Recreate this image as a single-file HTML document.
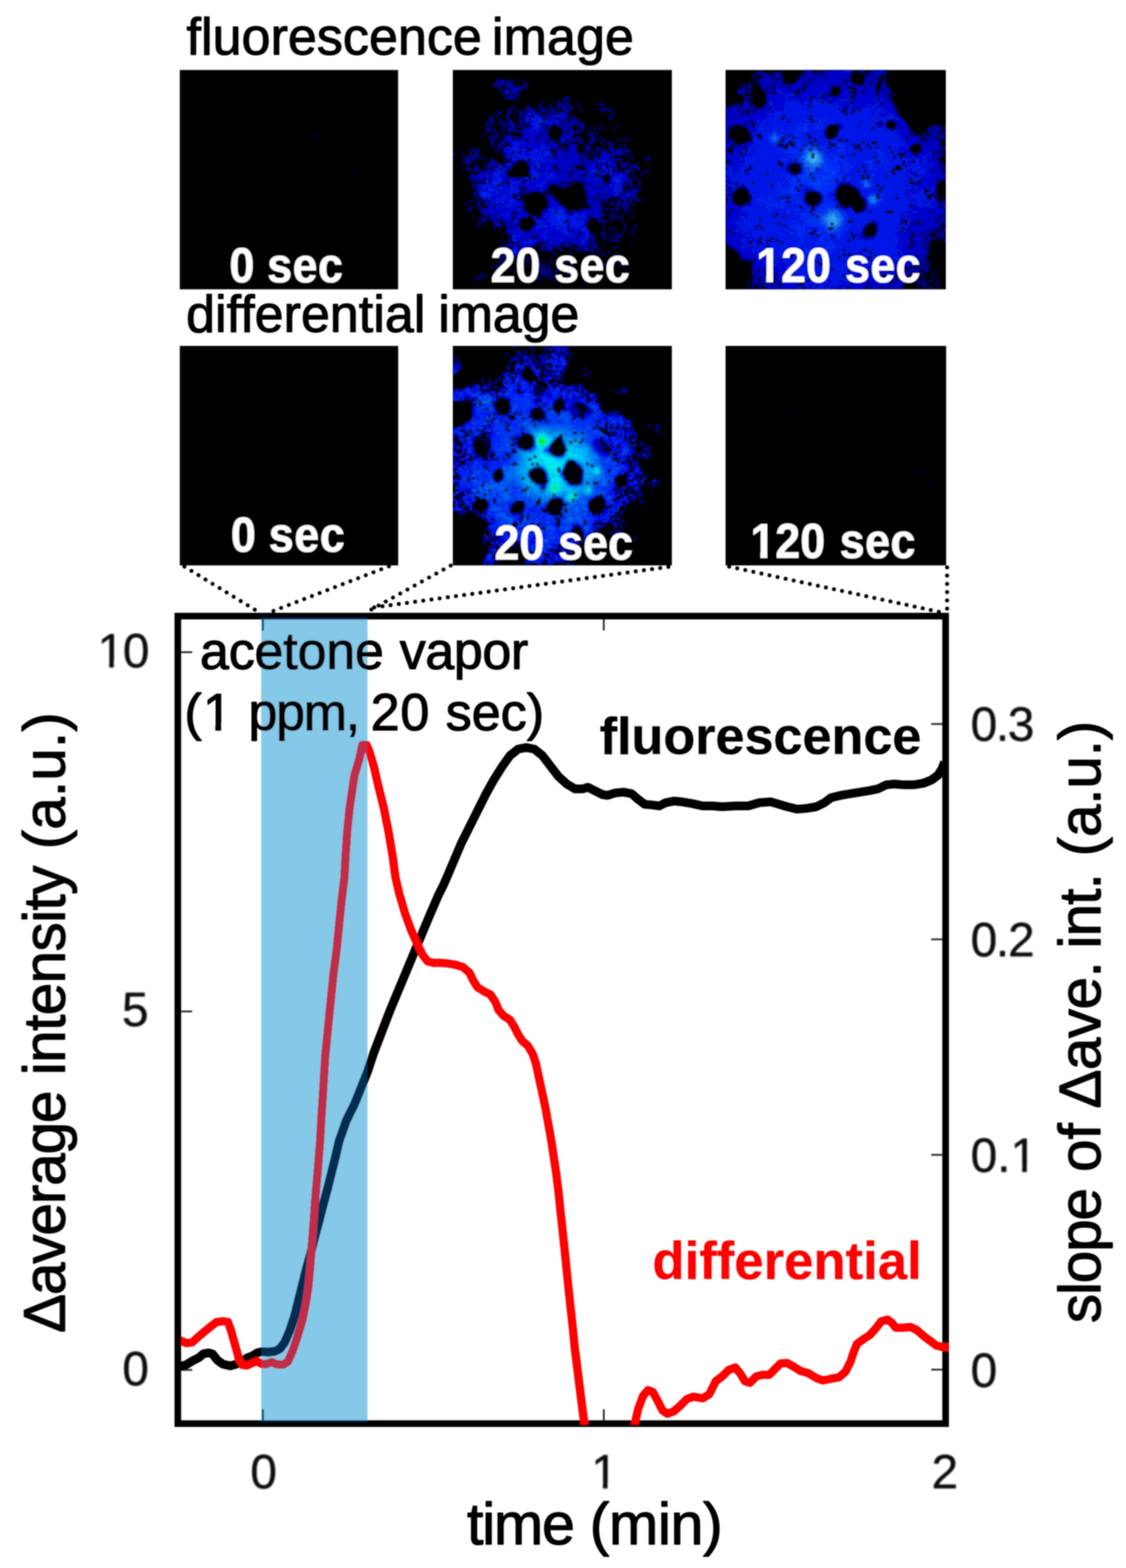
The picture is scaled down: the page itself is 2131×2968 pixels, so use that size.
<!DOCTYPE html>
<html lang="en"><head><meta charset="utf-8"><title>fluorescence image, differential image</title>
<style>html,body{margin:0;padding:0;background:#fff;}body{width:2131px;height:2968px;overflow:hidden;}svg{display:block;}text{font-family:"Liberation Sans",sans-serif;}</style>
</head><body>
<svg width="2131" height="2968" viewBox="0 0 2131 2968">
<defs>
<clipPath id="cband"><rect x="494.3" y="1166.2" width="201.2" height="1528.5"/></clipPath>
<clipPath id="cplot"><rect x="330.2" y="1166.2" width="1465.6" height="1530.5"/></clipPath>
<clipPath id="cf0"><rect x="340.3" y="132.5" width="413.1" height="415.1"/></clipPath>
<clipPath id="cf20"><rect x="857.0" y="132.5" width="414.5" height="415.1"/></clipPath>
<clipPath id="cf120"><rect x="1373.2" y="132.5" width="416.8" height="415.1"/></clipPath>
<clipPath id="cd0"><rect x="340.3" y="654.8" width="413.3" height="415.4"/></clipPath>
<clipPath id="cd20"><rect x="857.0" y="654.8" width="414.5" height="415.4"/></clipPath>
<clipPath id="cd120"><rect x="1373.2" y="654.8" width="417.4" height="415.4"/></clipPath>
<filter id="soft" x="-2%" y="-2%" width="104%" height="104%"><feGaussianBlur stdDeviation="1.2"/></filter>
<filter id="softi" x="-5%" y="-5%" width="110%" height="110%"><feGaussianBlur stdDeviation="1.5"/></filter>
<filter id="softt" x="-20%" y="-20%" width="140%" height="140%"><feGaussianBlur stdDeviation="1.0"/></filter>
<clipPath id="k0"><path clip-rule="evenodd" d="M-3000 -300H3000V300H-3000zM1560.7 -11.6H1583.3V5.5H1560.7zM1597.2 -11.6H1613.2V5.5H1597.2z"/></clipPath><clipPath id="k1"><path clip-rule="evenodd" d="M-3000 -300H3000V300H-3000zM1548.6 -11.6H1571.2V5.5H1548.6zM1585.1 -11.6H1601.1V5.5H1585.1z"/></clipPath><clipPath id="k2"><path clip-rule="evenodd" d="M-3000 -300H3000V300H-3000zM382.2 -13.3H407.6V5.9H382.2zM418.4 -13.3H438.2V5.9H418.4z"/></clipPath><clipPath id="k3"><path clip-rule="evenodd" d="M-3000 -300H3000V300H-3000zM182.8 -12.2H206.7V5.4H182.8zM215.4 -12.2H234.2V5.4H215.4z"/></clipPath><clipPath id="k4"><path clip-rule="evenodd" d="M-3000 -300H3000V300H-3000zM1910.6 -12.2H1934.5V5.4H1910.6zM1943.2 -12.2H1962.0V5.4H1943.2z"/></clipPath><clipPath id="k5"><path clip-rule="evenodd" d="M-3000 -300H3000V300H-3000zM1117.2 -12.2H1141.1V5.4H1117.2zM1149.8 -12.2H1168.6V5.4H1149.8z"/></clipPath></defs>
<rect width="2131" height="2968" fill="#fff"/>
<g filter="url(#soft)">
<rect x="340.3" y="132.5" width="413.1" height="415.1" fill="#000"/>
<g clip-path="url(#cf0)"><g filter="url(#softi)">
<g transform="translate(340.3,132.5) scale(4.49022,4.51196)">
<path fill="#00002a" d="M52 37h1v1h-1zM61 72h1v1h-1z"/>
<path fill="#00003f" d="M6 26h1v1h-1zM73 43h1v1h-1z"/>
<path fill="#000054" d="M57 27h1v1h-1z"/>
</g>
</g></g>
<rect x="857.0" y="132.5" width="414.5" height="415.1" fill="#000"/>
<g clip-path="url(#cf20)"><g filter="url(#softi)">
<g transform="translate(857.0,132.5) scale(4.50543,4.51196)">
<path fill="#00002a" d="M10 43h1v1h-1zM12 87h1v1h-1zM15 18h1v1h-1zM19 86h1v1h-1zM24 12h1v1h-1zM24 69h1v1h-1zM27 80h1v1h-1zM28 76h1v1h-1zM39 56h1v1h-1zM40 48h1v1h-1zM43 84h1v1h-1zM45 24h1v1h-1zM48 23h1v1h-1zM54 25h1v1h-1zM57 26h1v1h-1zM66 74h1v1h-1zM69 61h1v1h-1zM75 66h1v1h-1z"/>
<path fill="#00003f" d="M3 44h1v1h-1zM18 33h1v1h-1zM19 8h1v1h-1zM20 22h1v1h-1zM21 9h1v1h-1zM23 21h1v1h-1zM23 69h1v1h-1zM24 64h1v1h-1zM25 4h1v1h-1zM29 4h1v1h-1zM33 78h1v1h-1zM42 77h1v1h-1zM43 54h1v1h-1zM60 16h1v1h-1zM63 33h1v1h-1zM67 31h1v1h-1zM72 83h1v1h-1zM73 60h1v1h-1zM79 54h1v1h-1z"/>
<path fill="#000054" d="M3 33h1v1h-1zM7 36h1v1h-1zM7 42h1v1h-1zM17 24h1v1h-1zM18 34h1v1h-1zM22 75h1v1h-1zM24 80h1v1h-1zM31 78h1v1h-1zM49 74h1v1h-1zM54 90h1v1h-1zM56 84h1v1h-1zM58 71h1v1h-1zM66 37h1v1h-1zM74 59h1v1h-1zM78 41h1v1h-1z"/>
<path fill="#000069" d="M10 35h1v1h-1zM13 61h1v1h-1zM18 3h1v1h-1zM22 73h1v1h-1zM26 4h1v1h-1zM41 23h1v1h-1zM42 87h1v1h-1zM44 84h1v1h-1zM49 73h1v1h-1zM59 69h1v1h-1zM59 71h1v1h-1zM62 16h1v1h-1zM64 81h1v1h-1zM64 83h1v1h-1zM66 66h1v1h-1zM67 24h1v1h-1zM69 23h1v1h-1zM71 29h1v1h-1zM73 45h1v1h-1zM74 72h1v1h-1zM75 69h1v1h-1z"/>
<path fill="#00007e" d="M10 46h1v1h-1zM12 48h1v1h-1zM17 18h1v1h-1zM25 25h1v1h-1zM26 18h1v1h-1zM28 7h1v1h-1zM31 79h1v1h-1zM32 51h1v1h-1zM37 74h1v1h-1zM39 50h1v1h-1zM40 86h1v1h-1zM41 14h1v1h-1zM45 17h1v1h-1zM46 12h1v1h-1zM53 30h1v1h-1zM55 32h1v1h-1zM57 24h1v1h-1zM59 24h1v1h-1zM60 14h1v1h-1zM62 22h1v1h-1zM63 24h1v1h-1zM66 54h1v1h-1zM67 66h1v1h-1zM68 53h1v1h-1zM70 61h1v1h-1zM71 40h1v1h-1zM74 29h1v1h-1zM76 69h1v1h-1z"/>
<path fill="#000093" d="M0 35h1v1h-1zM4 38h1v1h-1zM4 41h1v1h-1zM4 36h3v1h-3zM5 56h1v1h-1zM6 41h1v1h-1zM7 34h1v2h-1zM7 55h1v1h-1zM7 58h1v1h-1zM8 33h1v1h-1zM8 54h1v1h-1zM8 57h1v1h-1zM8 61h1v1h-1zM9 39h1v1h-1zM9 44h1v1h-1zM9 87h2v1h-2zM10 33h1v1h-1zM10 37h1v1h-1zM11 45h1v1h-1zM11 55h1v1h-1zM11 86h1v1h-1zM12 61h1v1h-1zM12 85h1v1h-1zM13 37h1v1h-1zM13 40h1v1h-1zM13 45h1v1h-1zM13 56h1v1h-1zM13 86h1v1h-1zM15 43h1v1h-1zM16 82h1v1h-1zM17 32h1v1h-1zM18 4h1v1h-1zM18 30h1v1h-1zM18 39h1v1h-1zM18 75h1v1h-1zM18 82h1v2h-1zM19 22h1v1h-1zM19 76h1v1h-1zM20 24h1v1h-1zM20 31h1v1h-1zM20 65h1v1h-1zM20 71h1v1h-1zM20 73h1v1h-1zM20 78h1v1h-1zM21 35h1v1h-1zM22 23h1v1h-1zM22 43h1v1h-1zM22 64h1v1h-1zM22 81h1v1h-1zM23 7h1v1h-1zM23 16h1v2h-1zM23 82h1v1h-1zM24 27h1v1h-1zM24 72h1v1h-1zM25 6h1v1h-1zM25 15h1v1h-1zM25 74h1v1h-1zM26 9h1v1h-1zM26 16h1v1h-1zM26 78h1v1h-1zM27 8h1v1h-1zM27 28h1v1h-1zM28 17h1v1h-1zM28 62h1v1h-1zM28 78h1v1h-1zM30 6h1v2h-1zM30 79h1v1h-1zM31 81h1v1h-1zM31 17h2v1h-2zM34 85h1v1h-1zM36 14h1v1h-1zM36 80h1v1h-1zM37 13h1v1h-1zM37 59h1v1h-1zM38 81h1v1h-1zM39 18h1v1h-1zM39 27h1v1h-1zM39 53h1v1h-1zM40 52h2v1h-2zM41 75h1v1h-1zM41 79h1v1h-1zM42 53h1v1h-1zM42 85h1v1h-1zM43 18h1v1h-1zM43 83h1v1h-1zM43 87h1v1h-1zM44 48h1v1h-1zM46 23h1v1h-1zM46 33h1v1h-1zM46 49h1v1h-1zM46 24h2v1h-2zM47 11h1v1h-1zM47 13h1v1h-1zM47 34h1v1h-1zM47 79h1v1h-1zM48 15h1v1h-1zM48 17h1v1h-1zM49 79h1v1h-1zM49 81h1v1h-1zM50 74h1v1h-1zM50 29h2v1h-2zM52 14h1v1h-1zM53 16h1v1h-1zM53 25h1v1h-1zM53 28h1v1h-1zM54 29h1v2h-1zM54 47h1v1h-1zM55 49h1v1h-1zM55 86h1v1h-1zM56 26h1v1h-1zM56 31h1v1h-1zM56 80h1v1h-1zM57 34h1v1h-1zM57 37h1v1h-1zM58 78h1v1h-1zM59 36h1v1h-1zM60 32h1v2h-1zM60 52h1v1h-1zM60 55h1v1h-1zM61 24h1v1h-1zM61 28h1v1h-1zM61 75h1v1h-1zM62 57h1v1h-1zM62 68h1v1h-1zM62 76h1v1h-1zM63 70h1v2h-1zM63 81h1v1h-1zM63 16h4v1h-4zM64 55h1v1h-1zM64 63h1v1h-1zM65 35h1v1h-1zM65 67h1v1h-1zM66 20h1v1h-1zM66 30h1v1h-1zM66 39h1v1h-1zM67 17h1v1h-1zM67 19h1v1h-1zM67 37h1v1h-1zM67 62h1v1h-1zM67 69h1v1h-1zM67 71h3v1h-3zM68 42h1v1h-1zM68 57h1v2h-1zM68 80h1v1h-1zM69 29h1v1h-1zM69 52h1v1h-1zM70 39h1v1h-1zM70 56h1v1h-1zM70 62h1v1h-1zM71 48h1v1h-1zM71 52h1v1h-1zM71 57h1v1h-1zM71 60h1v1h-1zM71 63h1v1h-1zM71 68h1v1h-1zM71 79h1v2h-1zM72 28h1v1h-1zM72 33h1v1h-1zM72 43h1v1h-1zM72 66h1v1h-1zM72 51h2v1h-2zM74 34h1v1h-1zM74 36h1v1h-1zM75 37h1v1h-1zM75 42h1v2h-1zM75 48h1v1h-1zM75 61h1v1h-1zM75 67h1v1h-1zM76 45h1v1h-1zM76 56h1v1h-1zM77 39h1v2h-1zM77 48h1v1h-1zM78 46h1v1h-1zM78 54h1v1h-1zM81 37h2v1h-2zM82 36h1v1h-1z"/>
<path fill="#0000a8" d="M5 38h2v1h-2zM6 58h1v1h-1zM7 45h2v1h-2zM8 36h1v1h-1zM8 46h1v1h-1zM9 33h1v1h-1zM10 41h1v1h-1zM10 44h1v1h-1zM10 50h1v1h-1zM10 65h1v1h-1zM11 43h1v1h-1zM11 57h1v1h-1zM12 27h1v1h-1zM13 42h1v1h-1zM13 44h1v1h-1zM13 60h1v1h-1zM13 63h1v1h-1zM14 39h1v1h-1zM16 20h1v1h-1zM16 31h1v1h-1zM16 59h1v1h-1zM17 6h1v1h-1zM17 61h1v1h-1zM18 5h1v1h-1zM18 19h1v1h-1zM18 26h1v1h-1zM18 64h1v2h-1zM19 31h1v1h-1zM19 33h1v1h-1zM19 60h1v1h-1zM19 80h1v1h-1zM20 4h1v1h-1zM20 81h1v1h-1zM21 22h1v2h-1zM21 30h1v1h-1zM21 32h1v1h-1zM21 63h2v1h-2zM22 8h1v1h-1zM22 42h1v1h-1zM22 67h1v1h-1zM22 76h1v1h-1zM23 4h1v1h-1zM24 8h1v1h-1zM24 40h1v1h-1zM24 70h1v1h-1zM25 29h1v1h-1zM25 39h1v1h-1zM28 8h1v1h-1zM28 18h1v1h-1zM28 23h1v1h-1zM28 29h1v1h-1zM28 54h1v1h-1zM29 7h1v1h-1zM29 26h1v1h-1zM29 28h1v1h-1zM29 55h1v1h-1zM29 70h1v2h-1zM30 5h1v1h-1zM30 75h1v1h-1zM30 51h2v1h-2zM31 71h1v1h-1zM32 20h1v2h-1zM32 24h1v1h-1zM34 61h1v1h-1zM34 63h1v1h-1zM34 82h1v1h-1zM34 84h1v1h-1zM34 86h1v1h-1zM35 26h1v1h-1zM35 87h2v1h-2zM37 17h1v1h-1zM38 24h1v1h-1zM38 25h2v1h-2zM39 20h1v1h-1zM39 26h1v1h-1zM39 84h1v1h-1zM39 86h1v1h-1zM40 19h1v1h-1zM40 73h1v1h-1zM40 75h1v1h-1zM41 20h1v1h-1zM41 87h1v1h-1zM42 76h1v1h-1zM43 15h1v1h-1zM44 23h1v1h-1zM44 74h1v1h-1zM44 82h2v1h-2zM45 33h1v1h-1zM46 30h1v1h-1zM46 36h1v1h-1zM46 79h1v1h-1zM47 12h1v1h-1zM47 21h1v1h-1zM47 23h1v1h-1zM48 11h1v1h-1zM48 13h1v1h-1zM48 24h1v1h-1zM48 85h1v1h-1zM49 16h1v1h-1zM49 19h1v1h-1zM49 21h1v2h-1zM49 25h1v1h-1zM49 34h1v2h-1zM49 76h1v1h-1zM49 83h1v1h-1zM51 38h1v1h-1zM52 26h1v1h-1zM54 36h1v1h-1zM54 40h2v1h-2zM55 34h1v1h-1zM55 48h1v1h-1zM56 55h1v1h-1zM57 40h1v1h-1zM57 47h1v1h-1zM57 68h1v1h-1zM57 72h1v1h-1zM57 78h1v1h-1zM58 33h1v1h-1zM58 55h1v1h-1zM58 76h1v1h-1zM58 29h2v1h-2zM59 49h1v1h-1zM59 54h1v1h-1zM59 72h1v1h-1zM59 74h1v1h-1zM60 57h1v1h-1zM60 76h1v1h-1zM61 55h1v1h-1zM62 17h1v1h-1zM62 30h1v1h-1zM62 54h1v1h-1zM62 14h2v1h-2zM63 48h1v1h-1zM63 69h1v1h-1zM63 77h1v1h-1zM64 34h1v1h-1zM64 54h1v1h-1zM65 19h1v1h-1zM65 30h1v1h-1zM65 33h1v1h-1zM65 69h1v1h-1zM65 76h1v1h-1zM66 62h1v1h-1zM67 36h1v1h-1zM67 55h1v1h-1zM67 81h1v1h-1zM68 40h1v1h-1zM68 67h1v1h-1zM68 70h1v1h-1zM68 77h1v1h-1zM69 37h1v1h-1zM70 31h1v1h-1zM70 52h1v2h-1zM70 80h1v1h-1zM70 33h2v1h-2zM71 39h1v1h-1zM71 56h1v1h-1zM71 81h1v1h-1zM72 31h1v1h-1zM72 35h1v1h-1zM72 65h1v1h-1zM73 33h1v2h-1zM73 58h1v1h-1zM74 40h2v1h-2zM75 45h1v1h-1zM75 51h1v1h-1zM78 47h1v1h-1zM79 43h1v1h-1zM81 42h1v1h-1z"/>
<path fill="#0000bd" d="M6 37h1v1h-1zM6 39h1v1h-1zM7 38h1v1h-1zM7 41h1v1h-1zM7 44h2v1h-2zM9 35h1v1h-1zM9 41h1v2h-1zM9 45h1v1h-1zM9 47h1v1h-1zM9 49h1v1h-1zM10 34h1v1h-1zM10 40h1v1h-1zM10 48h1v1h-1zM10 55h1v2h-1zM11 36h1v1h-1zM11 42h1v1h-1zM11 62h1v1h-1zM11 64h1v1h-1zM11 58h2v1h-2zM12 50h1v1h-1zM12 59h1v1h-1zM12 63h1v1h-1zM13 62h1v1h-1zM14 23h1v1h-1zM14 43h1v1h-1zM14 58h1v2h-1zM14 22h2v1h-2zM14 25h2v1h-2zM15 20h1v1h-1zM15 24h1v1h-1zM15 28h1v1h-1zM15 39h1v1h-1zM15 41h1v1h-1zM15 45h1v1h-1zM15 62h1v1h-1zM16 21h1v1h-1zM16 27h1v1h-1zM16 29h1v2h-1zM16 37h1v1h-1zM16 42h1v2h-1zM16 61h1v1h-1zM16 38h2v1h-2zM16 58h2v1h-2zM17 22h1v1h-1zM17 25h1v1h-1zM17 28h1v1h-1zM17 39h1v1h-1zM17 54h1v1h-1zM17 63h1v2h-1zM17 66h1v1h-1zM17 60h2v1h-2zM18 6h1v1h-1zM18 27h1v1h-1zM18 61h1v2h-1zM18 76h1v1h-1zM18 56h2v1h-2zM18 59h2v1h-2zM19 7h1v1h-1zM19 17h1v2h-1zM19 28h1v1h-1zM19 32h1v1h-1zM19 65h1v1h-1zM19 5h2v1h-2zM19 77h2v1h-2zM20 21h1v1h-1zM20 30h1v1h-1zM20 61h1v1h-1zM21 4h1v1h-1zM21 10h1v1h-1zM21 25h1v1h-1zM21 75h1v1h-1zM22 37h1v1h-1zM22 44h1v1h-1zM22 6h3v1h-3zM22 65h3v1h-3zM23 11h1v1h-1zM23 18h1v1h-1zM23 27h1v1h-1zM23 29h1v1h-1zM23 33h1v1h-1zM23 41h1v1h-1zM23 45h1v2h-1zM23 48h1v1h-1zM23 59h1v1h-1zM23 67h1v1h-1zM23 71h1v1h-1zM23 78h1v1h-1zM23 5h2v1h-2zM23 25h2v1h-2zM23 62h2v1h-2zM23 66h2v1h-2zM23 22h3v1h-3zM24 17h1v1h-1zM24 21h1v1h-1zM24 30h1v1h-1zM24 36h1v2h-1zM24 63h1v1h-1zM24 76h1v1h-1zM25 11h1v1h-1zM25 23h1v2h-1zM25 67h1v1h-1zM25 38h2v1h-2zM26 7h1v2h-1zM26 12h1v1h-1zM26 28h1v1h-1zM26 62h1v1h-1zM26 72h1v1h-1zM26 10h2v1h-2zM26 25h2v1h-2zM27 23h1v1h-1zM27 59h1v1h-1zM27 64h1v1h-1zM27 76h1v1h-1zM27 73h2v1h-2zM28 19h1v2h-1zM28 26h1v1h-1zM28 52h1v1h-1zM28 68h1v1h-1zM28 21h3v1h-3zM29 25h1v1h-1zM29 37h1v1h-1zM29 51h1v1h-1zM29 56h1v2h-1zM29 67h1v1h-1zM29 75h1v1h-1zM29 29h2v1h-2zM29 59h2v1h-2zM30 26h1v1h-1zM30 50h1v1h-1zM30 70h1v1h-1zM31 18h1v1h-1zM31 60h1v1h-1zM31 69h1v1h-1zM31 73h1v1h-1zM31 19h2v1h-2zM31 68h3v1h-3zM32 16h1v1h-1zM32 26h1v1h-1zM32 28h1v1h-1zM32 31h1v1h-1zM32 41h1v1h-1zM32 70h1v1h-1zM32 74h1v1h-1zM33 17h1v1h-1zM33 61h1v1h-1zM33 66h1v1h-1zM33 73h1v1h-1zM34 18h1v1h-1zM34 26h1v1h-1zM34 30h1v1h-1zM34 81h1v1h-1zM34 72h2v1h-2zM35 70h1v1h-1zM35 83h1v2h-1zM35 82h2v1h-2zM36 15h1v1h-1zM36 17h1v1h-1zM36 24h1v4h-1zM36 28h2v1h-2zM37 20h1v1h-1zM37 51h1v1h-1zM37 60h1v2h-1zM37 75h1v1h-1zM37 83h1v2h-1zM37 19h2v1h-2zM37 85h2v1h-2zM38 22h1v2h-1zM38 73h1v1h-1zM38 82h1v1h-1zM38 29h2v1h-2zM39 17h1v1h-1zM39 49h1v1h-1zM39 72h1v1h-1zM39 74h1v2h-1zM39 28h2v1h-2zM40 15h1v1h-1zM40 20h1v1h-1zM40 23h1v2h-1zM40 45h1v1h-1zM40 47h1v1h-1zM40 56h1v1h-1zM40 81h1v1h-1zM40 84h1v2h-1zM40 42h2v1h-2zM40 71h2v1h-2zM41 22h1v1h-1zM41 29h1v1h-1zM41 40h1v1h-1zM41 53h1v1h-1zM41 70h1v1h-1zM41 74h1v1h-1zM41 54h2v1h-2zM42 18h1v1h-1zM42 31h1v1h-1zM42 41h1v1h-1zM42 47h2v1h-2zM42 69h2v1h-2zM42 73h2v1h-2zM43 19h1v1h-1zM43 32h1v1h-1zM43 37h1v1h-1zM43 39h1v1h-1zM43 42h1v1h-1zM44 13h1v1h-1zM44 31h1v1h-1zM44 33h1v1h-1zM44 38h1v1h-1zM44 41h1v1h-1zM44 55h1v1h-1zM44 43h3v1h-3zM45 35h1v1h-1zM45 37h1v1h-1zM45 75h1v1h-1zM45 14h2v1h-2zM45 34h2v1h-2zM45 44h4v1h-4zM45 48h4v1h-4zM46 25h1v2h-1zM46 32h1v1h-1zM46 39h1v2h-1zM46 42h1v1h-1zM46 57h1v1h-1zM46 69h1v1h-1zM46 80h1v2h-1zM46 18h2v1h-2zM46 73h2v1h-2zM47 17h1v1h-1zM47 30h1v1h-1zM47 35h1v2h-1zM47 38h1v1h-1zM47 58h1v1h-1zM47 70h1v1h-1zM47 83h1v1h-1zM47 46h2v1h-2zM47 45h3v1h-3zM48 14h1v1h-1zM48 26h1v1h-1zM48 34h1v1h-1zM48 37h1v1h-1zM48 43h1v1h-1zM48 71h2v1h-2zM48 32h4v2h-4zM49 15h1v1h-1zM49 24h1v1h-1zM49 29h1v3h-1zM49 38h1v1h-1zM49 72h1v1h-1zM49 82h1v1h-1zM49 59h4v1h-4zM50 22h1v1h-1zM50 26h1v1h-1zM50 34h1v1h-1zM50 40h1v2h-1zM50 47h1v1h-1zM50 70h1v1h-1zM50 20h2v1h-2zM51 36h1v1h-1zM51 72h1v1h-1zM51 43h2v1h-2zM51 39h3v1h-3zM51 45h3v1h-3zM52 28h1v2h-1zM52 35h1v1h-1zM52 70h1v2h-1zM52 46h3v1h-3zM52 38h4v1h-4zM53 37h1v1h-1zM53 44h1v1h-1zM53 75h1v1h-1zM54 22h1v1h-1zM54 24h1v1h-1zM54 35h1v1h-1zM54 43h1v1h-1zM54 73h1v1h-1zM54 74h2v1h-2zM54 58h7v1h-7zM55 45h1v1h-1zM55 59h1v1h-1zM55 72h1v1h-1zM55 36h2v1h-2zM56 33h1v1h-1zM56 39h1v3h-1zM56 46h1v2h-1zM56 49h1v1h-1zM56 63h1v1h-1zM56 66h1v1h-1zM56 73h1v1h-1zM56 75h1v1h-1zM56 32h2v1h-2zM56 50h2v1h-2zM56 54h2v1h-2zM57 27h1v1h-1zM57 53h1v1h-1zM57 56h1v1h-1zM57 70h1v1h-1zM57 30h2v1h-2zM57 48h3v1h-3zM57 52h3v1h-3zM57 59h3v1h-3zM57 38h4v1h-4zM58 26h1v1h-1zM58 35h1v1h-1zM58 57h1v1h-1zM58 60h1v2h-1zM58 69h1v1h-1zM58 72h1v1h-1zM58 74h1v2h-1zM58 28h2v1h-2zM58 47h2v1h-2zM59 37h1v1h-1zM59 40h1v1h-1zM59 46h1v1h-1zM59 50h1v1h-1zM59 55h1v2h-1zM59 73h2v1h-2zM60 26h1v1h-1zM60 35h1v1h-1zM60 41h1v1h-1zM60 51h1v1h-1zM60 54h1v1h-1zM60 49h2v1h-2zM60 53h2v1h-2zM61 33h1v1h-1zM61 40h1v1h-1zM61 46h1v1h-1zM61 48h1v1h-1zM61 57h1v1h-1zM61 63h1v1h-1zM61 47h2v1h-2zM62 51h1v1h-1zM62 58h1v1h-1zM63 29h1v1h-1zM63 32h1v1h-1zM63 34h1v1h-1zM63 60h1v1h-1zM63 63h1v1h-1zM63 65h1v1h-1zM63 68h1v1h-1zM63 53h3v1h-3zM64 37h1v2h-1zM64 40h1v1h-1zM64 51h1v1h-1zM64 58h1v1h-1zM64 49h3v1h-3zM65 47h1v2h-1zM66 31h1v2h-1zM66 51h1v1h-1zM66 56h1v1h-1zM66 58h1v1h-1zM66 71h1v1h-1zM66 60h2v1h-2zM67 33h1v1h-1zM67 35h1v1h-1zM67 34h2v1h-2zM68 39h1v1h-1zM68 61h1v1h-1zM68 74h1v1h-1zM69 55h1v2h-1zM69 58h1v1h-1zM70 35h1v1h-1zM70 37h1v1h-1zM70 43h1v1h-1zM70 69h1v1h-1zM71 34h1v1h-1zM71 50h1v1h-1zM71 54h2v1h-2zM72 56h1v1h-1zM72 39h2v1h-2zM73 44h1v1h-1zM73 57h1v1h-1zM74 46h1v3h-1zM74 53h1v1h-1zM76 40h1v1h-1zM76 52h1v2h-1zM76 65h1v1h-1zM77 41h1v1h-1zM77 54h1v1h-1zM78 50h1v1h-1z"/>
<path fill="#0000d2" d="M8 37h1v1h-1zM8 48h1v1h-1zM9 36h1v1h-1zM9 51h1v2h-1zM10 45h1v1h-1zM10 53h1v1h-1zM10 49h2v1h-2zM11 46h1v1h-1zM11 50h1v1h-1zM11 44h2v1h-2zM12 45h1v1h-1zM12 47h1v1h-1zM12 53h1v1h-1zM12 43h2v1h-2zM12 54h2v1h-2zM13 46h1v1h-1zM13 58h1v2h-1zM13 50h2v1h-2zM14 45h1v1h-1zM14 49h1v1h-1zM14 42h2v1h-2zM14 60h3v1h-3zM14 56h4v1h-4zM15 40h1v1h-1zM15 47h1v1h-1zM15 58h1v2h-1zM15 44h2v1h-2zM15 57h2v1h-2zM15 51h3v1h-3zM16 39h1v1h-1zM16 45h1v2h-1zM16 48h1v1h-1zM16 54h1v1h-1zM16 62h2v1h-2zM16 53h4v1h-4zM17 40h1v2h-1zM17 52h1v1h-1zM17 55h1v1h-1zM17 59h1v1h-1zM17 42h2v1h-2zM17 49h2v1h-2zM18 45h1v1h-1zM18 48h1v1h-1zM18 58h9v1h-9zM19 39h1v1h-1zM19 41h1v1h-1zM19 51h1v1h-1zM19 55h1v1h-1zM19 63h1v2h-1zM19 52h2v1h-2zM19 57h2v1h-2zM19 50h3v1h-3zM20 6h1v1h-1zM20 43h1v1h-1zM20 44h2v1h-2zM20 48h2v1h-2zM20 56h2v1h-2zM20 45h3v1h-3zM20 59h3v1h-3zM20 62h3v1h-3zM21 5h1v1h-1zM21 8h1v1h-1zM21 27h1v1h-1zM21 42h1v1h-1zM21 46h1v1h-1zM21 60h1v1h-1zM21 79h1v1h-1zM21 29h2v1h-2zM21 33h2v2h-2zM21 39h2v1h-2zM21 47h2v1h-2zM21 54h2v1h-2zM21 74h2v1h-2zM21 49h3v1h-3zM21 51h3v1h-3zM21 61h4v1h-4zM22 11h1v1h-1zM22 19h1v1h-1zM22 32h1v1h-1zM22 36h1v1h-1zM22 41h1v1h-1zM22 57h1v1h-1zM22 77h1v2h-1zM22 40h2v1h-2zM22 55h2v1h-2zM22 28h3v1h-3zM22 35h3v1h-3zM23 8h1v2h-1zM23 20h1v1h-1zM23 24h1v1h-1zM23 30h1v1h-1zM23 50h1v1h-1zM23 52h1v1h-1zM23 63h1v2h-1zM23 75h2v1h-2zM23 53h3v1h-3zM23 73h4v1h-4zM23 68h5v1h-5zM24 10h1v2h-1zM24 23h1v1h-1zM24 29h1v1h-1zM24 32h1v1h-1zM24 34h1v1h-1zM24 38h1v2h-1zM24 59h1v1h-1zM24 67h1v1h-1zM24 77h1v1h-1zM24 31h2v1h-2zM24 60h2v1h-2zM24 45h3v1h-3zM24 57h3v1h-3zM25 7h1v3h-1zM25 50h1v1h-1zM25 56h1v1h-1zM25 63h1v1h-1zM25 65h1v1h-1zM25 64h2v1h-2zM25 66h2v1h-2zM25 46h3v1h-3zM25 48h4v1h-4zM26 36h1v1h-1zM26 54h1v1h-1zM26 59h1v1h-1zM26 77h1v1h-1zM26 29h2v1h-2zM26 67h2v1h-2zM26 55h3v1h-3zM26 70h3v1h-3zM26 61h6v1h-6zM27 7h1v1h-1zM27 34h1v1h-1zM27 49h1v1h-1zM27 51h1v2h-1zM27 62h1v2h-1zM27 65h1v1h-1zM27 37h2v1h-2zM27 71h2v1h-2zM27 75h2v1h-2zM27 60h4v1h-4zM27 32h10v1h-10zM28 30h1v1h-1zM28 33h1v1h-1zM28 35h1v1h-1zM28 47h1v1h-1zM28 50h1v1h-1zM28 56h1v2h-1zM28 59h1v1h-1zM28 72h1v1h-1zM28 45h2v1h-2zM28 69h3v1h-3zM28 31h4v1h-4zM28 74h4v1h-4zM29 17h1v1h-1zM29 23h1v1h-1zM29 46h1v1h-1zM29 49h1v1h-1zM29 58h1v1h-1zM29 73h2v1h-2zM29 27h7v1h-7zM30 18h1v3h-1zM30 22h1v1h-1zM30 47h1v1h-1zM30 68h1v1h-1zM30 24h2v2h-2zM30 28h2v1h-2zM30 34h2v1h-2zM30 35h3v1h-3zM30 30h4v1h-4zM30 48h5v1h-5zM31 15h1v2h-1zM31 26h1v1h-1zM31 70h1v1h-1zM31 38h2v1h-2zM31 46h2v1h-2zM31 50h6v1h-6zM31 49h8v1h-8zM32 22h1v1h-1zM32 40h1v1h-1zM32 42h1v2h-1zM32 69h1v1h-1zM32 73h1v1h-1zM32 23h2v1h-2zM32 39h2v1h-2zM32 47h5v1h-5zM32 67h7v1h-7zM33 16h1v1h-1zM33 18h1v1h-1zM33 21h1v1h-1zM33 24h1v1h-1zM33 33h1v1h-1zM33 70h1v2h-1zM33 25h2v1h-2zM33 28h2v1h-2zM33 31h4v1h-4zM33 29h5v1h-5zM34 17h1v1h-1zM34 38h1v1h-1zM34 65h1v2h-1zM34 69h1v1h-1zM34 73h1v1h-1zM34 35h2v1h-2zM34 68h4v1h-4zM34 41h5v1h-5zM34 46h13v1h-13zM35 18h1v1h-1zM35 20h1v2h-1zM35 42h1v1h-1zM35 64h1v1h-1zM35 62h5v1h-5zM35 71h5v1h-5zM36 19h1v1h-1zM36 22h1v1h-1zM36 33h1v1h-1zM36 38h1v1h-1zM36 81h1v1h-1zM36 66h2v1h-2zM36 70h2v1h-2zM36 30h3v1h-3zM36 45h3v1h-3zM37 23h1v3h-1zM37 34h1v2h-1zM37 43h1v1h-1zM37 64h1v1h-1zM37 69h1v1h-1zM37 73h1v1h-1zM37 16h2v1h-2zM37 26h2v1h-2zM37 42h3v1h-3zM37 44h3v1h-3zM37 40h4v1h-4zM38 27h1v2h-1zM38 36h1v1h-1zM38 50h1v1h-1zM38 60h1v1h-1zM38 84h1v1h-1zM38 37h2v1h-2zM38 48h2v1h-2zM38 63h2v1h-2zM38 33h3v1h-3zM38 59h3v1h-3zM38 31h4v1h-4zM38 39h5v1h-5zM39 22h1v1h-1zM39 32h1v1h-1zM39 47h1v1h-1zM39 52h1v1h-1zM39 58h1v1h-1zM39 69h1v1h-1zM39 73h1v1h-1zM39 64h2v1h-2zM39 66h2v1h-2zM39 38h5v1h-5zM39 68h8v1h-8zM40 18h1v1h-1zM40 21h1v1h-1zM40 43h1v1h-1zM40 53h1v2h-1zM40 61h1v1h-1zM40 65h1v1h-1zM40 70h1v1h-1zM40 72h1v1h-1zM40 74h1v1h-1zM40 83h1v1h-1zM40 41h2v1h-2zM40 55h2v1h-2zM40 57h2v1h-2zM40 30h3v1h-3zM40 67h5v1h-5zM41 16h1v1h-1zM41 19h1v1h-1zM41 47h1v1h-1zM41 69h1v1h-1zM41 73h1v1h-1zM41 17h2v1h-2zM41 35h2v1h-2zM41 37h2v1h-2zM41 56h4v1h-4zM42 21h1v1h-1zM42 32h1v2h-1zM42 42h1v1h-1zM42 45h1v1h-1zM42 65h1v2h-1zM42 20h2v1h-2zM42 22h2v1h-2zM42 43h2v1h-2zM42 71h3v1h-3zM42 72h4v1h-4zM43 31h1v1h-1zM43 55h1v1h-1zM43 57h1v1h-1zM43 34h2v1h-2zM43 44h2v1h-2zM43 36h3v1h-3zM43 70h4v1h-4zM44 14h1v1h-1zM44 16h1v1h-1zM44 18h1v1h-1zM44 35h1v1h-1zM44 37h1v1h-1zM44 47h1v1h-1zM44 73h1v1h-1zM44 21h2v1h-2zM44 39h2v2h-2zM44 69h2v1h-2zM44 45h3v1h-3zM45 23h1v1h-1zM45 29h1v2h-1zM45 42h1v1h-1zM45 66h1v1h-1zM45 38h2v1h-2zM45 19h3v2h-3zM45 28h4v1h-4zM45 41h5v1h-5zM46 15h1v1h-1zM46 35h1v1h-1zM46 16h2v1h-2zM46 37h2v1h-2zM46 71h2v1h-2zM46 22h3v1h-3zM46 27h4v1h-4zM47 25h1v1h-1zM47 43h1v1h-1zM47 47h1v1h-1zM47 59h1v1h-1zM47 72h1v1h-1zM47 40h2v1h-2zM47 39h4v1h-4zM48 29h1v1h-1zM48 35h1v1h-1zM48 38h1v1h-1zM48 60h1v1h-1zM48 66h1v2h-1zM48 69h1v1h-1zM48 73h1v1h-1zM48 42h2v1h-2zM48 70h2v1h-2zM48 36h3v1h-3zM49 23h1v1h-1zM49 26h1v1h-1zM49 46h1v1h-1zM49 37h4v1h-4zM49 68h4v1h-4zM50 21h1v1h-1zM50 25h1v1h-1zM50 28h1v1h-1zM50 38h1v1h-1zM50 43h1v1h-1zM50 45h1v1h-1zM50 60h1v1h-1zM50 66h1v1h-1zM50 72h1v1h-1zM50 31h2v1h-2zM50 35h2v1h-2zM50 69h2v1h-2zM50 71h2v1h-2zM50 44h3v1h-3zM50 67h4v1h-4zM51 34h1v1h-1zM51 41h1v1h-1zM51 70h1v1h-1zM51 22h2v1h-2zM51 42h7v1h-7zM52 21h1v1h-1zM52 25h1v1h-1zM52 36h1v1h-1zM52 75h1v1h-1zM52 62h2v1h-2zM52 66h2v1h-2zM52 72h2v2h-2zM53 35h1v1h-1zM53 43h1v1h-1zM53 60h1v1h-1zM53 71h1v1h-1zM53 23h2v1h-2zM53 59h2v1h-2zM53 69h3v2h-3zM54 45h1v1h-1zM54 65h2v1h-2zM54 68h2v1h-2zM55 37h1v1h-1zM55 39h1v1h-1zM55 43h1v1h-1zM55 46h1v1h-1zM55 63h1v2h-1zM55 73h1v1h-1zM55 75h1v1h-1zM55 62h2v1h-2zM56 38h1v1h-1zM56 48h1v1h-1zM56 52h1v1h-1zM56 59h1v1h-1zM56 61h1v1h-1zM56 71h1v2h-1zM56 74h1v1h-1zM56 60h2v1h-2zM56 45h4v1h-4zM56 51h4v1h-4zM57 55h1v1h-1zM57 69h1v1h-1zM57 46h2v1h-2zM57 49h2v1h-2zM57 39h3v1h-3zM57 41h3v1h-3zM57 44h3v1h-3zM58 40h1v1h-1zM58 50h1v1h-1zM58 53h1v2h-1zM58 56h1v1h-1zM58 43h2v1h-2zM59 57h1v1h-1zM59 70h1v1h-1zM59 60h3v1h-3zM60 40h1v1h-1zM60 46h1v3h-1zM60 56h2v1h-2zM60 59h2v1h-2zM60 61h3v1h-3zM60 37h4v1h-4zM60 50h8v1h-8zM61 39h1v1h-1zM61 51h1v1h-1zM61 58h1v1h-1zM61 62h1v1h-1zM61 45h2v1h-2zM62 34h1v1h-1zM62 38h1v1h-1zM62 40h1v5h-1zM62 46h1v1h-1zM62 48h1v1h-1zM62 53h1v1h-1zM62 55h1v1h-1zM62 63h1v1h-1zM62 52h2v1h-2zM62 35h3v1h-3zM62 36h4v1h-4zM63 39h1v1h-1zM63 47h1v1h-1zM63 49h1v1h-1zM63 51h1v1h-1zM64 43h1v1h-1zM64 48h1v1h-1zM64 41h2v1h-2zM65 37h1v1h-1zM65 42h1v1h-1zM65 51h1v1h-1zM65 38h3v1h-3zM65 52h3v1h-3zM66 33h1v1h-1zM66 35h1v1h-1zM66 45h1v2h-1zM66 40h2v1h-2zM66 47h3v1h-3zM66 44h4v1h-4zM67 39h1v1h-1zM67 48h1v2h-1zM67 51h2v1h-2zM67 43h3v1h-3zM68 37h1v1h-1zM68 41h1v1h-1zM69 33h1v3h-1zM69 49h1v2h-1zM69 54h1v1h-1zM69 69h1v1h-1zM70 42h1v1h-1zM70 48h1v1h-1zM70 51h1v1h-1zM70 47h2v1h-2zM70 45h3v1h-3zM71 43h1v1h-1zM71 44h2v1h-2zM71 53h2v1h-2zM71 46h3v1h-3zM72 40h1v1h-1zM72 42h1v1h-1zM72 48h1v1h-1zM72 52h1v1h-1zM72 55h1v1h-1zM72 58h1v1h-1zM73 50h1v1h-1zM73 56h1v1h-1zM74 41h1v1h-1zM74 51h1v2h-1zM74 54h1v2h-1zM75 53h1v1h-1zM75 50h3v1h-3zM76 51h1v1h-1z"/>
<path fill="#0015d2" d="M14 44h1v1h-1zM17 44h1v1h-1zM18 52h1v1h-1zM21 43h1v1h-1zM21 52h1v1h-1zM21 57h1v1h-1zM22 9h1v1h-1zM22 48h1v1h-1zM23 34h1v1h-1zM23 39h1v1h-1zM23 56h1v1h-1zM25 36h1v1h-1zM27 30h1v1h-1zM27 53h1v1h-1zM27 58h2v1h-2zM28 67h1v1h-1zM29 33h1v1h-1zM29 48h1v1h-1zM30 36h1v1h-1zM31 21h1v1h-1zM31 37h1v1h-1zM32 29h1v1h-1zM33 44h1v1h-1zM34 62h1v1h-1zM37 36h1v1h-1zM37 38h1v1h-1zM37 63h1v1h-1zM37 65h1v1h-1zM37 32h2v1h-2zM38 21h1v1h-1zM38 43h1v1h-1zM39 41h1v1h-1zM40 32h1v1h-1zM41 45h1v1h-1zM41 72h1v1h-1zM43 45h1v1h-1zM44 65h1v1h-1zM45 18h1v1h-1zM51 66h1v1h-1zM52 61h1v1h-1zM52 63h1v1h-1zM55 60h1v1h-1zM56 44h1v1h-1zM59 61h1v1h-1zM60 45h1v1h-1zM61 38h1v1h-1zM66 41h1v1h-1zM67 46h1v1h-1z"/>
<path fill="#0015e7" d="M11 48h1v1h-1zM11 51h1v2h-1zM12 49h2v1h-2zM13 51h2v1h-2zM13 48h3v1h-3zM13 53h3v1h-3zM14 46h1v2h-1zM14 52h1v1h-1zM14 55h1v1h-1zM15 54h1v1h-1zM15 49h2v1h-2zM16 47h1v1h-1zM16 52h1v1h-1zM16 55h1v1h-1zM16 50h3v1h-3zM17 45h1v1h-1zM17 48h1v1h-1zM17 43h3v1h-3zM17 46h4v1h-4zM18 41h1v1h-1zM18 47h1v1h-1zM18 51h1v1h-1zM18 55h1v1h-1zM18 57h1v1h-1zM18 44h2v1h-2zM18 54h3v1h-3zM19 61h1v1h-1zM19 40h2v1h-2zM19 42h2v1h-2zM19 49h2v1h-2zM20 51h1v1h-1zM20 60h1v1h-1zM20 55h2v1h-2zM20 53h3v1h-3zM21 41h1v1h-1zM22 50h1v1h-1zM22 52h1v1h-1zM22 56h1v1h-1zM22 60h2v1h-2zM23 32h1v1h-1zM23 36h1v1h-1zM23 57h1v1h-1zM23 76h1v1h-1zM23 54h3v1h-3zM24 46h1v1h-1zM24 48h1v1h-1zM24 50h1v1h-1zM24 52h1v1h-1zM24 56h1v1h-1zM24 55h2v1h-2zM24 49h3v1h-3zM24 51h3v1h-3zM24 33h4v1h-4zM24 47h4v1h-4zM25 70h1v1h-1zM25 30h2v1h-2zM25 32h2v1h-2zM25 37h2v1h-2zM25 71h2v1h-2zM25 75h2v2h-2zM25 35h3v1h-3zM25 69h3v1h-3zM26 34h1v1h-1zM26 63h1v1h-1zM26 74h1v1h-1zM26 31h2v1h-2zM26 50h2v1h-2zM26 56h2v1h-2zM27 66h1v1h-1zM27 77h1v1h-1zM27 36h3v1h-3zM28 46h1v1h-1zM29 30h1v1h-1zM29 34h1v2h-1zM29 68h1v1h-1zM29 72h5v1h-5zM30 33h1v1h-1zM30 37h1v1h-1zM30 71h1v1h-1zM30 45h2v1h-2zM31 20h1v1h-1zM31 47h1v1h-1zM31 36h6v1h-6zM32 18h1v1h-1zM32 25h1v1h-1zM32 71h1v1h-1zM32 34h5v1h-5zM33 26h1v1h-1zM33 35h1v1h-1zM33 38h1v1h-1zM33 40h1v2h-1zM33 45h1v2h-1zM33 42h2v1h-2zM33 22h3v1h-3zM33 43h4v1h-4zM33 37h5v1h-5zM34 20h1v2h-1zM34 23h1v1h-1zM34 71h1v1h-1zM34 19h2v1h-2zM34 24h2v1h-2zM34 33h2v1h-2zM34 39h3v1h-3zM34 44h3v1h-3zM35 25h1v1h-1zM35 38h1v1h-1zM35 45h1v1h-1zM35 66h1v1h-1zM35 40h2v1h-2zM35 63h2v1h-2zM35 65h2v1h-2zM35 48h3v1h-3zM36 23h1v1h-1zM36 35h1v1h-1zM36 64h1v1h-1zM36 69h1v1h-1zM37 21h1v1h-1zM37 31h1v1h-1zM37 33h1v1h-1zM37 50h1v1h-1zM37 47h2v1h-2zM38 38h1v1h-1zM38 64h1v1h-1zM38 66h1v1h-1zM38 68h1v2h-1zM38 61h2v1h-2zM38 65h2v1h-2zM38 70h2v1h-2zM38 34h3v2h-3zM39 21h1v1h-1zM39 36h1v1h-1zM39 43h1v1h-1zM39 45h1v1h-1zM39 67h1v1h-1zM39 60h4v1h-4zM40 22h1v1h-1zM40 37h1v1h-1zM40 69h1v1h-1zM40 44h3v1h-3zM40 62h4v1h-4zM40 63h5v1h-5zM40 58h7v1h-7zM41 21h1v1h-1zM41 36h1v1h-1zM41 43h1v1h-1zM41 59h1v1h-1zM41 65h1v2h-1zM41 61h3v1h-3zM41 64h4v1h-4zM42 19h1v1h-1zM42 55h1v1h-1zM42 57h1v1h-1zM42 70h1v1h-1zM43 21h1v1h-1zM43 65h1v1h-1zM43 66h2v1h-2zM44 19h1v1h-1zM44 22h1v1h-1zM44 60h1v1h-1zM44 57h2v1h-2zM45 61h1v2h-1zM45 71h1v1h-1zM45 65h3v1h-3zM45 67h3v1h-3zM46 29h1v1h-1zM46 59h1v1h-1zM46 63h1v1h-1zM46 60h2v1h-2zM46 66h2v1h-2zM46 64h9v1h-9zM47 69h1v1h-1zM47 68h2v1h-2zM47 61h5v2h-5zM49 66h1v1h-1zM49 69h1v1h-1zM49 63h3v1h-3zM49 65h5v1h-5zM51 60h2v1h-2zM53 63h2v1h-2zM53 61h3v1h-3zM54 60h1v1h-1zM54 62h1v1h-1zM54 72h1v1h-1zM54 66h2v1h-2zM54 71h2v1h-2zM54 67h3v1h-3zM56 68h1v3h-1zM57 43h1v1h-1zM58 42h3v1h-3zM61 43h1v1h-1zM63 38h1v1h-1zM63 40h1v2h-1zM63 43h1v1h-1zM64 42h1v1h-1zM65 39h1v1h-1zM66 42h1v2h-1zM66 48h1v1h-1zM67 45h3v1h-3zM68 49h1v1h-1zM68 52h1v1h-1zM68 48h2v1h-2zM69 47h1v1h-1zM69 51h1v1h-1zM70 44h1v1h-1zM70 46h1v1h-1zM70 49h1v2h-1zM73 42h1v1h-1zM73 52h1v1h-1z"/>
<path fill="#002afc" d="M12 51h1v1h-1zM12 52h2v1h-2zM15 50h1v1h-1zM15 52h1v1h-1zM17 47h1v1h-1zM19 45h1v1h-1zM19 47h1v1h-1zM33 20h1v1h-1zM35 23h1v1h-1zM36 20h1v1h-1zM42 59h1v1h-1zM43 60h1v1h-1zM44 62h1v1h-1zM44 59h2v1h-2zM45 60h1v1h-1zM45 63h1v2h-1zM46 61h1v2h-1zM68 50h1v1h-1zM68 46h2v1h-2z"/>
<path fill="#003ffc" d="M36 21h1v1h-1zM44 61h1v1h-1z"/>
</g>
</g></g>
<rect x="1373.2" y="132.5" width="416.8" height="415.1" fill="#000"/>
<g clip-path="url(#cf120)"><g filter="url(#softi)">
<g transform="translate(1373.2,132.5) scale(4.53043,4.51196)">
<path fill="#00002a" d="M33 52h1v1h-1zM63 2h1v1h-1zM68 10h1v1h-1zM69 8h1v1h-1zM83 71h1v1h-1zM84 75h1v1h-1zM86 68h1v1h-1zM87 86h1v1h-1zM89 70h1v1h-1z"/>
<path fill="#00003f" d="M11 14h1v1h-1zM11 80h1v1h-1zM11 90h1v1h-1zM37 0h1v1h-1zM47 24h1v1h-1zM61 3h1v1h-1zM63 5h1v1h-1zM67 0h1v1h-1zM81 91h1v1h-1zM83 70h1v1h-1zM85 84h1v1h-1zM87 87h1v1h-1zM88 28h1v1h-1zM88 34h1v1h-1zM90 41h1v2h-1z"/>
<path fill="#000054" d="M2 24h1v1h-1zM3 14h1v1h-1zM4 56h1v1h-1zM10 13h1v1h-1zM38 51h1v1h-1zM39 1h1v1h-1zM77 88h1v1h-1zM81 88h1v1h-1zM86 85h1v1h-1zM89 32h1v1h-1zM90 54h1v1h-1zM90 67h1v1h-1zM91 63h1v1h-1z"/>
<path fill="#000069" d="M11 89h1v1h-1zM28 5h1v1h-1zM68 90h1v1h-1zM80 90h1v1h-1zM82 83h1v1h-1zM83 80h1v1h-1zM83 91h1v1h-1z"/>
<path fill="#00007e" d="M7 13h1v1h-1zM7 79h1v1h-1zM8 8h2v1h-2zM13 4h1v1h-1zM18 2h1v1h-1zM78 26h1v1h-1zM84 80h2v1h-2zM86 67h1v1h-1zM87 89h1v1h-1z"/>
<path fill="#000093" d="M1 17h1v1h-1zM2 74h1v1h-1zM3 30h1v1h-1zM6 78h1v1h-1zM7 9h1v1h-1zM7 23h1v1h-1zM9 91h1v1h-1zM9 11h2v1h-2zM10 7h1v1h-1zM10 9h1v1h-1zM10 27h1v1h-1zM11 2h1v1h-1zM11 4h1v1h-1zM11 79h1v1h-1zM11 81h1v1h-1zM11 84h1v1h-1zM11 87h1v2h-1zM13 1h1v1h-1zM13 89h1v1h-1zM14 88h1v1h-1zM14 90h1v1h-1zM15 4h1v1h-1zM15 89h1v1h-1zM16 3h1v1h-1zM17 89h1v1h-1zM17 91h1v1h-1zM18 1h1v1h-1zM19 4h1v1h-1zM23 1h1v1h-1zM26 6h1v1h-1zM26 40h1v1h-1zM32 1h1v1h-1zM35 3h1v1h-1zM38 1h1v1h-1zM38 56h1v1h-1zM39 55h1v1h-1zM41 26h1v1h-1zM41 0h2v1h-2zM43 9h1v1h-1zM45 28h1v1h-1zM47 23h1v1h-1zM52 1h1v1h-1zM55 0h1v1h-1zM57 67h1v2h-1zM58 65h1v1h-1zM61 2h1v1h-1zM62 3h1v1h-1zM62 6h1v1h-1zM66 0h1v1h-1zM66 4h1v1h-1zM66 6h1v1h-1zM66 8h1v1h-1zM68 11h1v1h-1zM69 89h1v1h-1zM70 10h1v1h-1zM70 21h1v1h-1zM74 87h1v2h-1zM76 86h1v1h-1zM77 34h1v1h-1zM79 78h1v1h-1zM80 79h1v1h-1zM80 86h1v1h-1zM81 81h1v1h-1zM82 26h1v1h-1zM82 28h1v1h-1zM82 90h1v1h-1zM83 83h1v1h-1zM83 86h1v1h-1zM83 89h1v1h-1zM84 25h1v1h-1zM84 28h1v1h-1zM84 73h1v1h-1zM84 81h1v2h-1zM84 88h1v1h-1zM85 91h1v1h-1zM85 70h2v1h-2zM85 26h3v1h-3zM86 25h1v1h-1zM86 28h1v1h-1zM86 86h1v1h-1zM87 24h1v1h-1zM87 67h1v1h-1zM87 84h1v1h-1zM88 88h1v1h-1zM88 90h1v1h-1zM88 23h2v1h-2zM89 36h1v1h-1zM89 66h1v1h-1zM89 69h1v1h-1zM90 70h1v1h-1zM90 24h2v1h-2zM91 28h1v1h-1zM91 33h1v1h-1zM91 58h1v1h-1zM91 60h1v1h-1zM91 67h1v1h-1z"/>
<path fill="#0000a8" d="M0 15h1v1h-1zM0 19h1v1h-1zM0 25h2v1h-2zM0 28h2v1h-2zM2 20h1v1h-1zM4 75h1v1h-1zM7 6h1v1h-1zM8 49h1v1h-1zM8 79h1v1h-1zM9 13h1v1h-1zM10 6h1v1h-1zM10 79h1v1h-1zM11 82h1v1h-1zM11 85h1v1h-1zM12 1h1v1h-1zM12 79h1v1h-1zM12 87h1v2h-1zM12 16h3v1h-3zM14 0h1v1h-1zM14 5h1v1h-1zM15 1h1v1h-1zM15 87h1v1h-1zM16 8h1v1h-1zM16 14h1v1h-1zM16 91h1v1h-1zM18 90h2v1h-2zM20 1h1v2h-1zM23 3h1v2h-1zM30 43h1v1h-1zM33 2h1v1h-1zM34 0h1v1h-1zM34 4h1v1h-1zM36 1h1v1h-1zM37 3h1v1h-1zM38 0h1v1h-1zM39 3h1v1h-1zM40 2h2v1h-2zM41 1h1v1h-1zM45 6h1v1h-1zM47 0h1v2h-1zM47 10h1v1h-1zM47 48h1v1h-1zM51 57h1v1h-1zM52 48h1v1h-1zM55 6h1v1h-1zM58 5h1v1h-1zM58 55h1v1h-1zM58 57h1v1h-1zM59 70h1v1h-1zM61 1h1v1h-1zM61 4h1v2h-1zM62 0h1v1h-1zM62 7h1v1h-1zM62 64h1v1h-1zM64 8h1v2h-1zM65 5h1v1h-1zM65 1h2v1h-2zM67 91h1v1h-1zM68 8h1v2h-1zM68 89h1v1h-1zM69 91h1v1h-1zM71 17h1v1h-1zM71 23h1v1h-1zM72 88h1v1h-1zM72 90h1v1h-1zM73 85h1v1h-1zM74 86h1v1h-1zM75 23h1v1h-1zM77 26h1v1h-1zM78 82h1v1h-1zM78 87h1v1h-1zM80 82h1v1h-1zM81 31h1v1h-1zM82 70h1v1h-1zM82 75h1v1h-1zM82 80h1v2h-1zM82 88h1v1h-1zM82 78h2v1h-2zM83 27h1v2h-1zM83 79h1v1h-1zM83 82h1v1h-1zM83 90h1v1h-1zM84 69h1v1h-1zM84 74h1v1h-1zM84 24h2v1h-2zM85 25h1v1h-1zM85 27h1v1h-1zM85 66h1v1h-1zM85 68h1v1h-1zM85 71h1v1h-1zM85 88h1v1h-1zM86 29h1v1h-1zM86 91h1v1h-1zM86 62h2v1h-2zM87 23h1v1h-1zM87 28h1v1h-1zM87 70h1v1h-1zM88 29h1v1h-1zM88 42h1v1h-1zM88 61h1v1h-1zM89 31h1v1h-1zM89 33h1v1h-1zM89 40h1v1h-1zM89 46h1v1h-1zM89 62h1v1h-1zM89 67h1v1h-1zM89 35h2v1h-2zM90 28h1v1h-1zM90 34h1v1h-1zM90 39h1v1h-1zM90 60h1v1h-1zM90 32h2v1h-2zM91 44h1v1h-1zM91 57h1v1h-1z"/>
<path fill="#0000bd" d="M0 17h1v1h-1zM0 21h1v1h-1zM0 24h1v1h-1zM0 26h1v1h-1zM0 29h1v1h-1zM0 33h1v2h-1zM0 37h1v1h-1zM0 59h1v1h-1zM0 62h1v1h-1zM0 71h1v1h-1zM0 18h2v1h-2zM0 23h2v1h-2zM0 30h2v1h-2zM0 32h2v1h-2zM0 72h2v1h-2zM0 16h3v1h-3zM1 19h1v1h-1zM1 35h1v1h-1zM1 22h2v1h-2zM1 31h2v1h-2zM1 73h2v1h-2zM2 21h1v1h-1zM2 29h1v1h-1zM2 53h1v2h-1zM2 15h3v1h-3zM3 19h1v2h-1zM3 32h1v1h-1zM3 74h1v1h-1zM4 16h1v3h-1zM5 14h1v1h-1zM5 20h1v1h-1zM5 49h1v1h-1zM5 75h1v2h-1zM5 9h2v1h-2zM5 19h2v1h-2zM5 8h3v1h-3zM6 31h1v1h-1zM6 77h1v1h-1zM7 10h1v1h-1zM7 14h1v1h-1zM7 48h1v1h-1zM8 11h1v2h-1zM8 16h1v1h-1zM8 18h1v1h-1zM8 23h1v1h-1zM8 56h1v1h-1zM8 78h1v1h-1zM9 6h1v2h-1zM9 9h1v1h-1zM9 14h1v1h-1zM9 79h1v1h-1zM9 89h1v1h-1zM10 16h1v1h-1zM10 26h1v1h-1zM10 54h1v1h-1zM10 15h2v1h-2zM11 83h1v1h-1zM12 3h1v1h-1zM12 18h1v1h-1zM12 78h1v1h-1zM12 80h1v1h-1zM12 89h1v1h-1zM12 86h3v1h-3zM13 83h1v1h-1zM13 85h1v1h-1zM13 87h1v2h-1zM13 90h1v1h-1zM14 1h1v1h-1zM14 17h1v1h-1zM14 91h1v1h-1zM15 5h1v2h-1zM15 16h1v1h-1zM15 7h2v1h-2zM15 88h2v1h-2zM15 2h3v1h-3zM15 84h3v1h-3zM16 1h1v1h-1zM16 86h1v2h-1zM16 89h1v1h-1zM16 90h2v1h-2zM17 5h1v1h-1zM17 9h1v4h-1zM17 6h2v1h-2zM17 85h2v1h-2zM17 3h3v1h-3zM18 89h1v1h-1zM18 88h2v1h-2zM18 91h3v1h-3zM19 5h1v1h-1zM19 86h1v1h-1zM19 8h2v1h-2zM20 4h1v1h-1zM20 90h2v1h-2zM20 6h3v1h-3zM21 1h2v2h-2zM22 3h1v1h-1zM22 88h1v1h-1zM23 5h1v1h-1zM23 90h1v1h-1zM23 7h2v1h-2zM24 6h2v1h-2zM26 42h1v1h-1zM27 43h1v1h-1zM27 6h2v1h-2zM28 8h1v1h-1zM29 5h3v1h-3zM30 6h1v1h-1zM31 2h1v1h-1zM31 42h1v1h-1zM33 0h1v1h-1zM33 4h1v1h-1zM33 7h1v1h-1zM33 51h1v1h-1zM33 55h1v1h-1zM33 1h3v1h-3zM34 3h1v1h-1zM34 56h1v1h-1zM34 50h2v1h-2zM34 5h3v1h-3zM34 2h6v1h-6zM35 7h2v1h-2zM35 6h3v1h-3zM36 4h1v1h-1zM38 3h1v1h-1zM38 5h1v1h-1zM40 1h1v1h-1zM40 5h1v2h-1zM40 3h4v1h-4zM41 25h1v1h-1zM41 4h3v1h-3zM42 1h1v1h-1zM43 0h1v1h-1zM43 6h1v3h-1zM43 10h1v1h-1zM43 2h2v1h-2zM44 1h2v1h-2zM45 0h2v1h-2zM45 5h2v1h-2zM45 11h2v1h-2zM46 2h1v1h-1zM46 27h1v1h-1zM46 54h1v1h-1zM46 6h2v1h-2zM47 3h1v1h-1zM47 25h1v1h-1zM48 4h1v1h-1zM48 7h1v1h-1zM49 2h1v2h-1zM49 5h1v2h-1zM49 47h1v1h-1zM51 2h1v1h-1zM51 4h1v1h-1zM52 57h1v1h-1zM54 6h1v1h-1zM54 49h1v1h-1zM55 50h1v1h-1zM56 0h1v1h-1zM56 59h1v1h-1zM57 53h1v1h-1zM57 69h1v1h-1zM58 3h1v1h-1zM58 9h1v2h-1zM58 70h1v1h-1zM58 89h1v1h-1zM58 4h2v1h-2zM59 64h1v1h-1zM59 2h2v1h-2zM60 6h1v1h-1zM60 70h1v1h-1zM60 89h1v2h-1zM60 8h3v1h-3zM61 0h1v1h-1zM61 7h1v1h-1zM61 9h2v1h-2zM62 1h1v1h-1zM62 5h1v1h-1zM62 90h1v1h-1zM62 4h2v1h-2zM63 3h1v1h-1zM64 1h1v2h-1zM64 0h2v1h-2zM64 10h3v1h-3zM65 6h1v1h-1zM65 8h1v1h-1zM65 91h1v1h-1zM65 7h3v1h-3zM66 3h1v1h-1zM66 5h1v1h-1zM66 88h1v1h-1zM66 9h2v1h-2zM66 11h2v1h-2zM67 8h1v1h-1zM67 90h1v1h-1zM67 12h2v1h-2zM68 91h1v1h-1zM69 13h1v2h-1zM69 15h2v1h-2zM69 90h2v1h-2zM70 16h1v1h-1zM70 87h1v1h-1zM70 89h2v1h-2zM70 91h2v1h-2zM71 18h1v1h-1zM71 22h1v1h-1zM71 85h1v1h-1zM72 19h1v1h-1zM72 86h1v1h-1zM72 84h3v1h-3zM73 20h1v1h-1zM73 24h1v1h-1zM73 88h1v1h-1zM73 90h1v2h-1zM73 83h2v1h-2zM74 21h1v1h-1zM74 25h1v1h-1zM74 81h1v1h-1zM74 89h1v1h-1zM74 85h3v1h-3zM75 22h1v1h-1zM75 82h1v1h-1zM75 24h2v1h-2zM75 80h2v1h-2zM76 73h1v1h-1zM76 75h1v1h-1zM76 78h1v1h-1zM76 79h2v1h-2zM76 84h3v1h-3zM76 77h8v1h-8zM77 31h1v1h-1zM77 74h1v1h-1zM77 27h2v1h-2zM77 83h2v1h-2zM77 81h3v1h-3zM78 35h1v1h-1zM78 70h1v1h-1zM78 86h1v1h-1zM78 76h2v1h-2zM79 63h1v1h-1zM79 74h1v2h-1zM79 79h1v1h-1zM79 30h2v1h-2zM79 72h6v1h-6zM80 27h1v1h-1zM80 35h1v1h-1zM80 65h1v1h-1zM80 83h1v2h-1zM80 88h1v2h-1zM80 28h2v1h-2zM80 69h2v1h-2zM80 71h2v1h-2zM80 80h2v1h-2zM81 34h1v1h-1zM81 60h1v1h-1zM81 67h1v2h-1zM81 70h1v1h-1zM81 78h1v1h-1zM81 63h2v1h-2zM81 76h2v1h-2zM81 74h3v1h-3zM82 73h1v1h-1zM82 79h1v1h-1zM82 82h1v1h-1zM82 86h1v1h-1zM82 89h1v1h-1zM82 31h3v1h-3zM83 30h1v1h-1zM83 68h1v1h-1zM83 75h1v1h-1zM83 84h1v1h-1zM83 67h3v1h-3zM84 29h1v1h-1zM84 32h1v1h-1zM84 59h1v1h-1zM84 63h1v2h-1zM84 70h1v2h-1zM84 76h1v1h-1zM84 83h1v1h-1zM84 61h2v2h-2zM85 28h1v1h-1zM85 33h1v1h-1zM85 65h1v1h-1zM85 30h2v1h-2zM86 24h1v1h-1zM86 38h1v1h-1zM86 47h1v1h-1zM86 27h2v1h-2zM86 66h2v1h-2zM86 40h3v1h-3zM87 29h1v1h-1zM87 31h1v1h-1zM87 34h1v1h-1zM87 37h1v1h-1zM87 39h1v1h-1zM87 42h1v1h-1zM87 44h1v2h-1zM87 49h1v3h-1zM87 64h1v1h-1zM87 33h2v1h-2zM87 25h3v1h-3zM87 65h3v1h-3zM88 24h1v1h-1zM88 26h1v1h-1zM88 32h1v1h-1zM88 35h1v2h-1zM88 47h1v1h-1zM88 53h1v1h-1zM88 68h1v2h-1zM88 30h2v1h-2zM88 38h2v1h-2zM88 43h4v1h-4zM89 28h1v1h-1zM89 41h1v2h-1zM89 60h1v1h-1zM89 64h1v1h-1zM89 27h2v1h-2zM89 44h2v1h-2zM89 63h2v1h-2zM89 45h3v1h-3zM90 56h1v1h-1zM90 58h1v1h-1zM90 61h1v1h-1zM90 68h1v2h-1zM90 59h2v1h-2zM90 62h2v1h-2zM91 26h1v1h-1zM91 41h1v1h-1zM91 55h1v1h-1zM91 64h1v1h-1zM91 66h1v1h-1zM91 71h1v1h-1z"/>
<path fill="#0000d2" d="M0 22h1v1h-1zM0 27h1v1h-1zM0 31h1v1h-1zM0 35h1v1h-1zM0 41h1v1h-1zM0 44h1v1h-1zM0 48h1v1h-1zM0 52h1v2h-1zM0 60h1v1h-1zM0 67h1v1h-1zM0 20h2v1h-2zM0 46h2v1h-2zM0 58h2v1h-2zM0 50h3v1h-3zM0 55h3v1h-3zM0 68h3v1h-3zM0 56h4v1h-4zM0 63h4v2h-4zM0 70h4v1h-4zM0 39h5v1h-5zM0 61h5v1h-5zM0 66h5v1h-5zM0 36h6v1h-6zM0 65h6v1h-6zM0 57h7v1h-7zM0 69h8v1h-8zM1 21h1v1h-1zM1 45h1v1h-1zM1 47h1v1h-1zM1 51h2v1h-2zM1 59h4v1h-4zM1 37h5v1h-5zM1 62h5v1h-5zM1 71h5v1h-5zM2 19h1v1h-1zM2 23h1v1h-1zM2 30h1v1h-1zM2 40h1v1h-1zM2 49h1v1h-1zM2 52h1v1h-1zM2 67h1v1h-1zM2 17h2v2h-2zM2 38h2v1h-2zM2 35h3v1h-3zM2 72h5v1h-5zM2 60h7v1h-7zM3 16h1v1h-1zM3 44h1v1h-1zM3 47h1v1h-1zM3 41h2v1h-2zM3 34h3v1h-3zM3 42h3v1h-3zM3 58h3v1h-3zM3 33h4v1h-4zM3 73h4v1h-4zM3 22h5v1h-5zM3 21h7v1h-7zM4 19h1v2h-1zM4 31h1v1h-1zM4 48h1v1h-1zM4 40h2v1h-2zM4 74h2v1h-2zM4 32h3v1h-3zM4 68h3v1h-3zM5 15h1v1h-1zM5 18h1v1h-1zM5 17h2v1h-2zM5 70h2v1h-2zM5 38h3v1h-3zM6 39h1v1h-1zM6 48h1v1h-1zM6 59h1v1h-1zM6 63h1v1h-1zM6 67h1v1h-1zM6 16h2v1h-2zM6 75h5v2h-5zM6 20h11v1h-11zM7 7h1v1h-1zM7 18h1v1h-1zM7 36h1v2h-1zM7 78h1v1h-1zM7 35h2v1h-2zM7 15h3v1h-3zM7 31h4v1h-4zM7 77h6v1h-6zM7 19h11v1h-11zM8 13h1v2h-1zM8 17h1v1h-1zM8 34h1v1h-1zM8 61h1v1h-1zM8 68h1v1h-1zM8 71h1v1h-1zM8 73h1v1h-1zM8 32h2v1h-2zM8 43h2v1h-2zM8 70h2v1h-2zM9 50h1v1h-1zM9 72h1v1h-1zM9 22h2v2h-2zM9 56h2v1h-2zM9 30h3v1h-3zM9 78h3v1h-3zM9 24h4v1h-4zM9 74h4v1h-4zM10 17h1v1h-1zM10 35h1v1h-1zM10 41h1v1h-1zM10 52h1v1h-1zM10 55h1v1h-1zM10 67h1v3h-1zM10 18h2v1h-2zM10 25h3v1h-3zM11 16h1v1h-1zM11 27h1v2h-1zM11 33h1v2h-1zM11 70h1v1h-1zM11 91h1v1h-1zM11 21h2v1h-2zM11 71h4v1h-4zM12 22h1v1h-1zM12 66h1v1h-1zM12 76h1v1h-1zM12 83h1v3h-1zM12 17h2v1h-2zM12 81h5v1h-5zM12 82h10v1h-10zM13 23h1v1h-1zM13 31h1v1h-1zM13 72h1v2h-1zM13 79h1v1h-1zM13 80h3v1h-3zM13 18h4v1h-4zM14 4h1v1h-1zM14 6h1v1h-1zM14 22h1v1h-1zM14 75h1v1h-1zM14 78h1v1h-1zM14 84h1v1h-1zM14 83h2v1h-2zM14 85h2v1h-2zM15 3h1v1h-1zM15 86h1v1h-1zM15 17h3v1h-3zM15 79h3v1h-3zM16 5h1v2h-1zM16 77h1v1h-1zM16 15h2v1h-2zM16 4h3v1h-3zM16 16h3v1h-3zM17 13h1v2h-1zM17 22h1v1h-1zM17 8h2v1h-2zM17 86h2v1h-2zM17 83h9v1h-9zM18 5h1v1h-1zM18 9h1v1h-1zM18 7h2v1h-2zM18 87h2v1h-2zM18 11h3v1h-3zM18 10h7v1h-7zM18 12h8v1h-8zM18 84h10v1h-10zM19 17h1v1h-1zM19 19h1v1h-1zM19 85h2v1h-2zM20 3h1v1h-1zM20 80h1v1h-1zM20 15h2v1h-2zM20 89h2v1h-2zM20 5h3v1h-3zM20 14h4v1h-4zM20 16h4v1h-4zM20 13h5v1h-5zM20 86h6v1h-6zM21 9h1v1h-1zM21 88h1v1h-1zM21 7h2v1h-2zM21 79h3v1h-3zM21 81h5v1h-5zM21 87h7v1h-7zM21 91h9v1h-9zM22 4h1v1h-1zM22 11h3v1h-3zM22 85h5v1h-5zM22 8h6v1h-6zM23 6h1v1h-1zM23 40h1v2h-1zM23 80h1v1h-1zM23 15h2v1h-2zM23 82h2v1h-2zM23 88h5v1h-5zM23 89h7v1h-7zM24 9h5v1h-5zM24 90h6v1h-6zM25 7h1v1h-1zM25 40h1v3h-1zM26 39h1v1h-1zM26 80h1v1h-1zM26 11h8v1h-8zM27 86h1v1h-1zM27 12h2v1h-2zM27 7h5v1h-5zM29 6h1v1h-1zM29 8h1v1h-1zM29 86h1v1h-1zM29 88h1v1h-1zM30 39h1v1h-1zM30 4h3v1h-3zM30 12h4v1h-4zM30 10h9v1h-9zM31 8h1v1h-1zM31 13h1v1h-1zM31 91h1v1h-1zM31 6h2v1h-2zM31 90h2v1h-2zM31 3h3v1h-3zM31 9h9v1h-9zM32 14h1v1h-1zM33 5h1v1h-1zM33 50h1v1h-1zM33 91h1v1h-1zM33 8h10v1h-10zM34 6h1v2h-1zM34 14h1v1h-1zM34 84h1v1h-1zM35 0h1v1h-1zM35 11h1v1h-1zM35 13h1v1h-1zM35 85h1v1h-1zM35 90h1v2h-1zM36 3h1v1h-1zM36 50h1v1h-1zM36 86h1v1h-1zM36 89h1v1h-1zM37 5h1v1h-1zM37 11h1v1h-1zM37 91h1v1h-1zM37 4h4v1h-4zM37 7h6v1h-6zM38 12h1v1h-1zM38 90h1v1h-1zM38 6h2v1h-2zM39 5h1v1h-1zM39 11h1v1h-1zM40 53h1v1h-1zM41 10h1v1h-1zM41 27h1v1h-1zM41 91h1v1h-1zM41 6h2v1h-2zM41 9h2v1h-2zM41 12h2v1h-2zM41 90h2v1h-2zM41 5h4v1h-4zM41 11h4v1h-4zM42 2h1v1h-1zM43 1h1v1h-1zM43 89h1v1h-1zM43 88h2v1h-2zM44 0h1v1h-1zM44 6h1v1h-1zM44 91h1v1h-1zM44 13h2v1h-2zM44 3h3v1h-3zM44 12h3v1h-3zM44 4h4v1h-4zM45 2h1v1h-1zM45 14h1v1h-1zM45 52h1v1h-1zM45 90h1v1h-1zM46 1h1v1h-1zM46 49h1v1h-1zM46 22h2v1h-2zM46 91h3v1h-3zM47 13h1v1h-1zM47 16h1v1h-1zM47 56h1v1h-1zM47 2h2v1h-2zM47 5h2v1h-2zM47 88h2v1h-2zM47 11h4v1h-4zM47 90h4v1h-4zM47 14h5v1h-5zM48 3h1v1h-1zM48 6h1v1h-1zM48 17h1v1h-1zM48 23h1v2h-1zM48 47h1v1h-1zM48 57h1v1h-1zM48 0h2v1h-2zM48 9h2v1h-2zM48 1h4v1h-4zM48 8h4v1h-4zM48 15h4v1h-4zM48 10h6v1h-6zM49 89h1v1h-1zM49 7h2v1h-2zM49 13h2v1h-2zM50 2h1v1h-1zM50 4h1v1h-1zM50 58h1v1h-1zM50 80h1v1h-1zM50 91h1v1h-1zM50 3h2v1h-2zM50 47h2v1h-2zM50 6h4v1h-4zM51 9h1v1h-1zM51 12h1v1h-1zM51 81h1v1h-1zM51 5h2v1h-2zM51 88h2v1h-2zM52 0h1v1h-1zM52 17h1v2h-1zM52 85h1v2h-1zM52 79h2v1h-2zM52 91h6v1h-6zM52 90h8v1h-8zM53 16h1v1h-1zM53 48h1v1h-1zM53 77h1v1h-1zM53 81h1v2h-1zM53 87h1v1h-1zM53 83h3v1h-3zM53 89h5v1h-5zM53 14h6v2h-6zM53 12h9v1h-9zM53 13h10v1h-10zM54 80h1v1h-1zM54 9h3v1h-3zM54 69h3v1h-3zM54 7h4v1h-4zM54 85h7v1h-7zM54 11h12v1h-12zM55 23h1v1h-1zM55 76h2v1h-2zM55 10h3v1h-3zM55 78h3v1h-3zM55 8h5v1h-5zM55 86h7v1h-7zM55 88h11v1h-11zM55 87h15v1h-15zM56 17h1v1h-1zM56 22h1v1h-1zM56 51h1v2h-1zM56 68h1v1h-1zM56 77h1v1h-1zM56 70h2v1h-2zM56 84h2v1h-2zM57 0h1v1h-1zM57 59h1v1h-1zM57 66h1v1h-1zM57 75h1v1h-1zM57 82h1v2h-1zM57 80h2v1h-2zM57 6h3v1h-3zM58 1h1v1h-1zM58 54h1v1h-1zM58 58h1v1h-1zM58 71h1v1h-1zM59 5h1v1h-1zM59 78h1v1h-1zM59 83h1v2h-1zM59 91h1v1h-1zM59 3h2v1h-2zM59 7h2v1h-2zM59 9h2v1h-2zM59 79h2v1h-2zM59 82h2v1h-2zM59 10h4v1h-4zM60 1h1v1h-1zM60 4h1v1h-1zM60 15h1v2h-1zM61 6h1v1h-1zM61 14h1v1h-1zM61 17h1v2h-1zM61 70h1v1h-1zM61 84h1v1h-1zM61 90h1v1h-1zM61 63h2v1h-2zM61 91h3v1h-3zM61 89h7v1h-7zM62 2h1v1h-1zM62 16h1v1h-1zM62 69h1v1h-1zM62 77h1v1h-1zM62 79h1v1h-1zM62 85h3v1h-3zM62 82h4v1h-4zM63 0h1v2h-1zM63 15h1v1h-1zM63 64h1v4h-1zM63 83h2v1h-2zM63 86h2v1h-2zM63 23h3v1h-3zM63 90h4v1h-4zM64 12h1v1h-1zM64 14h1v1h-1zM64 21h1v2h-1zM64 78h1v1h-1zM64 81h3v1h-3zM64 18h4v1h-4zM64 13h5v1h-5zM65 9h1v1h-1zM65 16h1v1h-1zM65 19h2v1h-2zM66 12h1v1h-1zM66 80h1v1h-1zM66 85h1v1h-1zM66 91h1v1h-1zM66 84h2v1h-2zM66 14h3v2h-3zM66 83h7v1h-7zM67 10h1v1h-1zM67 21h1v1h-1zM67 88h2v1h-2zM67 16h3v1h-3zM67 17h4v1h-4zM68 81h2v1h-2zM68 86h3v1h-3zM69 25h1v1h-1zM69 79h1v1h-1zM69 84h2v2h-2zM69 80h5v1h-5zM70 18h1v1h-1zM70 20h1v1h-1zM70 88h2v1h-2zM70 82h5v1h-5zM71 19h1v1h-1zM71 90h1v1h-1zM71 24h2v1h-2zM71 68h2v1h-2zM71 21h3v1h-3zM71 81h3v1h-3zM71 74h5v1h-5zM71 26h6v1h-6zM72 20h1v1h-1zM72 34h1v1h-1zM72 72h1v1h-1zM72 76h1v2h-1zM72 85h1v1h-1zM72 87h1v1h-1zM72 91h1v1h-1zM72 25h2v1h-2zM72 89h2v1h-2zM72 22h3v2h-3zM72 73h4v1h-4zM72 33h5v1h-5zM72 71h5v1h-5zM72 69h6v1h-6zM73 29h1v1h-1zM73 59h1v1h-1zM73 62h1v2h-1zM73 86h1v1h-1zM73 32h2v1h-2zM73 27h3v1h-3zM73 75h3v1h-3zM73 78h3v2h-3zM73 70h4v1h-4zM73 28h7v1h-7zM74 24h1v1h-1zM74 46h1v1h-1zM74 61h1v1h-1zM74 77h2v1h-2zM74 34h3v1h-3zM74 68h4v1h-4zM74 72h4v1h-4zM74 76h4v1h-4zM75 35h1v1h-1zM75 40h1v1h-1zM75 43h1v2h-1zM75 48h1v1h-1zM75 52h1v1h-1zM75 62h1v1h-1zM75 64h1v1h-1zM75 67h1v1h-1zM75 84h1v1h-1zM75 25h2v1h-2zM75 31h2v1h-2zM75 51h2v1h-2zM75 81h2v1h-2zM75 36h3v1h-3zM75 59h3v1h-3zM75 30h4v1h-4zM76 39h1v1h-1zM76 53h1v1h-1zM76 60h1v1h-1zM76 82h1v1h-1zM76 38h2v1h-2zM76 42h2v1h-2zM76 45h2v1h-2zM76 56h2v1h-2zM76 50h3v1h-3zM76 65h4v1h-4zM76 29h5v1h-5zM76 61h8v1h-8zM76 66h9v1h-9zM77 35h1v1h-1zM77 41h1v1h-1zM77 63h2v1h-2zM77 75h2v1h-2zM77 78h2v1h-2zM77 43h3v1h-3zM77 54h3v1h-3zM77 80h3v1h-3zM77 67h4v1h-4zM77 62h7v1h-7zM78 37h1v1h-1zM78 49h1v1h-1zM78 64h1v1h-1zM78 74h1v1h-1zM78 79h1v1h-1zM78 51h2v1h-2zM78 71h2v1h-2zM78 57h3v1h-3zM78 60h3v1h-3zM78 73h4v1h-4zM78 58h12v1h-12zM79 47h1v1h-1zM79 56h1v1h-1zM79 69h1v1h-1zM79 84h1v1h-1zM79 68h2v1h-2zM79 70h2v1h-2zM79 36h3v1h-3zM79 48h9v1h-9zM80 46h1v1h-1zM80 50h1v1h-1zM80 74h1v1h-1zM80 76h1v1h-1zM80 78h1v1h-1zM80 64h2v1h-2zM80 75h2v1h-2zM80 49h4v1h-4zM80 59h4v1h-4zM81 38h1v2h-1zM81 44h1v1h-1zM81 79h1v1h-1zM81 83h1v1h-1zM81 85h1v1h-1zM81 30h2v1h-2zM81 37h2v1h-2zM81 65h4v1h-4zM81 47h5v1h-5zM81 35h7v1h-7zM82 40h1v1h-1zM82 57h1v1h-1zM82 67h1v1h-1zM82 71h1v1h-1zM82 32h2v1h-2zM82 55h2v1h-2zM82 69h2v1h-2zM82 33h3v2h-3zM82 45h5v1h-5zM82 46h6v1h-6zM82 60h7v1h-7zM83 39h1v1h-1zM83 63h1v2h-1zM83 76h1v1h-1zM83 44h4v1h-4zM83 43h5v1h-5zM84 30h1v1h-1zM84 40h1v1h-1zM84 52h1v1h-1zM84 57h1v1h-1zM84 38h2v1h-2zM84 42h2v1h-2zM84 36h3v2h-3zM84 41h5v1h-5zM85 29h1v1h-1zM85 39h1v1h-1zM85 49h1v2h-1zM85 54h1v1h-1zM85 59h1v1h-1zM85 31h2v1h-2zM85 64h2v1h-2zM85 32h3v1h-3zM85 63h3v1h-3zM86 33h1v1h-1zM86 51h1v1h-1zM86 65h1v1h-1zM86 61h2v1h-2zM86 56h3v1h-3zM86 55h4v1h-4zM87 30h1v1h-1zM87 38h1v1h-1zM87 47h1v1h-1zM87 52h1v1h-1zM87 57h2v1h-2zM87 59h3v1h-3zM88 31h1v1h-1zM88 37h1v1h-1zM88 39h1v1h-1zM88 44h1v2h-1zM88 62h1v1h-1zM88 64h1v1h-1zM90 40h1v1h-1zM90 57h1v1h-1zM91 56h1v1h-1z"/>
<path fill="#0015d2" d="M0 45h1v1h-1zM0 47h1v1h-1zM0 51h1v1h-1zM0 40h2v1h-2zM1 41h1v1h-1zM1 48h1v1h-1zM1 54h1v1h-1zM2 47h1v1h-1zM4 43h1v1h-1zM4 49h1v1h-1zM5 41h1v1h-1zM5 47h1v2h-1zM5 59h1v1h-1zM5 61h1v1h-1zM5 63h1v1h-1zM5 66h1v1h-1zM6 37h1v1h-1zM6 42h1v1h-1zM6 44h1v1h-1zM6 74h1v1h-1zM7 65h1v1h-1zM7 67h1v2h-1zM7 72h1v1h-1zM8 40h1v1h-1zM8 62h1v1h-1zM9 73h1v1h-1zM10 51h1v1h-1zM10 71h1v1h-1zM11 26h1v1h-1zM11 41h1v1h-1zM11 72h1v1h-1zM12 23h1v1h-1zM12 31h1v1h-1zM12 65h1v1h-1zM13 25h1v2h-1zM13 74h1v1h-1zM13 39h2v1h-2zM14 32h1v1h-1zM14 37h1v1h-1zM14 65h1v1h-1zM14 77h1v1h-1zM14 79h1v1h-1zM15 73h1v1h-1zM16 23h1v1h-1zM16 78h1v1h-1zM18 17h1v1h-1zM18 13h2v1h-2zM19 78h1v1h-1zM20 79h1v1h-1zM21 8h1v1h-1zM21 11h1v1h-1zM21 78h1v1h-1zM22 15h1v1h-1zM22 82h1v1h-1zM24 40h1v2h-1zM25 79h1v1h-1zM26 10h1v1h-1zM27 83h1v1h-1zM28 10h1v1h-1zM28 81h1v1h-1zM28 85h1v1h-1zM29 12h1v1h-1zM30 87h1v2h-1zM31 40h1v1h-1zM34 11h1v2h-1zM34 15h1v1h-1zM35 14h2v1h-2zM40 12h1v1h-1zM43 12h1v1h-1zM43 90h1v1h-1zM45 16h1v1h-1zM47 89h1v1h-1zM47 12h4v1h-4zM48 13h1v1h-1zM50 89h1v1h-1zM51 13h1v1h-1zM52 16h1v1h-1zM52 76h1v1h-1zM52 83h1v1h-1zM53 86h2v1h-2zM53 88h2v1h-2zM54 21h1v1h-1zM54 68h1v1h-1zM54 74h1v1h-1zM54 77h1v2h-1zM54 82h1v1h-1zM54 84h2v1h-2zM56 16h1v1h-1zM56 21h1v1h-1zM56 81h1v1h-1zM56 83h1v1h-1zM58 22h1v1h-1zM58 76h1v1h-1zM60 63h1v1h-1zM61 21h1v2h-1zM62 23h1v1h-1zM63 19h1v1h-1zM63 21h1v1h-1zM63 84h3v1h-3zM64 20h1v1h-1zM64 79h1v1h-1zM65 78h1v1h-1zM67 19h1v1h-1zM67 24h1v1h-1zM67 81h1v1h-1zM68 18h1v1h-1zM68 79h1v1h-1zM71 77h1v1h-1zM71 66h3v1h-3zM72 28h1v1h-1zM72 32h1v1h-1zM72 48h1v1h-1zM72 70h1v1h-1zM72 79h1v1h-1zM73 34h1v1h-1zM73 60h1v2h-1zM73 68h1v1h-1zM73 72h1v1h-1zM74 62h1v1h-1zM74 80h1v1h-1zM74 50h2v1h-2zM75 41h1v1h-1zM75 32h2v1h-2zM76 52h1v1h-1zM77 37h1v1h-1zM77 48h1v2h-1zM77 55h1v1h-1zM77 60h1v1h-1zM79 45h1v1h-1zM79 50h1v1h-1zM80 43h1v1h-1zM80 51h1v1h-1zM82 54h1v1h-1zM82 36h2v1h-2zM85 56h1v2h-1z"/>
<path fill="#0015e7" d="M0 49h1v1h-1zM0 42h3v1h-3zM0 43h4v1h-4zM1 53h1v1h-1zM1 44h2v1h-2zM2 41h1v1h-1zM2 48h2v1h-2zM2 45h23v1h-23zM2 46h24v1h-24zM3 40h1v1h-1zM3 49h1v2h-1zM3 67h3v1h-3zM4 38h1v1h-1zM4 63h1v1h-1zM4 70h1v1h-1zM4 44h2v1h-2zM4 64h18v1h-18zM5 35h1v1h-1zM5 39h1v1h-1zM5 43h3v1h-3zM6 36h1v1h-1zM6 65h1v1h-1zM6 40h2v1h-2zM6 61h2v2h-2zM6 71h2v1h-2zM6 41h3v1h-3zM6 47h5v1h-5zM6 66h6v1h-6zM6 58h12v1h-12zM7 33h1v2h-1zM7 42h1v1h-1zM7 70h1v1h-1zM7 73h1v1h-1zM7 74h2v1h-2zM7 39h6v1h-6zM7 57h10v1h-10zM7 59h18v1h-18zM7 44h19v1h-19zM7 63h21v1h-21zM8 72h1v1h-1zM8 67h2v1h-2zM8 69h2v1h-2zM8 65h4v1h-4zM8 37h6v1h-6zM8 48h11v1h-11zM8 38h14v1h-14zM8 36h18v1h-18zM9 35h1v1h-1zM9 40h1v1h-1zM9 68h1v1h-1zM9 71h1v1h-1zM9 33h2v2h-2zM9 62h5v1h-5zM9 61h11v1h-11zM9 60h12v1h-12zM9 49h13v1h-13zM9 42h16v1h-16zM10 70h1v1h-1zM10 73h3v1h-3zM10 32h4v1h-4zM10 43h7v1h-7zM10 50h11v1h-11zM11 31h1v1h-1zM11 76h1v1h-1zM11 54h2v1h-2zM11 56h3v1h-3zM11 75h3v1h-3zM11 55h5v1h-5zM11 29h7v1h-7zM11 53h7v1h-7zM11 52h8v1h-8zM11 40h12v1h-12zM11 51h12v1h-12zM11 67h15v1h-15zM11 68h16v1h-16zM11 35h18v1h-18zM11 69h19v1h-19zM12 26h1v2h-1zM12 72h1v1h-1zM12 28h2v1h-2zM12 70h2v1h-2zM12 30h6v1h-6zM12 33h10v1h-10zM12 47h10v1h-10zM12 41h11v1h-11zM12 34h12v1h-12zM13 22h1v1h-1zM13 77h1v2h-1zM13 66h2v1h-2zM13 21h13v1h-13zM13 24h17v1h-17zM13 76h17v1h-17zM14 73h1v1h-1zM14 23h2v1h-2zM14 26h5v1h-5zM14 25h6v1h-6zM14 31h6v1h-6zM14 74h19v1h-19zM15 77h1v2h-1zM15 22h2v1h-2zM15 28h2v1h-2zM15 56h2v1h-2zM15 71h2v1h-2zM15 27h3v1h-3zM15 70h4v1h-4zM15 39h7v1h-7zM15 37h8v1h-8zM15 72h8v1h-8zM15 32h9v1h-9zM15 65h9v1h-9zM15 62h16v1h-16zM15 75h19v1h-19zM16 73h1v1h-1zM16 54h2v1h-2zM16 80h4v1h-4zM16 66h8v1h-8zM17 55h2v1h-2zM17 78h2v1h-2zM17 81h4v1h-4zM17 20h6v1h-6zM17 77h10v1h-10zM17 23h13v1h-13zM17 18h33v1h-33zM18 19h1v1h-1zM18 14h2v1h-2zM18 79h2v1h-2zM18 57h3v1h-3zM18 43h9v1h-9zM18 73h12v1h-12zM18 22h13v1h-13zM19 15h1v2h-1zM19 71h2v1h-2zM19 53h4v2h-4zM19 58h7v1h-7zM20 55h1v1h-1zM20 78h1v1h-1zM20 48h2v1h-2zM20 52h2v1h-2zM20 19h4v1h-4zM20 70h12v1h-12zM20 17h28v1h-28zM21 31h1v1h-1zM21 25h2v1h-2zM21 80h2v1h-2zM21 61h3v1h-3zM22 50h1v1h-1zM22 55h1v3h-1zM22 9h2v1h-2zM22 26h4v1h-4zM22 78h5v1h-5zM22 60h7v1h-7zM22 71h9v1h-9zM23 28h1v1h-1zM23 33h1v1h-1zM23 47h1v1h-1zM23 52h1v1h-1zM23 30h2v1h-2zM23 49h2v1h-2zM23 48h4v1h-4zM23 38h7v1h-7zM23 64h9v1h-9zM24 29h1v1h-1zM24 31h1v1h-1zM24 53h1v1h-1zM24 79h1v1h-1zM24 39h2v1h-2zM24 51h2v1h-2zM24 55h2v1h-2zM24 80h2v1h-2zM24 25h5v1h-5zM24 57h7v1h-7zM24 14h8v1h-8zM24 20h8v1h-8zM24 72h8v1h-8zM24 16h21v1h-21zM25 10h1v2h-1zM25 27h1v2h-1zM25 33h1v1h-1zM25 47h2v1h-2zM25 65h2v1h-2zM25 37h3v1h-3zM25 52h3v1h-3zM25 56h3v1h-3zM25 66h4v1h-4zM25 13h6v1h-6zM25 61h7v1h-7zM25 15h9v1h-9zM25 19h10v1h-10zM25 82h28v1h-28zM26 12h1v1h-1zM26 29h1v1h-1zM26 31h1v1h-1zM26 45h1v1h-1zM26 49h1v1h-1zM26 54h1v1h-1zM26 83h1v1h-1zM26 86h1v1h-1zM26 81h2v1h-2zM26 79h14v1h-14zM27 10h1v1h-1zM27 28h1v1h-1zM27 36h1v1h-1zM27 85h1v1h-1zM27 26h2v2h-2zM27 58h2v1h-2zM27 44h3v1h-3zM27 67h3v1h-3zM27 80h3v1h-3zM27 21h7v1h-7zM27 59h7v1h-7zM28 53h1v1h-1zM28 55h1v1h-1zM28 86h1v1h-1zM28 88h1v1h-1zM28 30h2v1h-2zM28 32h2v1h-2zM28 54h2v1h-2zM28 77h2v1h-2zM28 87h2v1h-2zM28 78h7v1h-7zM29 68h1v1h-1zM29 56h3v1h-3zM29 52h4v1h-4zM29 84h5v1h-5zM29 28h6v1h-6zM29 85h6v1h-6zM29 81h10v1h-10zM29 83h15v1h-15zM30 35h1v1h-1zM30 60h1v1h-1zM30 89h1v1h-1zM30 91h1v1h-1zM30 53h3v1h-3zM30 63h3v1h-3zM30 86h5v1h-5zM30 26h11v1h-11zM31 25h1v1h-1zM31 30h1v1h-1zM31 43h1v1h-1zM31 65h1v1h-1zM31 67h1v1h-1zM31 23h2v1h-2zM31 31h2v1h-2zM31 50h2v2h-2zM31 54h2v1h-2zM31 76h2v1h-2zM31 58h3v1h-3zM31 87h4v1h-4zM31 77h6v1h-6zM31 73h7v1h-7zM31 80h7v1h-7zM32 22h1v1h-1zM32 27h1v1h-1zM32 55h1v1h-1zM32 57h1v1h-1zM32 69h2v1h-2zM32 88h2v1h-2zM32 13h3v1h-3zM32 29h3v1h-3zM32 49h4v1h-4zM32 71h7v1h-7zM33 14h1v1h-1zM33 48h1v1h-1zM33 56h1v1h-1zM33 62h1v1h-1zM33 64h1v1h-1zM33 67h1v1h-1zM33 20h2v1h-2zM33 90h2v1h-2zM33 89h3v1h-3zM33 72h5v1h-5zM33 66h6v1h-6zM33 70h6v1h-6zM34 30h1v1h-1zM34 61h1v1h-1zM34 65h1v1h-1zM34 68h1v1h-1zM34 91h1v1h-1zM34 57h2v1h-2zM34 22h3v1h-3zM34 23h4v1h-4zM34 25h7v1h-7zM34 74h7v1h-7zM35 21h1v1h-1zM35 58h1v1h-1zM35 24h2v1h-2zM35 69h3v1h-3zM35 75h4v1h-4zM35 76h5v1h-5zM35 27h6v1h-6zM35 88h8v1h-8zM35 84h16v1h-16zM36 20h1v1h-1zM36 29h1v1h-1zM36 67h1v1h-1zM36 78h1v1h-1zM36 87h1v1h-1zM36 91h1v1h-1zM36 12h2v1h-2zM36 90h2v1h-2zM36 13h4v1h-4zM36 28h6v1h-6zM36 30h7v1h-7zM36 15h12v1h-12zM36 85h16v1h-16zM36 19h27v1h-27zM37 50h1v1h-1zM37 58h1v1h-1zM37 68h1v1h-1zM37 86h1v1h-1zM37 21h2v1h-2zM37 57h2v1h-2zM37 89h6v1h-6zM37 14h8v1h-8zM38 11h1v1h-1zM38 22h1v1h-1zM38 78h1v1h-1zM38 77h2v1h-2zM38 20h3v1h-3zM38 91h3v1h-3zM38 29h9v1h-9zM38 87h15v1h-15zM39 10h1v1h-1zM39 12h1v1h-1zM39 23h1v1h-1zM39 51h1v1h-1zM39 56h1v1h-1zM39 69h1v1h-1zM39 72h1v1h-1zM39 80h2v1h-2zM39 90h2v1h-2zM39 73h3v1h-3zM40 9h1v1h-1zM40 52h1v1h-1zM40 54h1v2h-1zM40 78h1v1h-1zM40 24h2v1h-2zM40 68h2v1h-2zM40 75h2v1h-2zM40 31h4v1h-4zM40 22h6v1h-6zM40 21h14v1h-14zM41 33h1v1h-1zM41 70h1v1h-1zM41 76h1v1h-1zM41 79h1v1h-1zM41 13h2v1h-2zM41 23h2v1h-2zM41 86h8v1h-8zM41 71h10v1h-10zM42 32h1v1h-1zM42 35h1v1h-1zM42 55h1v1h-1zM42 72h1v1h-1zM42 91h2v1h-2zM42 36h3v1h-3zM42 52h3v1h-3zM42 34h4v1h-4zM42 53h4v1h-4zM42 80h8v1h-8zM42 20h22v1h-22zM43 49h1v1h-1zM43 69h1v1h-1zM43 73h1v2h-1zM43 51h3v1h-3zM43 33h4v1h-4zM43 78h4v1h-4zM43 75h6v1h-6zM43 77h6v1h-6zM43 81h8v1h-8zM43 79h9v1h-9zM44 37h1v1h-1zM44 90h1v1h-1zM44 54h2v1h-2zM44 70h3v1h-3zM44 89h3v1h-3zM44 76h8v1h-8zM45 50h1v1h-1zM45 69h1v1h-1zM45 91h1v1h-1zM45 30h2v1h-2zM45 55h2v1h-2zM45 88h2v1h-2zM45 32h3v1h-3zM45 35h3v1h-3zM45 83h7v1h-7zM45 72h27v1h-27zM46 13h1v2h-1zM46 16h1v1h-1zM46 48h1v1h-1zM46 56h1v1h-1zM46 90h1v1h-1zM46 47h2v1h-2zM46 74h8v1h-8zM46 28h26v1h-26zM46 73h26v1h-26zM47 36h1v1h-1zM47 38h1v1h-1zM47 43h1v1h-1zM47 57h1v1h-1zM47 39h2v1h-2zM47 26h24v1h-24zM47 27h26v1h-26zM48 16h1v1h-1zM48 34h1v1h-1zM48 40h1v1h-1zM48 42h1v1h-1zM48 89h1v1h-1zM48 41h2v1h-2zM48 58h2v1h-2zM48 69h5v2h-5zM48 78h6v1h-6zM48 22h8v1h-8zM48 30h9v1h-9zM48 46h9v1h-9zM48 25h21v1h-21zM49 29h1v1h-1zM49 37h1v1h-1zM49 67h1v1h-1zM49 91h1v1h-1zM49 88h2v1h-2zM49 68h3v1h-3zM49 35h4v1h-4zM49 32h5v1h-5zM49 23h6v1h-6zM49 44h8v1h-8zM49 24h12v1h-12zM49 43h12v1h-12zM49 36h13v1h-13zM50 9h1v1h-1zM50 63h1v1h-1zM50 65h1v1h-1zM50 77h1v1h-1zM50 0h2v1h-2zM50 17h2v1h-2zM50 86h2v1h-2zM50 31h3v1h-3zM50 59h4v1h-4zM50 33h6v1h-6zM50 75h7v1h-7zM50 38h8v1h-8zM50 34h14v1h-14zM51 11h1v1h-1zM51 16h1v1h-1zM51 18h1v1h-1zM51 40h1v1h-1zM51 64h1v1h-1zM51 89h1v2h-1zM51 58h2v1h-2zM51 80h3v1h-3zM51 42h4v1h-4zM51 66h6v2h-6zM51 37h10v1h-10zM51 29h22v1h-22zM51 60h22v2h-22zM52 8h1v1h-1zM52 12h1v1h-1zM52 14h1v2h-1zM52 77h1v1h-1zM52 81h1v1h-1zM52 84h2v1h-2zM52 47h4v1h-4zM52 45h5v1h-5zM52 65h6v1h-6zM52 71h6v1h-6zM52 39h8v1h-8zM52 41h8v1h-8zM52 62h21v1h-21zM53 68h1v1h-1zM53 85h1v1h-1zM53 76h2v1h-2zM53 40h4v1h-4zM53 64h6v1h-6zM53 63h7v1h-7zM53 18h8v1h-8zM54 16h1v1h-1zM54 31h1v1h-1zM54 87h1v1h-1zM54 17h2v1h-2zM54 70h2v1h-2zM54 81h2v1h-2zM54 48h3v1h-3zM54 79h5v1h-5zM54 35h8v1h-8zM55 21h1v1h-1zM55 68h1v1h-1zM55 77h1v1h-1zM55 49h2v1h-2zM55 80h2v1h-2zM55 82h2v1h-2zM55 74h16v1h-16zM56 42h2v1h-2zM56 31h3v1h-3zM56 32h4v1h-4zM56 23h6v1h-6zM56 50h8v1h-8zM57 22h1v1h-1zM57 76h1v1h-1zM57 16h3v1h-3zM57 52h3v1h-3zM57 17h4v1h-4zM57 21h4v1h-4zM57 51h4v1h-4zM57 77h5v1h-5zM57 33h6v1h-6zM57 81h7v1h-7zM58 53h1v1h-1zM58 78h1v1h-1zM58 82h1v3h-1zM58 40h2v1h-2zM58 59h2v1h-2zM58 30h3v1h-3zM59 15h1v1h-1zM59 55h1v3h-1zM59 76h1v1h-1zM59 14h2v1h-2zM59 22h2v1h-2zM59 80h2v1h-2zM59 42h10v1h-10zM59 71h13v1h-13zM59 75h14v1h-14zM59 58h19v1h-19zM60 44h1v1h-1zM60 83h3v1h-3zM60 49h5v1h-5zM60 31h15v1h-15zM61 16h1v1h-1zM61 41h1v1h-1zM61 57h1v1h-1zM61 79h1v1h-1zM61 82h1v1h-1zM61 85h1v1h-1zM61 15h2v1h-2zM61 32h2v1h-2zM61 38h2v1h-2zM61 78h3v1h-3zM61 59h6v1h-6zM61 76h11v1h-11zM61 39h13v1h-13zM61 46h13v1h-13zM61 45h15v1h-15zM61 47h16v1h-16zM62 12h1v1h-1zM62 21h1v2h-1zM62 37h1v1h-1zM62 48h1v1h-1zM62 51h1v1h-1zM62 84h1v1h-1zM62 86h1v1h-1zM62 14h2v1h-2zM62 18h2v1h-2zM62 80h4v1h-4zM62 17h5v1h-5zM62 24h5v1h-5zM62 44h5v1h-5zM62 43h8v1h-8zM62 40h9v1h-9zM62 70h10v1h-10zM63 13h1v1h-1zM63 35h1v2h-1zM63 79h1v1h-1zM63 16h2v1h-2zM63 41h7v1h-7zM63 68h8v1h-8zM63 77h8v1h-8zM63 69h9v1h-9zM63 63h10v1h-10zM63 30h12v1h-12zM63 57h14v1h-14zM64 19h1v1h-1zM64 37h1v2h-1zM64 52h1v1h-1zM64 15h2v1h-2zM64 66h7v1h-7zM64 33h8v1h-8zM64 48h8v1h-8zM64 64h9v1h-9zM64 67h9v1h-9zM64 51h11v1h-11zM64 56h12v1h-12zM64 65h12v1h-12zM65 12h1v1h-1zM65 36h1v1h-1zM65 83h1v1h-1zM65 85h1v1h-1zM65 21h2v1h-2zM65 32h3v1h-3zM65 79h3v1h-3zM65 34h4v1h-4zM65 20h5v1h-5zM65 53h6v1h-6zM65 55h12v1h-12zM66 16h1v1h-1zM66 22h1v2h-1zM66 38h1v1h-1zM66 82h4v1h-4zM66 35h6v1h-6zM66 78h7v1h-7zM66 50h8v1h-8zM66 52h9v1h-9zM66 37h11v1h-11zM66 49h11v1h-11zM66 54h11v1h-11zM67 80h2v1h-2zM67 85h2v1h-2zM67 36h3v1h-3zM68 19h3v1h-3zM68 38h6v1h-6zM68 44h7v1h-7zM69 18h1v1h-1zM69 32h3v1h-3zM70 81h1v1h-1zM70 25h2v1h-2zM70 34h2v1h-2zM70 79h2v1h-2zM70 59h3v1h-3zM70 42h6v1h-6zM71 20h1v1h-1zM71 36h2v1h-2zM71 43h4v1h-4zM72 53h4v1h-4zM73 76h1v2h-1zM73 40h2v1h-2zM73 48h2v1h-2zM74 29h1v1h-1zM74 36h1v1h-1zM74 41h1v1h-1zM74 59h1v1h-1zM74 64h1v1h-1zM74 67h1v1h-1zM74 60h2v1h-2zM75 38h1v2h-1zM75 61h1v1h-1zM75 66h1v1h-1zM75 46h2v1h-2zM76 35h1v1h-1zM76 41h1v1h-1zM76 43h1v1h-1zM76 48h1v1h-1zM76 62h1v3h-1zM76 44h3v1h-3zM76 40h6v1h-6zM77 51h1v1h-1zM77 39h4v1h-4zM77 52h7v2h-7zM78 36h1v1h-1zM78 45h1v1h-1zM78 48h1v1h-1zM78 56h1v1h-1zM78 46h2v1h-2zM78 59h2v1h-2zM78 55h4v1h-4zM78 41h6v2h-6zM79 49h1v1h-1zM79 37h2v2h-2zM80 44h1v1h-1zM80 45h2v1h-2zM80 54h2v1h-2zM80 56h5v1h-5zM81 57h1v1h-1zM81 43h2v1h-2zM81 50h2v2h-2zM82 39h1v1h-1zM82 44h1v1h-1zM82 38h2v1h-2zM83 37h1v1h-1zM83 40h1v1h-1zM83 57h1v1h-1zM83 54h2v1h-2zM84 39h1v1h-1zM84 49h1v1h-1zM84 51h2v1h-2zM84 55h2v1h-2zM85 34h1v1h-1zM85 40h1v1h-1zM86 39h1v1h-1zM86 49h1v2h-1zM86 53h1v1h-1zM86 57h1v1h-1zM86 54h2v1h-2z"/>
<path fill="#002afc" d="M13 54h3v1h-3zM14 56h1v1h-1zM16 55h1v1h-1zM17 57h1v1h-1zM17 28h2v1h-2zM17 56h5v1h-5zM18 27h1v1h-1zM18 29h1v1h-1zM18 53h1v2h-1zM18 58h1v1h-1zM18 30h4v1h-4zM19 26h1v1h-1zM19 52h1v1h-1zM19 55h1v1h-1zM20 25h1v1h-1zM20 31h1v1h-1zM21 26h1v1h-1zM21 50h1v1h-1zM21 55h1v1h-1zM21 57h1v1h-1zM21 27h4v1h-4zM22 28h1v1h-1zM22 33h1v1h-1zM22 47h1v3h-1zM22 52h1v1h-1zM23 25h1v1h-1zM23 51h1v1h-1zM23 55h1v1h-1zM23 57h1v1h-1zM23 37h2v1h-2zM23 56h2v1h-2zM23 54h3v1h-3zM23 50h4v1h-4zM24 33h1v1h-1zM24 47h1v1h-1zM24 52h1v1h-1zM24 66h1v1h-1zM24 34h7v1h-7zM25 29h1v2h-1zM25 45h1v1h-1zM25 49h1v1h-1zM25 59h2v1h-2zM26 26h1v1h-1zM26 28h1v1h-1zM26 36h1v1h-1zM26 44h1v1h-1zM26 58h1v1h-1zM26 67h1v1h-1zM26 32h2v1h-2zM26 46h4v1h-4zM26 33h5v1h-5zM26 51h5v1h-5zM27 53h1v3h-1zM27 49h2v1h-2zM27 68h2v1h-2zM27 48h4v1h-4zM27 65h4v1h-4zM27 29h5v1h-5zM27 45h5v1h-5zM27 47h8v1h-8zM28 37h1v1h-1zM28 52h1v1h-1zM28 56h1v1h-1zM28 50h2v1h-2zM28 63h2v1h-2zM28 36h3v1h-3zM29 26h1v1h-1zM29 35h1v1h-1zM29 53h1v1h-1zM29 60h1v1h-1zM29 25h2v1h-2zM29 31h2v1h-2zM29 58h2v1h-2zM29 27h3v1h-3zM29 55h3v1h-3zM29 66h4v1h-4zM30 23h1v1h-1zM30 30h1v1h-1zM30 38h1v1h-1zM30 54h1v1h-1zM30 67h1v1h-1zM30 73h1v1h-1zM30 44h2v1h-2zM30 49h2v1h-2zM30 69h2v1h-2zM30 32h3v1h-3zM30 68h4v1h-4zM30 24h5v1h-5zM31 22h1v1h-1zM31 35h1v1h-1zM31 71h1v1h-1zM31 46h2v1h-2zM31 62h2v1h-2zM31 60h5v1h-5zM32 20h1v1h-1zM32 33h1v1h-1zM32 41h1v2h-1zM32 48h1v1h-1zM32 56h1v1h-1zM32 64h1v1h-1zM32 67h1v1h-1zM32 70h1v1h-1zM32 72h1v1h-1zM32 25h2v1h-2zM32 30h2v1h-2zM32 43h2v1h-2zM32 61h2v1h-2zM32 65h2v1h-2zM33 22h1v2h-1zM33 27h1v1h-1zM33 57h1v1h-1zM33 63h1v1h-1zM33 74h1v1h-1zM33 45h2v1h-2zM33 76h2v1h-2zM34 21h1v1h-1zM34 58h1v2h-1zM34 69h1v1h-1zM34 75h1v1h-1zM34 67h2v1h-2zM34 48h3v1h-3zM34 64h3v1h-3zM34 46h4v1h-4zM35 29h1v1h-1zM35 31h1v1h-1zM35 44h1v1h-1zM35 63h1v1h-1zM35 61h3v2h-3zM35 65h6v1h-6zM36 49h2v1h-2zM36 59h5v1h-5zM36 43h8v1h-8zM37 20h1v1h-1zM37 22h1v1h-1zM37 44h1v1h-1zM37 60h1v1h-1zM37 77h1v2h-1zM37 63h2v1h-2zM37 24h3v1h-3zM38 23h1v1h-1zM38 58h1v1h-1zM38 64h1v1h-1zM38 72h1v2h-1zM38 45h2v1h-2zM38 68h2v1h-2zM38 42h3v1h-3zM38 32h4v1h-4zM38 67h4v1h-4zM38 50h7v1h-7zM39 21h1v2h-1zM39 31h1v1h-1zM39 44h1v1h-1zM39 75h1v1h-1zM39 78h1v1h-1zM39 48h2v1h-2zM39 66h2v1h-2zM39 70h2v2h-2zM39 57h4v1h-4zM40 23h1v1h-1zM40 33h1v1h-1zM40 40h1v2h-1zM40 47h1v1h-1zM40 76h1v1h-1zM40 34h2v1h-2zM40 58h2v1h-2zM40 72h2v1h-2zM40 49h3v1h-3zM40 51h3v1h-3zM40 69h3v1h-3zM40 46h4v1h-4zM40 56h6v1h-6zM41 20h1v1h-1zM41 35h1v2h-1zM41 44h1v1h-1zM41 52h1v2h-1zM41 55h1v1h-1zM41 80h1v1h-1zM41 74h2v1h-2zM41 77h2v2h-2zM41 81h2v1h-2zM41 54h3v1h-3zM41 38h6v1h-6zM42 33h1v1h-1zM42 47h1v1h-1zM42 68h1v1h-1zM42 73h1v1h-1zM42 75h1v1h-1zM42 79h1v1h-1zM42 70h2v1h-2zM42 76h2v1h-2zM42 48h4v1h-4zM42 39h5v1h-5zM42 41h6v1h-6zM43 37h1v1h-1zM43 35h2v1h-2zM43 55h2v1h-2zM43 72h2v1h-2zM43 40h5v1h-5zM43 45h6v1h-6zM44 30h1v1h-1zM44 32h1v1h-1zM44 47h2v1h-2zM44 49h2v1h-2zM44 57h2v1h-2zM44 73h2v2h-2zM44 44h5v1h-5zM44 68h5v1h-5zM45 46h1v1h-1zM45 36h2v1h-2zM45 37h4v1h-4zM46 43h1v1h-1zM46 34h2v1h-2zM46 42h2v1h-2zM46 69h2v1h-2zM46 31h4v1h-4zM47 30h1v1h-1zM47 46h1v1h-1zM47 58h1v1h-1zM47 70h1v1h-1zM47 67h2v1h-2zM47 33h3v1h-3zM48 32h1v1h-1zM48 35h1v1h-1zM48 43h1v1h-1zM48 38h2v1h-2zM48 59h2v1h-2zM48 66h3v1h-3zM49 34h1v1h-1zM49 65h1v1h-1zM49 40h2v1h-2zM49 42h2v1h-2zM49 60h2v2h-2zM49 64h2v1h-2zM49 39h3v1h-3zM50 37h1v1h-1zM50 67h1v1h-1zM50 41h2v1h-2zM50 45h2v1h-2zM50 62h2v1h-2zM51 65h1v1h-1zM52 40h1v1h-1zM52 64h1v1h-1zM56 47h1v1h-1zM57 48h1v1h-1zM57 49h3v1h-3zM58 44h1v2h-1zM58 38h3v1h-3zM60 39h1v1h-1zM60 41h1v1h-1zM60 45h1v3h-1zM60 57h1v1h-1zM60 40h2v1h-2zM60 56h4v1h-4zM61 37h1v1h-1zM61 43h1v2h-1zM61 48h1v1h-1zM61 51h1v1h-1zM62 35h1v1h-1zM62 41h1v1h-1zM62 57h1v1h-1zM63 33h1v1h-1zM63 37h1v1h-1zM63 51h1v1h-1zM63 55h2v1h-2zM64 32h1v1h-1zM64 34h1v1h-1zM64 36h1v1h-1zM64 53h1v1h-1zM64 35h2v1h-2zM64 54h2v1h-2zM65 37h1v2h-1zM65 50h1v1h-1zM65 52h1v1h-1zM66 36h1v1h-1zM67 38h1v1h-1z"/>
<path fill="#003ffc" d="M19 27h1v1h-1zM20 26h1v1h-1zM21 29h2v1h-2zM27 50h1v1h-1zM30 37h3v1h-3zM31 36h1v1h-1zM31 38h1v1h-1zM31 34h2v1h-2zM32 35h1v1h-1zM32 39h1v2h-1zM32 45h1v1h-1zM32 44h3v1h-3zM33 42h1v1h-1zM33 46h1v1h-1zM33 41h2v1h-2zM33 32h5v1h-5zM34 31h1v1h-1zM34 62h1v2h-1zM35 45h1v1h-1zM35 47h5v1h-5zM36 44h1v1h-1zM36 63h1v1h-1zM37 31h1v1h-1zM37 42h1v1h-1zM37 45h1v1h-1zM37 64h1v1h-1zM37 48h2v1h-2zM38 44h1v1h-1zM38 46h2v1h-2zM38 49h2v1h-2zM38 62h2v1h-2zM38 60h4v1h-4zM39 41h1v1h-1zM39 58h1v1h-1zM39 61h1v1h-1zM39 64h1v1h-1zM39 63h2v1h-2zM40 35h1v1h-1zM40 44h1v1h-1zM40 39h2v1h-2zM40 45h3v1h-3zM41 41h1v1h-1zM41 47h1v2h-1zM41 65h1v1h-1zM41 37h2v1h-2zM41 40h2v1h-2zM41 59h2v1h-2zM41 66h2v1h-2zM41 42h5v1h-5zM42 58h1v1h-1zM42 44h2v1h-2zM42 67h2v1h-2zM43 47h1v1h-1zM43 57h1v1h-1zM43 68h1v1h-1zM44 46h1v1h-1zM44 58h1v1h-1zM44 43h2v1h-2zM46 58h1v1h-1zM46 67h1v1h-1zM47 59h1v1h-1zM47 66h1v1h-1zM48 60h1v1h-1zM48 65h1v1h-1zM49 62h1v2h-1zM57 46h1v2h-1zM59 46h1v1h-1zM59 53h1v2h-1zM60 48h1v1h-1zM60 52h3v1h-3z"/>
<path fill="#0054fc" d="M19 29h1v1h-1zM33 33h1v1h-1zM34 42h1v2h-1zM37 41h1v1h-1zM38 33h1v1h-1zM40 37h1v1h-1zM45 67h1v1h-1zM48 63h1v1h-1zM58 46h1v1h-1zM63 54h1v1h-1z"/>
<path fill="#1554fc" d="M19 28h1v1h-1zM21 28h1v1h-1zM32 38h1v1h-1zM33 34h1v2h-1zM33 39h1v1h-1zM33 40h2v1h-2zM34 33h1v1h-1zM35 41h2v2h-2zM36 33h2v1h-2zM39 34h1v1h-1zM39 39h1v2h-1zM40 36h1v1h-1zM40 61h1v2h-1zM40 64h2v1h-2zM43 58h1v1h-1zM44 67h1v1h-1zM45 58h1v1h-1zM46 66h1v1h-1zM47 65h1v1h-1zM48 61h1v1h-1zM48 64h1v1h-1zM59 47h1v2h-1zM60 55h1v1h-1z"/>
<path fill="#1569fc" d="M20 27h1v1h-1zM20 29h1v1h-1zM32 36h2v1h-2zM33 38h1v1h-1zM34 39h1v1h-1zM35 40h1v1h-1zM37 40h2v1h-2zM38 34h1v1h-1zM39 35h1v1h-1zM40 38h1v1h-1zM41 61h1v1h-1zM41 63h1v1h-1zM42 60h1v1h-1zM42 65h1v1h-1zM43 59h4v1h-4zM45 66h1v1h-1zM46 65h1v1h-1zM46 60h2v1h-2zM47 61h1v1h-1zM47 64h1v1h-1zM48 62h1v1h-1zM58 47h1v2h-1zM60 53h1v2h-1zM62 53h1v3h-1z"/>
<path fill="#157efc" d="M20 28h1v1h-1zM33 37h1v1h-1zM34 38h1v1h-1zM34 34h2v1h-2zM35 39h1v1h-1zM36 40h1v1h-1zM37 39h2v1h-2zM39 36h1v1h-1zM39 38h1v1h-1zM41 62h2v1h-2zM42 61h1v1h-1zM42 63h1v2h-1zM43 60h1v1h-1zM43 65h3v1h-3zM45 60h1v1h-1zM46 61h1v1h-1zM47 62h1v2h-1zM61 53h1v3h-1z"/>
<path fill="#1593fc" d="M34 35h1v1h-1zM36 34h1v1h-1zM36 39h1v1h-1zM39 37h1v1h-1z"/>
<path fill="#2a93fc" d="M37 34h1v1h-1zM38 35h1v1h-1zM38 38h1v1h-1zM43 61h1v1h-1zM43 63h1v2h-1zM44 60h1v1h-1zM46 62h1v3h-1z"/>
<path fill="#2aa8fc" d="M34 36h2v2h-2zM35 35h1v1h-1zM35 38h1v1h-1zM37 35h1v1h-1zM37 38h1v1h-1zM38 36h1v2h-1zM43 62h3v1h-3zM44 61h2v1h-2zM45 63h1v2h-1z"/>
<path fill="#3fa8fc" d="M44 63h1v1h-1z"/>
<path fill="#3fbdfc" d="M36 38h1v1h-1zM36 37h2v1h-2zM37 36h1v1h-1z"/>
</g>
</g></g>
<rect x="340.3" y="654.8" width="413.3" height="415.4" fill="#000"/>
<g clip-path="url(#cd0)"><g filter="url(#softi)">
<g transform="translate(340.3,654.8) scale(4.49239,4.51522)">
<path fill="#00003f" d="M32 85h1v1h-1zM41 49h1v1h-1zM59 34h1v1h-1z"/>
</g>
</g></g>
<rect x="857.0" y="654.8" width="414.5" height="415.4" fill="#000"/>
<g clip-path="url(#cd20)"><g filter="url(#softi)">
<g transform="translate(857.0,654.8) scale(4.50543,4.51522)">
<path fill="#00002a" d="M2 41h1v1h-1zM3 9h1v1h-1zM6 47h1v1h-1zM8 68h1v1h-1zM10 69h1v1h-1zM16 80h1v1h-1zM22 22h1v1h-1zM23 5h1v1h-1zM43 90h1v1h-1zM44 16h1v1h-1zM53 24h1v1h-1zM64 74h1v1h-1zM67 73h1v1h-1zM74 34h2v1h-2zM78 61h1v1h-1zM80 58h1v1h-1z"/>
<path fill="#00003f" d="M12 72h1v1h-1zM15 86h2v1h-2zM29 84h1v1h-1zM30 88h1v1h-1zM34 14h1v1h-1zM37 30h1v1h-1zM41 16h1v1h-1zM43 10h1v1h-1zM45 90h1v1h-1zM48 89h1v1h-1zM49 85h1v1h-1zM50 26h1v1h-1zM56 21h1v1h-1zM59 21h1v1h-1zM63 40h1v1h-1zM68 18h1v1h-1zM73 63h1v1h-1zM82 46h1v1h-1z"/>
<path fill="#000054" d="M0 54h1v1h-1zM6 22h1v1h-1zM6 68h1v1h-1zM11 17h1v1h-1zM11 37h1v1h-1zM12 36h1v1h-1zM12 80h1v1h-1zM26 12h1v1h-1zM27 84h1v1h-1zM32 16h1v1h-1zM34 16h1v1h-1zM36 22h1v1h-1zM37 9h1v1h-1zM38 4h1v1h-1zM39 90h1v1h-1zM44 12h1v1h-1zM47 8h1v1h-1zM50 24h1v1h-1zM51 25h1v1h-1zM57 81h1v1h-1zM62 39h1v1h-1zM72 30h1v1h-1zM72 37h1v1h-1zM73 56h1v1h-1zM73 60h1v1h-1zM73 75h1v1h-1zM74 58h1v1h-1z"/>
<path fill="#000069" d="M5 21h1v1h-1zM7 48h1v1h-1zM24 5h1v1h-1zM27 6h1v1h-1zM31 84h1v1h-1zM34 20h1v1h-1zM44 4h1v1h-1zM46 17h1v1h-1zM49 90h1v1h-1zM52 23h1v1h-1zM64 42h1v1h-1zM65 43h1v1h-1zM72 62h1v1h-1z"/>
<path fill="#00007e" d="M1 7h1v1h-1zM2 6h1v1h-1zM2 50h1v1h-1zM3 69h1v1h-1zM6 60h1v1h-1zM8 16h1v1h-1zM8 19h1v1h-1zM8 69h1v1h-1zM9 44h1v1h-1zM13 42h1v1h-1zM13 82h1v1h-1zM14 16h1v1h-1zM14 65h1v1h-1zM15 90h1v1h-1zM18 20h1v1h-1zM23 83h1v1h-1zM27 9h1v1h-1zM39 69h1v1h-1zM43 22h1v1h-1zM47 89h1v1h-1zM49 3h1v1h-1zM53 83h1v1h-1zM61 40h1v1h-1zM61 71h1v1h-1zM63 70h1v1h-1zM68 19h1v1h-1zM78 60h1v1h-1zM81 54h1v1h-1zM82 44h1v1h-1z"/>
<path fill="#000093" d="M0 4h1v1h-1zM0 34h1v1h-1zM1 62h1v1h-1zM3 8h1v1h-1zM14 40h1v1h-1zM15 13h1v1h-1zM15 81h1v1h-1zM19 88h1v1h-1zM22 84h1v1h-1zM34 8h1v1h-1zM42 10h1v1h-1zM45 1h1v1h-1zM45 82h1v1h-1zM48 81h1v1h-1zM49 5h1v1h-1zM56 25h1v1h-1zM60 70h1v1h-1zM70 77h1v1h-1zM73 54h1v1h-1zM76 44h1v1h-1zM77 48h1v1h-1zM77 50h1v1h-1zM78 64h1v1h-1zM79 44h1v1h-1z"/>
<path fill="#0000a8" d="M1 5h1v1h-1zM3 50h1v1h-1zM5 17h1v1h-1zM5 49h1v1h-1zM15 40h1v1h-1zM18 17h1v1h-1zM18 89h1v1h-1zM21 82h1v1h-1zM24 84h1v1h-1zM34 84h1v1h-1zM36 20h1v1h-1zM37 26h1v1h-1zM40 14h1v1h-1zM40 18h1v1h-1zM44 83h1v1h-1zM44 10h2v1h-2zM47 2h1v1h-1zM47 17h1v1h-1zM55 9h1v1h-1zM60 39h1v1h-1zM67 80h1v1h-1zM69 38h1v1h-1zM70 74h1v2h-1zM76 53h2v1h-2zM78 52h1v1h-1zM87 36h1v1h-1z"/>
<path fill="#0000bd" d="M0 9h1v1h-1zM0 37h1v1h-1zM0 42h2v1h-2zM1 34h1v1h-1zM1 48h1v1h-1zM1 46h2v1h-2zM2 7h1v2h-1zM2 56h1v1h-1zM2 67h1v1h-1zM2 69h1v1h-1zM3 22h1v1h-1zM3 63h1v1h-1zM3 70h1v1h-1zM4 69h1v1h-1zM5 47h1v1h-1zM6 64h1v1h-1zM7 32h1v1h-1zM7 45h1v1h-1zM8 23h1v1h-1zM8 25h1v1h-1zM8 28h1v1h-1zM8 38h1v1h-1zM8 42h1v2h-1zM8 17h2v1h-2zM10 46h1v1h-1zM11 38h1v1h-1zM11 71h2v1h-2zM12 18h1v1h-1zM13 19h1v1h-1zM14 17h1v1h-1zM14 46h1v1h-1zM15 85h1v1h-1zM15 77h2v1h-2zM16 89h1v1h-1zM16 91h1v1h-1zM17 15h1v1h-1zM17 17h1v1h-1zM18 27h1v1h-1zM18 90h1v1h-1zM19 21h1v1h-1zM20 18h1v1h-1zM20 84h1v1h-1zM21 11h1v1h-1zM22 3h1v1h-1zM24 6h1v1h-1zM24 67h1v1h-1zM25 0h1v1h-1zM27 38h1v1h-1zM27 42h1v1h-1zM27 11h2v1h-2zM27 17h2v1h-2zM28 3h1v1h-1zM29 4h1v1h-1zM29 69h1v1h-1zM32 7h1v1h-1zM32 88h1v1h-1zM33 1h1v1h-1zM33 3h1v2h-1zM33 19h1v1h-1zM33 30h1v1h-1zM34 23h1v1h-1zM35 7h1v1h-1zM36 8h1v1h-1zM36 14h1v1h-1zM36 23h1v1h-1zM37 4h1v1h-1zM37 6h1v1h-1zM37 51h1v1h-1zM38 3h1v1h-1zM38 10h1v1h-1zM38 19h1v1h-1zM38 52h1v1h-1zM39 0h1v1h-1zM39 11h1v1h-1zM39 88h1v1h-1zM40 3h1v1h-1zM40 5h1v1h-1zM40 87h1v1h-1zM41 86h1v1h-1zM42 15h1v1h-1zM42 83h1v1h-1zM43 87h1v1h-1zM45 0h1v1h-1zM45 3h1v1h-1zM45 14h1v1h-1zM45 80h1v1h-1zM46 2h1v1h-1zM46 9h1v1h-1zM46 18h1v1h-1zM46 45h1v1h-1zM46 52h1v1h-1zM47 0h1v1h-1zM48 1h1v1h-1zM48 3h1v1h-1zM48 85h1v2h-1zM49 27h1v1h-1zM50 20h1v1h-1zM50 25h1v1h-1zM51 27h1v2h-1zM51 81h1v1h-1zM52 21h1v1h-1zM52 26h1v1h-1zM54 17h1v1h-1zM54 54h1v1h-1zM54 77h1v1h-1zM56 19h1v1h-1zM56 27h2v1h-2zM57 11h1v1h-1zM57 28h1v1h-1zM57 78h1v1h-1zM59 74h1v1h-1zM60 41h1v1h-1zM60 76h1v1h-1zM61 42h1v1h-1zM62 75h1v1h-1zM63 42h1v1h-1zM63 68h2v1h-2zM64 44h1v1h-1zM65 28h1v1h-1zM65 73h1v1h-1zM66 69h1v1h-1zM66 78h1v1h-1zM67 27h1v1h-1zM67 59h1v1h-1zM68 67h1v1h-1zM69 61h1v1h-1zM69 79h1v1h-1zM70 19h1v1h-1zM70 35h1v1h-1zM70 60h1v1h-1zM70 78h1v1h-1zM70 46h2v1h-2zM71 29h1v2h-1zM71 63h1v1h-1zM71 69h1v1h-1zM71 73h1v1h-1zM72 18h1v2h-1zM74 31h1v1h-1zM74 37h1v1h-1zM76 36h1v1h-1zM76 39h1v1h-1zM76 54h1v1h-1zM76 80h1v1h-1zM77 55h2v1h-2zM78 46h1v1h-1zM78 62h2v1h-2zM79 40h1v1h-1zM80 41h1v1h-1zM80 43h1v1h-1zM80 46h1v1h-1zM82 33h1v1h-1zM85 56h1v1h-1zM86 33h1v1h-1zM86 57h1v1h-1z"/>
<path fill="#0000d2" d="M0 7h1v2h-1zM0 38h1v1h-1zM0 47h1v2h-1zM0 51h1v1h-1zM0 57h1v1h-1zM1 20h1v1h-1zM1 43h1v1h-1zM1 55h1v1h-1zM2 9h1v1h-1zM2 21h1v1h-1zM2 39h1v1h-1zM2 45h1v1h-1zM2 48h1v2h-1zM2 52h1v1h-1zM2 58h1v1h-1zM3 55h1v1h-1zM3 43h2v1h-2zM4 18h1v1h-1zM4 20h1v1h-1zM4 41h1v1h-1zM4 51h1v1h-1zM4 61h1v1h-1zM5 19h1v1h-1zM5 40h1v1h-1zM5 44h1v1h-1zM5 48h1v1h-1zM5 60h1v1h-1zM6 50h1v2h-1zM6 41h2v1h-2zM7 61h1v1h-1zM7 65h1v1h-1zM8 24h1v1h-1zM8 26h1v2h-1zM8 44h1v1h-1zM8 49h1v1h-1zM9 16h1v1h-1zM9 18h1v2h-1zM9 45h1v1h-1zM9 69h1v1h-1zM10 29h1v1h-1zM10 70h1v1h-1zM11 46h1v1h-1zM11 48h1v1h-1zM12 14h1v1h-1zM12 17h1v1h-1zM12 47h1v1h-1zM13 16h1v1h-1zM13 33h1v1h-1zM13 39h1v1h-1zM13 89h1v1h-1zM13 90h2v1h-2zM14 19h1v1h-1zM14 49h1v1h-1zM14 68h1v1h-1zM14 73h1v1h-1zM14 87h1v1h-1zM14 76h2v1h-2zM15 15h1v2h-1zM15 36h1v3h-1zM15 43h1v1h-1zM15 80h1v1h-1zM15 84h1v1h-1zM15 91h1v1h-1zM16 35h1v1h-1zM16 74h1v1h-1zM16 88h1v1h-1zM17 25h1v1h-1zM17 73h1v1h-1zM17 80h1v1h-1zM17 84h1v1h-1zM17 89h1v1h-1zM18 14h1v1h-1zM18 81h1v1h-1zM19 13h1v1h-1zM19 77h1v1h-1zM19 82h1v1h-1zM19 79h2v1h-2zM20 17h1v1h-1zM20 80h1v1h-1zM20 83h1v1h-1zM20 81h2v1h-2zM21 12h1v1h-1zM21 16h1v1h-1zM22 11h1v1h-1zM22 17h1v2h-1zM22 83h1v1h-1zM23 8h1v1h-1zM23 22h1v1h-1zM25 11h1v1h-1zM25 15h1v1h-1zM25 83h1v1h-1zM25 70h2v1h-2zM25 5h3v1h-3zM26 4h1v1h-1zM26 81h1v1h-1zM27 2h1v2h-1zM27 15h1v1h-1zM28 10h1v1h-1zM28 12h1v1h-1zM29 43h1v1h-1zM29 82h1v2h-1zM29 5h2v1h-2zM30 6h1v1h-1zM30 85h1v1h-1zM30 87h1v1h-1zM30 90h1v1h-1zM31 4h1v1h-1zM31 91h1v1h-1zM32 0h1v1h-1zM32 5h1v1h-1zM32 27h1v2h-1zM32 82h1v1h-1zM33 26h1v1h-1zM33 87h1v1h-1zM34 5h1v1h-1zM34 11h1v1h-1zM34 19h1v1h-1zM34 22h1v1h-1zM34 79h1v1h-1zM35 6h1v1h-1zM35 16h1v1h-1zM35 18h1v1h-1zM35 24h1v1h-1zM35 81h1v1h-1zM36 11h1v1h-1zM36 21h1v1h-1zM36 83h1v1h-1zM37 17h1v1h-1zM37 81h1v1h-1zM37 5h2v1h-2zM37 7h2v1h-2zM38 1h1v1h-1zM38 6h1v1h-1zM38 11h1v1h-1zM38 91h1v1h-1zM38 14h2v1h-2zM39 9h1v1h-1zM39 13h1v1h-1zM39 19h1v2h-1zM40 11h1v1h-1zM40 43h1v1h-1zM40 70h1v1h-1zM40 88h1v1h-1zM41 7h1v1h-1zM41 9h1v1h-1zM41 20h1v1h-1zM41 91h1v1h-1zM42 11h1v1h-1zM42 16h1v1h-1zM42 86h1v4h-1zM43 1h1v1h-1zM43 3h1v1h-1zM43 9h1v1h-1zM43 15h1v1h-1zM44 5h1v2h-1zM44 88h1v2h-1zM44 85h2v1h-2zM45 8h1v1h-1zM45 17h1v1h-1zM45 20h1v1h-1zM45 69h1v1h-1zM46 10h1v1h-1zM46 54h1v1h-1zM46 86h1v1h-1zM46 90h1v1h-1zM46 22h2v1h-2zM47 1h1v1h-1zM47 6h1v1h-1zM47 23h1v1h-1zM47 84h1v1h-1zM48 88h1v1h-1zM49 18h1v1h-1zM49 23h1v1h-1zM50 16h1v1h-1zM50 27h1v2h-1zM50 76h1v1h-1zM50 91h1v1h-1zM50 21h2v1h-2zM51 22h1v2h-1zM51 26h1v1h-1zM51 84h1v1h-1zM51 17h2v1h-2zM52 28h1v2h-1zM52 19h2v1h-2zM52 75h2v1h-2zM53 16h1v1h-1zM53 27h1v1h-1zM54 20h1v2h-1zM54 53h1v1h-1zM55 12h1v1h-1zM55 18h1v1h-1zM55 80h1v1h-1zM55 28h2v1h-2zM57 26h1v1h-1zM57 69h1v1h-1zM57 80h1v1h-1zM58 70h1v1h-1zM59 20h1v1h-1zM59 41h1v1h-1zM59 71h1v1h-1zM59 40h2v1h-2zM59 42h2v1h-2zM61 24h1v1h-1zM61 39h1v1h-1zM61 41h1v1h-1zM61 73h1v1h-1zM61 79h1v1h-1zM61 44h3v1h-3zM62 28h1v1h-1zM62 42h1v1h-1zM63 29h1v1h-1zM63 45h1v1h-1zM63 72h1v1h-1zM63 75h1v1h-1zM63 69h2v1h-2zM64 30h1v2h-1zM65 29h1v1h-1zM66 36h1v1h-1zM66 39h1v2h-1zM66 61h1v1h-1zM67 42h1v1h-1zM67 74h2v1h-2zM68 37h1v1h-1zM68 59h1v1h-1zM68 62h1v1h-1zM68 66h1v1h-1zM68 68h1v1h-1zM68 77h1v1h-1zM68 79h1v1h-1zM68 29h2v1h-2zM69 27h1v1h-1zM69 60h1v1h-1zM69 64h1v2h-1zM70 41h1v3h-1zM70 53h1v1h-1zM70 61h1v1h-1zM70 70h1v1h-1zM71 52h1v1h-1zM71 66h1v1h-1zM71 49h2v1h-2zM72 36h1v1h-1zM72 46h1v1h-1zM72 48h1v1h-1zM72 65h1v1h-1zM72 67h1v1h-1zM73 38h1v1h-1zM73 41h1v1h-1zM73 50h1v1h-1zM73 52h1v1h-1zM73 55h1v1h-1zM73 57h1v2h-1zM73 64h1v1h-1zM74 32h1v1h-1zM74 54h1v1h-1zM74 60h1v1h-1zM74 44h2v1h-2zM74 47h2v1h-2zM75 62h1v1h-1zM75 64h1v1h-1zM76 37h1v1h-1zM76 45h1v1h-1zM76 48h1v1h-1zM76 50h1v2h-1zM77 49h1v1h-1zM77 56h1v1h-1zM77 58h1v1h-1zM78 41h1v1h-1zM78 45h1v1h-1zM78 51h1v1h-1zM78 59h1v1h-1zM79 53h1v1h-1zM79 65h1v1h-1zM82 42h1v1h-1zM82 45h1v1h-1zM82 57h1v1h-1zM84 57h1v2h-1zM85 33h1v1h-1zM85 35h1v1h-1z"/>
<path fill="#0000e7" d="M0 40h1v2h-1zM1 8h1v2h-1zM1 50h1v1h-1zM1 64h1v1h-1zM2 60h1v1h-1zM2 65h2v1h-2zM3 18h1v1h-1zM4 33h1v2h-1zM5 32h1v1h-1zM5 59h1v1h-1zM5 69h1v1h-1zM6 20h1v1h-1zM6 45h1v1h-1zM6 63h1v1h-1zM6 21h2v1h-2zM7 22h1v1h-1zM7 50h1v1h-1zM7 60h1v1h-1zM7 64h1v1h-1zM8 39h1v2h-1zM10 37h1v1h-1zM10 47h1v1h-1zM12 33h1v1h-1zM13 48h1v1h-1zM13 69h1v1h-1zM13 81h1v1h-1zM14 28h1v1h-1zM14 33h1v1h-1zM15 18h1v1h-1zM15 44h1v3h-1zM15 48h1v1h-1zM16 36h1v1h-1zM17 26h1v1h-1zM17 47h1v1h-1zM17 56h1v1h-1zM17 76h1v1h-1zM17 78h1v1h-1zM17 82h1v2h-1zM18 28h1v1h-1zM19 78h1v1h-1zM19 80h1v1h-1zM22 21h1v1h-1zM23 9h1v1h-1zM23 16h1v1h-1zM23 79h1v1h-1zM24 15h1v1h-1zM24 25h1v1h-1zM26 18h1v1h-1zM26 40h1v1h-1zM28 14h1v1h-1zM28 81h1v1h-1zM29 19h1v1h-1zM29 7h2v1h-2zM30 2h1v1h-1zM30 14h1v1h-1zM30 18h1v1h-1zM30 78h1v1h-1zM30 80h1v1h-1zM31 5h1v1h-1zM31 43h1v1h-1zM32 8h1v1h-1zM32 19h1v1h-1zM32 55h1v1h-1zM32 85h1v1h-1zM33 7h1v1h-1zM33 15h1v1h-1zM33 78h1v1h-1zM33 81h1v2h-1zM35 23h1v1h-1zM36 4h1v1h-1zM36 80h1v1h-1zM37 19h1v1h-1zM37 58h1v1h-1zM37 90h1v1h-1zM38 27h1v1h-1zM38 29h1v1h-1zM38 68h1v1h-1zM40 1h1v1h-1zM40 12h1v1h-1zM40 20h1v1h-1zM40 21h2v1h-2zM41 11h1v1h-1zM42 23h1v1h-1zM42 85h1v1h-1zM43 2h1v1h-1zM43 13h1v1h-1zM43 83h1v1h-1zM43 0h2v1h-2zM44 8h1v1h-1zM44 87h1v1h-1zM45 4h1v1h-1zM45 7h1v1h-1zM45 12h1v1h-1zM46 16h1v1h-1zM46 26h1v1h-1zM46 81h1v1h-1zM47 3h1v1h-1zM47 21h1v1h-1zM48 18h1v1h-1zM48 22h1v1h-1zM48 84h1v1h-1zM48 87h1v1h-1zM48 26h2v1h-2zM49 25h1v1h-1zM49 28h1v1h-1zM49 81h1v1h-1zM49 83h1v1h-1zM50 17h1v1h-1zM50 22h1v1h-1zM50 75h1v1h-1zM51 82h2v1h-2zM53 17h1v1h-1zM53 23h1v1h-1zM55 24h1v1h-1zM55 29h1v1h-1zM57 21h1v1h-1zM59 63h1v1h-1zM60 21h1v1h-1zM60 73h1v1h-1zM60 43h2v1h-2zM61 25h1v2h-1zM61 72h1v1h-1zM62 73h1v1h-1zM63 30h1v1h-1zM63 39h1v1h-1zM64 45h1v1h-1zM65 38h1v2h-1zM65 68h1v1h-1zM66 28h1v1h-1zM66 31h1v1h-1zM66 44h1v1h-1zM66 66h1v1h-1zM66 73h1v1h-1zM67 37h1v1h-1zM67 60h1v1h-1zM68 43h1v1h-1zM68 58h1v1h-1zM68 63h1v1h-1zM68 65h1v1h-1zM68 71h1v1h-1zM68 78h1v1h-1zM69 32h1v1h-1zM70 44h1v1h-1zM70 49h1v1h-1zM71 18h1v1h-1zM71 33h1v1h-1zM71 40h1v1h-1zM73 32h1v1h-1zM73 34h1v2h-1zM73 39h1v1h-1zM73 45h1v1h-1zM73 49h1v1h-1zM73 36h3v1h-3zM74 46h1v1h-1zM74 51h1v1h-1zM75 35h1v1h-1zM75 42h1v2h-1zM75 55h1v1h-1zM75 63h2v1h-2zM76 38h1v1h-1zM76 60h1v1h-1zM77 61h1v1h-1zM81 43h1v1h-1zM81 46h1v1h-1z"/>
<path fill="#0015e7" d="M0 11h1v1h-1zM0 35h1v1h-1zM1 21h1v1h-1zM1 49h1v1h-1zM2 57h1v1h-1zM2 59h1v1h-1zM3 19h1v1h-1zM4 60h1v1h-1zM4 63h1v1h-1zM5 46h1v1h-1zM5 61h1v1h-1zM5 66h2v1h-2zM6 35h1v1h-1zM6 42h1v1h-1zM7 38h1v1h-1zM7 43h1v1h-1zM8 29h1v1h-1zM8 37h1v1h-1zM8 61h1v1h-1zM8 65h1v1h-1zM9 28h1v1h-1zM9 31h1v1h-1zM9 47h1v1h-1zM10 16h1v1h-1zM10 21h1v1h-1zM10 33h1v1h-1zM11 20h1v1h-1zM11 55h1v1h-1zM12 49h1v2h-1zM13 30h1v1h-1zM14 37h1v1h-1zM14 70h1v1h-1zM15 71h2v1h-2zM16 32h1v1h-1zM16 34h1v1h-1zM17 19h1v1h-1zM17 23h1v1h-1zM17 52h1v1h-1zM17 74h1v1h-1zM18 22h1v1h-1zM18 37h1v1h-1zM18 77h1v1h-1zM18 82h1v1h-1zM20 75h1v1h-1zM21 14h1v1h-1zM21 18h1v1h-1zM21 21h1v1h-1zM21 29h1v1h-1zM21 80h1v1h-1zM22 31h1v1h-1zM23 21h1v1h-1zM24 12h1v1h-1zM24 26h1v1h-1zM25 80h1v1h-1zM26 10h1v1h-1zM26 19h1v1h-1zM28 8h1v1h-1zM28 15h1v1h-1zM28 83h1v1h-1zM29 81h2v1h-2zM30 4h1v1h-1zM31 78h1v1h-1zM31 90h2v1h-2zM32 77h1v1h-1zM33 8h1v1h-1zM33 18h1v1h-1zM34 15h1v1h-1zM34 24h1v1h-1zM35 21h1v1h-1zM36 13h1v1h-1zM36 89h1v1h-1zM37 22h1v1h-1zM37 25h1v1h-1zM38 20h1v1h-1zM38 88h1v1h-1zM39 4h1v1h-1zM39 66h1v1h-1zM39 89h2v1h-2zM40 13h1v1h-1zM40 19h1v1h-1zM40 22h1v1h-1zM40 91h1v1h-1zM40 90h3v1h-3zM41 1h1v1h-1zM41 3h1v1h-1zM41 82h1v1h-1zM41 87h1v1h-1zM42 0h1v1h-1zM42 18h1v1h-1zM43 71h1v1h-1zM44 7h1v1h-1zM44 13h1v1h-1zM44 21h1v1h-1zM44 90h1v1h-1zM45 6h1v1h-1zM46 1h1v1h-1zM46 40h1v1h-1zM47 25h1v1h-1zM48 17h1v1h-1zM48 20h1v1h-1zM48 23h1v1h-1zM48 57h1v1h-1zM48 91h1v1h-1zM49 22h1v1h-1zM49 86h1v1h-1zM50 18h1v2h-1zM50 82h1v1h-1zM52 22h1v1h-1zM54 81h1v1h-1zM57 25h1v1h-1zM58 76h2v1h-2zM59 31h1v1h-1zM59 39h1v1h-1zM60 71h1v1h-1zM60 75h1v1h-1zM62 45h1v1h-1zM63 28h1v1h-1zM64 29h1v1h-1zM64 40h1v1h-1zM64 66h1v1h-1zM66 60h1v1h-1zM66 62h1v1h-1zM66 29h2v1h-2zM66 70h2v1h-2zM66 35h3v1h-3zM67 30h1v1h-1zM67 41h1v1h-1zM67 44h1v1h-1zM68 32h1v1h-1zM68 38h1v2h-1zM68 46h1v1h-1zM69 31h1v1h-1zM69 72h1v1h-1zM70 33h1v1h-1zM70 52h1v1h-1zM71 38h1v1h-1zM71 64h1v1h-1zM72 31h1v1h-1zM72 41h1v1h-1zM72 52h1v1h-1zM73 40h1v1h-1zM73 65h1v1h-1zM74 41h1v1h-1zM77 59h1v1h-1zM79 57h1v1h-1zM80 45h1v1h-1z"/>
<path fill="#0015fc" d="M0 20h1v1h-1zM0 36h1v1h-1zM0 44h1v1h-1zM0 50h1v1h-1zM0 64h1v1h-1zM0 10h2v1h-2zM0 19h2v1h-2zM0 45h2v1h-2zM0 56h2v1h-2zM0 68h2v1h-2zM1 18h1v1h-1zM1 65h1v3h-1zM2 20h1v1h-1zM2 35h1v1h-1zM2 42h1v1h-1zM2 61h1v1h-1zM2 53h2v1h-2zM3 39h1v1h-1zM3 45h1v1h-1zM3 54h1v1h-1zM3 60h1v1h-1zM3 68h1v1h-1zM3 21h2v1h-2zM3 37h2v1h-2zM3 47h2v1h-2zM3 59h2v1h-2zM4 19h1v1h-1zM4 22h1v1h-1zM4 36h1v1h-1zM4 40h1v1h-1zM4 44h1v1h-1zM4 50h1v1h-1zM4 57h1v1h-1zM4 67h1v1h-1zM4 52h2v1h-2zM4 64h2v1h-2zM5 18h1v1h-1zM5 20h1v1h-1zM5 33h1v3h-1zM5 41h1v2h-1zM5 53h1v1h-1zM5 58h1v1h-1zM5 62h1v1h-1zM6 17h1v1h-1zM6 32h1v1h-1zM6 36h1v1h-1zM6 48h1v1h-1zM6 49h2v1h-2zM7 39h1v1h-1zM7 53h1v1h-1zM7 57h1v1h-1zM7 63h1v1h-1zM7 66h1v3h-1zM7 18h2v1h-2zM7 33h2v1h-2zM7 59h3v1h-3zM8 36h1v1h-1zM8 45h1v2h-1zM8 21h2v1h-2zM9 26h1v2h-1zM9 29h1v1h-1zM9 55h1v1h-1zM9 25h2v1h-2zM9 30h2v1h-2zM10 18h1v1h-1zM10 32h1v1h-1zM10 50h1v2h-1zM10 54h1v1h-1zM11 27h1v1h-1zM11 31h1v1h-1zM11 35h1v2h-1zM11 47h1v1h-1zM11 49h1v1h-1zM11 53h2v1h-2zM11 28h3v1h-3zM12 24h1v1h-1zM12 26h1v1h-1zM12 56h1v1h-1zM12 70h1v1h-1zM12 20h2v1h-2zM12 54h3v1h-3zM13 17h1v1h-1zM13 29h1v1h-1zM13 49h1v1h-1zM13 57h1v1h-1zM13 71h1v1h-1zM13 79h1v1h-1zM13 91h1v1h-1zM14 48h1v1h-1zM14 56h1v1h-1zM14 69h1v1h-1zM14 72h1v1h-1zM14 80h1v1h-1zM14 89h1v1h-1zM14 27h2v1h-2zM14 34h2v1h-2zM14 50h3v1h-3zM15 32h1v1h-1zM15 47h1v1h-1zM15 52h1v1h-1zM15 66h1v1h-1zM15 75h1v1h-1zM15 73h2v1h-2zM16 19h1v1h-1zM16 28h1v1h-1zM16 30h1v1h-1zM16 38h1v1h-1zM16 42h1v1h-1zM16 49h1v1h-1zM16 54h1v1h-1zM16 69h1v1h-1zM16 79h1v1h-1zM16 82h1v1h-1zM16 87h1v1h-1zM16 90h1v1h-1zM16 21h2v1h-2zM16 33h2v1h-2zM16 37h2v1h-2zM16 40h2v1h-2zM16 85h3v1h-3zM17 20h1v1h-1zM17 36h1v1h-1zM17 43h1v1h-1zM17 48h1v1h-1zM17 51h1v1h-1zM17 72h1v1h-1zM17 86h1v1h-1zM18 29h1v1h-1zM18 66h1v1h-1zM18 75h1v1h-1zM18 78h1v2h-1zM18 30h2v1h-2zM18 76h2v1h-2zM18 46h3v1h-3zM18 49h3v1h-3zM19 32h1v1h-1zM19 35h1v1h-1zM19 39h1v1h-1zM19 41h1v1h-1zM19 48h1v1h-1zM19 69h1v1h-1zM19 72h1v2h-1zM19 19h2v1h-2zM20 29h1v1h-1zM20 33h1v1h-1zM20 37h1v1h-1zM20 56h1v1h-1zM20 78h1v1h-1zM20 82h1v1h-1zM20 85h1v1h-1zM21 15h1v1h-1zM21 20h1v1h-1zM21 30h1v1h-1zM21 35h1v1h-1zM21 54h1v1h-1zM21 67h1v1h-1zM21 79h1v1h-1zM21 83h1v1h-1zM22 12h1v1h-1zM22 29h1v1h-1zM22 74h1v1h-1zM22 78h1v1h-1zM22 81h1v1h-1zM22 13h2v1h-2zM23 11h1v1h-1zM23 28h1v1h-1zM23 30h1v1h-1zM23 32h1v1h-1zM23 67h1v1h-1zM23 75h1v1h-1zM23 80h1v1h-1zM23 14h2v1h-2zM23 66h2v1h-2zM24 22h1v1h-1zM24 27h1v1h-1zM24 31h1v1h-1zM24 79h1v1h-1zM24 19h2v1h-2zM24 81h2v1h-2zM24 16h3v1h-3zM25 17h1v2h-1zM25 20h1v2h-1zM25 23h1v1h-1zM25 28h1v1h-1zM25 71h1v1h-1zM25 33h2v1h-2zM26 8h1v2h-1zM26 13h1v1h-1zM26 27h1v1h-1zM26 30h1v1h-1zM26 34h1v1h-1zM26 39h1v1h-1zM26 41h1v1h-1zM26 73h1v1h-1zM26 79h1v1h-1zM26 37h3v1h-3zM27 7h1v1h-1zM27 12h1v1h-1zM27 24h1v1h-1zM27 70h1v1h-1zM27 72h1v1h-1zM27 71h2v1h-2zM28 13h1v1h-1zM28 16h1v1h-1zM28 26h1v2h-1zM28 74h1v1h-1zM28 79h1v1h-1zM28 82h1v1h-1zM28 9h2v1h-2zM28 18h2v1h-2zM28 20h2v2h-2zM28 80h2v1h-2zM29 8h1v1h-1zM29 14h1v1h-1zM29 70h1v1h-1zM29 76h1v1h-1zM30 66h1v2h-1zM30 74h1v1h-1zM30 16h2v1h-2zM30 19h2v1h-2zM31 7h1v1h-1zM31 15h1v1h-1zM31 70h1v1h-1zM31 85h1v1h-1zM31 87h1v1h-1zM31 79h2v1h-2zM31 17h3v1h-3zM32 6h1v1h-1zM32 18h1v1h-1zM32 21h1v1h-1zM32 26h1v1h-1zM32 68h1v1h-1zM32 75h1v2h-1zM32 81h1v1h-1zM32 84h1v1h-1zM32 89h1v1h-1zM32 80h2v1h-2zM32 83h2v1h-2zM33 16h1v1h-1zM33 20h1v1h-1zM33 22h1v2h-1zM33 42h1v1h-1zM33 51h1v1h-1zM33 71h1v1h-1zM33 9h2v1h-2zM33 69h3v1h-3zM34 10h1v1h-1zM34 21h1v1h-1zM34 31h1v1h-1zM34 67h1v2h-1zM34 81h1v2h-1zM34 85h1v1h-1zM34 90h1v1h-1zM34 25h2v1h-2zM35 11h1v2h-1zM35 71h1v1h-1zM35 77h1v2h-1zM35 80h1v1h-1zM35 84h1v1h-1zM35 89h1v1h-1zM36 10h1v1h-1zM36 70h1v1h-1zM36 90h1v2h-1zM36 72h2v1h-2zM37 23h1v2h-1zM37 74h1v1h-1zM37 83h1v1h-1zM37 85h1v2h-1zM37 89h1v1h-1zM37 21h3v1h-3zM38 13h1v1h-1zM38 58h1v1h-1zM38 71h1v1h-1zM38 73h1v1h-1zM38 75h1v1h-1zM38 77h1v1h-1zM38 79h1v1h-1zM38 25h2v1h-2zM39 8h1v1h-1zM39 15h1v1h-1zM39 18h1v1h-1zM39 22h1v2h-1zM39 27h1v1h-1zM39 29h1v1h-1zM39 54h1v2h-1zM39 72h1v1h-1zM39 78h1v1h-1zM39 80h1v1h-1zM39 84h1v2h-1zM39 24h2v1h-2zM40 9h1v1h-1zM40 16h1v1h-1zM40 42h1v1h-1zM40 44h1v1h-1zM40 77h1v1h-1zM40 81h1v1h-1zM40 86h1v1h-1zM40 17h2v1h-2zM40 83h2v1h-2zM41 5h1v1h-1zM41 13h1v1h-1zM41 19h1v1h-1zM41 74h1v1h-1zM41 79h1v1h-1zM41 84h1v1h-1zM41 88h1v1h-1zM41 22h2v1h-2zM41 6h3v1h-3zM42 3h1v1h-1zM42 12h1v1h-1zM42 71h1v1h-1zM42 78h1v1h-1zM42 82h1v1h-1zM42 4h2v1h-2zM42 7h2v1h-2zM42 21h2v1h-2zM42 75h2v1h-2zM43 5h1v1h-1zM43 11h1v1h-1zM43 73h1v1h-1zM43 76h1v1h-1zM43 80h1v1h-1zM43 84h1v1h-1zM43 17h2v1h-2zM43 63h2v1h-2zM43 77h2v1h-2zM43 19h3v1h-3zM43 81h3v1h-3zM44 1h1v2h-1zM44 20h1v1h-1zM44 46h1v1h-1zM44 79h1v1h-1zM44 9h2v1h-2zM44 78h3v1h-3zM45 16h1v1h-1zM45 87h1v2h-1zM45 89h2v1h-2zM46 4h1v2h-1zM46 8h1v1h-1zM46 27h1v1h-1zM46 79h1v1h-1zM46 82h1v1h-1zM46 84h1v2h-1zM47 7h1v1h-1zM47 18h1v1h-1zM47 20h1v1h-1zM47 49h1v1h-1zM47 56h1v1h-1zM47 81h1v1h-1zM47 24h3v1h-3zM48 21h1v1h-1zM48 25h1v1h-1zM48 80h2v1h-2zM49 17h1v1h-1zM49 19h1v1h-1zM49 77h1v3h-1zM49 82h1v1h-1zM50 23h1v1h-1zM50 29h1v1h-1zM50 81h1v1h-1zM51 20h1v1h-1zM51 30h1v1h-1zM51 48h1v1h-1zM52 49h1v1h-1zM52 74h1v1h-1zM53 18h1v1h-1zM53 20h1v1h-1zM53 50h1v1h-1zM53 22h3v1h-3zM54 55h1v1h-1zM54 76h1v1h-1zM54 23h2v1h-2zM55 19h1v1h-1zM55 21h1v1h-1zM55 30h2v1h-2zM56 24h1v1h-1zM56 79h1v1h-1zM56 29h3v1h-3zM57 32h1v1h-1zM57 64h1v1h-1zM57 73h1v1h-1zM57 76h1v2h-1zM57 20h2v1h-2zM57 23h3v1h-3zM58 21h1v1h-1zM58 26h1v1h-1zM58 30h1v1h-1zM58 40h1v1h-1zM58 74h1v1h-1zM58 78h1v1h-1zM58 24h3v1h-3zM59 22h1v1h-1zM59 43h1v1h-1zM59 73h1v1h-1zM59 79h1v1h-1zM59 32h4v1h-4zM60 27h1v1h-1zM60 31h1v1h-1zM60 44h1v1h-1zM60 72h1v1h-1zM60 77h1v1h-1zM60 29h2v1h-2zM60 38h2v1h-2zM61 45h1v1h-1zM61 75h1v1h-1zM62 27h1v1h-1zM62 30h1v1h-1zM62 70h1v1h-1zM62 72h1v1h-1zM62 71h4v1h-4zM63 33h1v2h-1zM63 38h1v1h-1zM63 63h1v1h-1zM63 46h2v1h-2zM63 73h2v1h-2zM64 39h1v1h-1zM64 59h1v1h-1zM64 62h1v1h-1zM64 65h2v1h-2zM64 70h2v1h-2zM65 31h1v2h-1zM65 34h1v1h-1zM65 40h1v2h-1zM65 61h1v1h-1zM65 72h1v1h-1zM66 38h1v1h-1zM66 42h1v1h-1zM66 64h1v1h-1zM66 58h2v1h-2zM67 32h1v3h-1zM67 40h1v1h-1zM67 43h1v1h-1zM67 46h1v1h-1zM67 56h1v1h-1zM67 62h1v1h-1zM67 65h1v3h-1zM67 69h1v1h-1zM67 72h1v1h-1zM68 28h1v1h-1zM68 42h1v1h-1zM68 44h1v1h-1zM68 75h1v1h-1zM68 30h2v1h-2zM68 50h2v1h-2zM69 35h1v1h-1zM69 37h1v1h-1zM69 43h1v1h-1zM69 45h1v2h-1zM69 62h1v1h-1zM69 40h2v1h-2zM69 66h2v1h-2zM69 36h3v1h-3zM70 29h1v1h-1zM70 34h1v1h-1zM70 38h1v1h-1zM70 64h1v2h-1zM70 39h2v1h-2zM71 31h1v1h-1zM71 35h1v1h-1zM71 37h1v1h-1zM71 42h1v1h-1zM71 61h1v1h-1zM71 47h2v1h-2zM71 59h2v1h-2zM71 51h3v1h-3zM72 33h1v1h-1zM72 40h1v1h-1zM72 50h1v1h-1zM72 63h1v2h-1zM73 31h1v1h-1zM73 37h1v1h-1zM74 33h1v1h-1zM74 43h1v1h-1zM74 45h1v1h-1zM74 62h1v1h-1zM74 53h2v1h-2zM74 57h4v1h-4zM75 39h1v1h-1zM75 49h1v1h-1zM75 54h1v1h-1zM75 58h1v1h-1zM76 41h1v1h-1zM76 56h1v1h-1zM76 59h1v1h-1zM76 52h2v1h-2zM77 51h1v1h-1zM78 53h1v1h-1zM79 56h1v1h-1zM80 55h1v1h-1zM84 56h1v1h-1z"/>
<path fill="#002afc" d="M0 21h1v1h-1zM0 53h1v1h-1zM0 62h1v1h-1zM0 22h3v1h-3zM1 35h1v1h-1zM1 52h1v1h-1zM1 36h3v1h-3zM2 19h1v1h-1zM2 37h1v1h-1zM2 68h1v1h-1zM2 34h2v1h-2zM2 51h2v1h-2zM3 38h1v1h-1zM3 52h1v1h-1zM3 58h2v1h-2zM3 56h3v1h-3zM4 39h1v1h-1zM4 42h1v1h-1zM4 53h1v1h-1zM4 54h4v1h-4zM5 38h1v1h-1zM5 50h1v2h-1zM5 63h1v1h-1zM5 65h2v1h-2zM6 18h1v1h-1zM6 33h1v1h-1zM6 39h1v1h-1zM6 46h1v1h-1zM6 53h1v1h-1zM6 57h1v1h-1zM6 59h1v1h-1zM6 19h2v1h-2zM6 34h2v1h-2zM6 40h2v1h-2zM6 44h2v1h-2zM6 62h2v1h-2zM6 58h3v1h-3zM7 20h1v1h-1zM7 37h1v1h-1zM7 42h1v1h-1zM7 55h1v2h-1zM7 31h2v1h-2zM7 51h3v1h-3zM8 30h1v1h-1zM8 57h1v1h-1zM8 63h1v1h-1zM8 35h2v1h-2zM8 53h2v1h-2zM8 64h2v1h-2zM8 48h3v1h-3zM9 33h1v1h-1zM9 36h1v2h-1zM9 50h1v1h-1zM9 62h1v1h-1zM9 34h2v1h-2zM10 17h1v1h-1zM10 22h1v2h-1zM10 27h1v1h-1zM10 55h1v2h-1zM10 58h1v1h-1zM10 60h1v1h-1zM10 19h2v1h-2zM11 25h1v1h-1zM11 32h1v2h-1zM11 62h1v1h-1zM11 29h2v2h-2zM11 51h3v1h-3zM12 21h1v2h-1zM12 27h1v1h-1zM12 48h1v1h-1zM12 52h1v1h-1zM12 31h2v1h-2zM13 25h1v2h-1zM13 56h1v1h-1zM13 24h2v1h-2zM13 35h3v1h-3zM14 22h1v1h-1zM14 71h1v1h-1zM14 20h2v1h-2zM14 88h2v1h-2zM15 28h1v1h-1zM15 31h1v1h-1zM15 49h1v1h-1zM15 51h1v1h-1zM15 55h1v1h-1zM15 61h1v1h-1zM15 65h1v1h-1zM15 67h1v1h-1zM15 72h1v1h-1zM15 87h1v1h-1zM15 89h1v1h-1zM15 25h2v1h-2zM15 64h2v1h-2zM16 43h1v1h-1zM16 48h1v1h-1zM16 52h1v2h-1zM16 62h1v1h-1zM16 76h1v1h-1zM16 78h1v1h-1zM16 27h2v1h-2zM16 41h2v1h-2zM16 70h2v1h-2zM16 75h2v1h-2zM16 39h3v1h-3zM17 22h1v1h-1zM17 29h1v1h-1zM17 31h1v1h-1zM17 34h1v1h-1zM17 46h1v1h-1zM17 49h1v1h-1zM17 63h1v1h-1zM17 71h1v1h-1zM17 77h1v1h-1zM17 32h2v1h-2zM17 35h2v1h-2zM17 69h2v1h-2zM17 50h4v1h-4zM17 38h5v1h-5zM17 44h8v1h-8zM18 48h1v1h-1zM18 51h1v1h-1zM18 61h1v1h-1zM18 65h1v1h-1zM18 73h1v2h-1zM18 42h2v1h-2zM18 62h2v1h-2zM18 40h3v1h-3zM19 29h1v1h-1zM19 34h1v1h-1zM19 57h1v1h-1zM19 63h1v1h-1zM19 66h1v2h-1zM19 83h1v1h-1zM19 20h2v1h-2zM19 47h2v1h-2zM20 30h1v1h-1zM20 35h1v1h-1zM20 51h1v1h-1zM20 65h1v1h-1zM20 72h1v1h-1zM20 74h1v1h-1zM20 45h2v1h-2zM20 48h2v1h-2zM20 69h3v1h-3zM20 77h3v1h-3zM21 31h1v3h-1zM21 41h1v1h-1zM21 46h1v1h-1zM21 55h1v1h-1zM21 68h1v1h-1zM21 73h1v1h-1zM21 78h1v1h-1zM21 66h2v1h-2zM21 75h2v1h-2zM21 49h3v1h-3zM21 76h3v1h-3zM22 14h1v1h-1zM22 19h1v1h-1zM22 30h1v1h-1zM22 35h1v3h-1zM22 42h1v1h-1zM22 79h1v2h-1zM22 82h1v1h-1zM22 47h2v1h-2zM22 70h3v1h-3zM23 15h1v1h-1zM23 17h1v1h-1zM23 31h1v1h-1zM23 39h1v1h-1zM23 48h1v1h-1zM23 68h1v1h-1zM23 73h1v1h-1zM23 81h1v1h-1zM23 18h2v1h-2zM23 20h2v1h-2zM23 65h3v1h-3zM24 21h1v1h-1zM24 23h1v1h-1zM24 28h1v1h-1zM24 43h1v1h-1zM24 45h1v1h-1zM24 62h1v1h-1zM24 71h1v1h-1zM24 75h1v1h-1zM24 80h1v1h-1zM24 24h2v1h-2zM24 35h2v1h-2zM24 32h5v1h-5zM25 12h1v1h-1zM25 31h1v1h-1zM25 37h1v2h-1zM25 40h1v1h-1zM25 59h1v1h-1zM25 61h1v1h-1zM25 73h1v1h-1zM25 77h1v1h-1zM25 78h2v1h-2zM26 15h1v1h-1zM26 17h1v1h-1zM26 60h1v1h-1zM26 63h1v1h-1zM26 71h1v2h-1zM26 14h2v1h-2zM26 20h2v1h-2zM26 26h2v1h-2zM26 76h2v1h-2zM26 80h2v1h-2zM26 36h3v1h-3zM26 23h6v1h-6zM27 8h1v1h-1zM27 13h1v1h-1zM27 21h1v2h-1zM27 27h1v3h-1zM27 74h1v1h-1zM27 79h1v1h-1zM27 81h1v1h-1zM27 31h2v1h-2zM27 34h2v2h-2zM27 77h2v1h-2zM28 25h1v1h-1zM28 24h2v1h-2zM28 78h2v1h-2zM29 16h1v1h-1zM29 72h1v2h-1zM29 15h2v1h-2zM29 17h2v1h-2zM29 27h3v1h-3zM30 22h1v1h-1zM30 28h1v1h-1zM30 76h1v1h-1zM30 79h1v1h-1zM30 82h1v1h-1zM30 21h2v1h-2zM30 30h2v1h-2zM30 36h2v1h-2zM30 68h2v1h-2zM30 75h2v1h-2zM30 83h2v1h-2zM30 25h4v1h-4zM31 18h1v1h-1zM31 26h1v1h-1zM31 29h1v1h-1zM31 73h1v1h-1zM31 77h1v1h-1zM31 80h1v2h-1zM31 86h1v1h-1zM31 69h2v1h-2zM32 20h1v1h-1zM32 22h1v1h-1zM32 43h1v1h-1zM32 65h1v1h-1zM32 70h1v1h-1zM32 87h1v1h-1zM32 24h2v1h-2zM33 21h1v1h-1zM33 67h1v2h-1zM33 90h1v1h-1zM33 72h2v1h-2zM33 77h2v1h-2zM33 89h2v1h-2zM33 88h3v1h-3zM34 70h2v1h-2zM34 74h2v1h-2zM34 76h2v1h-2zM34 83h2v1h-2zM35 10h1v1h-1zM35 31h1v1h-1zM35 68h1v1h-1zM35 85h1v1h-1zM35 90h1v1h-1zM35 82h2v1h-2zM35 79h3v1h-3zM36 24h1v1h-1zM36 58h1v1h-1zM36 67h1v1h-1zM36 73h1v1h-1zM36 77h1v2h-1zM36 81h1v1h-1zM36 84h1v1h-1zM36 87h1v1h-1zM36 69h2v1h-2zM37 71h1v1h-1zM37 75h1v1h-1zM37 31h2v2h-2zM37 80h2v1h-2zM38 22h1v2h-1zM38 67h1v1h-1zM38 72h1v1h-1zM38 78h1v1h-1zM38 82h1v1h-1zM38 84h1v1h-1zM38 70h2v1h-2zM38 83h2v1h-2zM38 86h2v1h-2zM38 74h3v1h-3zM39 26h1v1h-1zM39 30h1v1h-1zM39 43h1v1h-1zM39 57h1v1h-1zM39 79h1v1h-1zM39 6h2v1h-2zM40 28h1v1h-1zM40 82h1v1h-1zM40 23h2v1h-2zM40 31h2v1h-2zM40 72h3v1h-3zM41 18h1v1h-1zM41 25h1v2h-1zM41 73h2v1h-2zM41 77h2v1h-2zM41 81h2v1h-2zM42 8h1v2h-1zM42 19h1v1h-1zM42 74h1v1h-1zM42 84h1v1h-1zM42 20h2v1h-2zM42 29h2v1h-2zM43 78h1v2h-1zM43 88h1v2h-1zM43 18h2v1h-2zM43 82h2v1h-2zM43 31h3v1h-3zM44 11h1v1h-1zM44 71h1v1h-1zM44 76h1v1h-1zM45 5h1v1h-1zM45 27h1v1h-1zM45 46h1v1h-1zM45 73h1v1h-1zM45 79h1v1h-1zM45 74h2v1h-2zM46 6h1v2h-1zM46 20h1v2h-1zM46 65h1v1h-1zM46 67h1v1h-1zM46 71h1v1h-1zM46 77h1v1h-1zM46 19h2v1h-2zM46 72h2v1h-2zM46 80h2v1h-2zM47 75h1v1h-1zM47 79h1v1h-1zM47 27h2v1h-2zM48 77h1v1h-1zM48 82h1v2h-1zM48 74h4v1h-4zM49 20h1v2h-1zM49 31h1v1h-1zM49 76h1v1h-1zM50 71h1v1h-1zM50 58h2v1h-2zM50 32h3v1h-3zM51 19h1v1h-1zM52 20h1v1h-1zM52 33h1v1h-1zM52 30h2v2h-2zM54 56h1v1h-1zM54 69h1v1h-1zM54 75h1v1h-1zM54 33h2v1h-2zM54 32h3v1h-3zM54 71h5v1h-5zM55 31h1v1h-1zM55 77h1v1h-1zM55 79h1v1h-1zM55 78h2v1h-2zM56 36h1v1h-1zM56 66h1v1h-1zM56 69h1v2h-1zM56 74h1v1h-1zM57 30h1v1h-1zM57 33h2v1h-2zM57 35h2v1h-2zM57 75h2v1h-2zM58 31h1v1h-1zM58 34h1v1h-1zM58 37h1v1h-1zM58 39h1v1h-1zM58 41h1v1h-1zM58 73h1v1h-1zM58 28h2v1h-2zM58 72h2v1h-2zM59 38h1v1h-1zM59 30h3v1h-3zM60 26h1v1h-1zM60 34h1v1h-1zM60 37h1v1h-1zM60 60h1v1h-1zM60 62h1v1h-1zM60 59h4v1h-4zM61 28h1v1h-1zM61 33h1v1h-1zM61 35h1v1h-1zM62 29h1v1h-1zM62 46h1v1h-1zM62 31h2v1h-2zM63 32h1v1h-1zM63 47h1v1h-1zM63 49h1v1h-1zM63 60h1v1h-1zM64 37h1v2h-1zM64 61h1v1h-1zM64 63h1v2h-1zM64 72h1v1h-1zM64 51h4v1h-4zM65 33h1v1h-1zM65 35h1v1h-1zM65 49h1v1h-1zM65 53h1v1h-1zM65 60h1v1h-1zM65 62h1v1h-1zM65 66h1v1h-1zM65 69h1v1h-1zM65 30h2v1h-2zM65 46h2v1h-2zM65 59h2v1h-2zM65 57h3v1h-3zM66 32h1v1h-1zM66 48h1v1h-1zM66 50h1v1h-1zM66 52h1v1h-1zM66 68h2v1h-2zM66 54h3v1h-3zM67 38h1v2h-1zM67 55h1v1h-1zM67 61h1v1h-1zM67 63h1v1h-1zM68 31h1v1h-1zM68 33h1v1h-1zM68 40h1v2h-1zM68 48h1v1h-1zM68 69h1v1h-1zM68 52h2v1h-2zM69 39h1v1h-1zM69 49h1v1h-1zM69 53h1v1h-1zM69 67h1v2h-1zM70 30h1v1h-1zM70 32h1v1h-1zM70 45h1v1h-1zM70 47h1v2h-1zM70 51h1v1h-1zM71 41h1v1h-1zM71 43h1v2h-1zM71 50h1v1h-1zM71 53h1v1h-1zM72 45h1v1h-1zM72 42h2v1h-2zM73 33h1v1h-1zM73 43h1v2h-1zM74 55h1v1h-1z"/>
<path fill="#003ffc" d="M1 59h1v1h-1zM1 61h1v1h-1zM3 20h1v1h-1zM3 57h1v1h-1zM4 55h1v1h-1zM5 57h1v1h-1zM6 38h1v1h-1zM6 43h1v1h-1zM6 52h1v1h-1zM8 34h1v1h-1zM8 50h1v1h-1zM8 62h1v1h-1zM8 32h2v1h-2zM8 20h3v1h-3zM8 52h3v1h-3zM9 23h1v1h-1zM9 58h1v1h-1zM9 61h1v1h-1zM9 49h2v1h-2zM10 28h1v1h-1zM10 31h1v1h-1zM10 36h1v1h-1zM10 59h1v1h-1zM10 26h2v1h-2zM10 57h3v1h-3zM11 50h1v1h-1zM11 61h1v1h-1zM11 34h2v1h-2zM11 63h2v1h-2zM12 59h1v1h-1zM12 60h2v1h-2zM12 32h3v1h-3zM12 55h3v1h-3zM13 22h1v1h-1zM13 27h1v1h-1zM13 52h2v1h-2zM13 53h3v1h-3zM14 21h1v1h-1zM14 25h1v1h-1zM14 29h1v1h-1zM14 64h1v1h-1zM15 30h1v1h-1zM15 57h1v1h-1zM15 62h1v2h-1zM15 68h1v3h-1zM16 22h1v1h-1zM16 24h1v1h-1zM16 51h1v1h-1zM16 55h1v1h-1zM16 66h2v2h-2zM17 42h1v1h-1zM17 57h2v1h-2zM17 59h2v1h-2zM18 34h1v1h-1zM18 41h1v1h-1zM18 43h1v1h-1zM18 60h1v1h-1zM18 63h1v2h-1zM18 71h1v2h-1zM18 33h2v1h-2zM18 45h2v1h-2zM18 36h3v1h-3zM19 31h1v1h-1zM19 37h1v1h-1zM19 74h1v2h-1zM20 32h1v1h-1zM20 41h1v1h-1zM20 60h1v2h-1zM20 63h1v1h-1zM20 66h1v2h-1zM20 76h1v1h-1zM20 34h2v1h-2zM20 39h2v1h-2zM20 42h2v1h-2zM20 43h3v1h-3zM21 37h1v1h-1zM21 53h1v1h-1zM21 57h1v1h-1zM21 64h1v1h-1zM21 72h1v1h-1zM21 65h2v1h-2zM21 40h3v1h-3zM22 16h1v1h-1zM22 20h1v1h-1zM22 33h1v1h-1zM22 46h1v1h-1zM22 48h1v1h-1zM22 50h1v1h-1zM22 52h1v1h-1zM22 56h1v1h-1zM22 59h1v1h-1zM22 68h1v1h-1zM22 73h1v1h-1zM22 38h2v1h-2zM23 19h1v1h-1zM23 62h1v1h-1zM23 69h1v1h-1zM23 71h1v1h-1zM23 37h2v1h-2zM23 36h3v1h-3zM23 58h3v1h-3zM24 17h1v1h-1zM24 33h1v1h-1zM24 39h1v1h-1zM24 49h1v1h-1zM24 57h1v1h-1zM24 60h1v1h-1zM24 76h1v3h-1zM24 34h2v1h-2zM24 46h2v2h-2zM24 42h3v1h-3zM24 64h6v1h-6zM25 27h1v1h-1zM25 56h1v1h-1zM25 63h1v1h-1zM25 72h1v1h-1zM25 22h2v1h-2zM25 25h3v1h-3zM25 62h4v1h-4zM26 21h1v1h-1zM26 29h1v1h-1zM26 31h1v1h-1zM26 35h1v1h-1zM26 43h1v1h-1zM26 59h2v1h-2zM26 61h3v1h-3zM27 73h1v1h-1zM27 75h1v1h-1zM27 30h2v1h-2zM27 33h2v1h-2zM28 43h1v1h-1zM28 22h2v1h-2zM28 29h3v1h-3zM28 63h3v1h-3zM29 25h1v1h-1zM29 28h1v1h-1zM29 75h1v1h-1zM29 26h2v1h-2zM29 31h2v1h-2zM29 77h2v1h-2zM29 35h3v1h-3zM30 33h1v1h-1zM30 65h1v1h-1zM30 69h1v2h-1zM30 20h2v1h-2zM30 24h2v1h-2zM31 22h1v1h-1zM31 28h1v1h-1zM31 82h1v1h-1zM31 32h2v1h-2zM31 64h2v1h-2zM31 67h2v1h-2zM31 74h2v1h-2zM31 66h4v1h-4zM32 23h1v1h-1zM32 30h1v1h-1zM32 71h1v2h-1zM32 78h1v1h-1zM32 73h4v1h-4zM33 37h1v1h-1zM33 70h1v1h-1zM33 79h1v1h-1zM33 84h1v2h-1zM34 71h1v1h-1zM34 75h1v1h-1zM34 78h1v1h-1zM34 86h2v1h-2zM34 32h3v1h-3zM35 67h1v1h-1zM35 72h1v1h-1zM36 68h1v1h-1zM36 71h1v1h-1zM36 75h1v2h-1zM36 88h2v1h-2zM36 66h3v1h-3zM37 67h1v1h-1zM37 70h1v1h-1zM37 73h1v1h-1zM37 78h1v1h-1zM37 82h1v1h-1zM37 87h1v1h-1zM38 26h1v1h-1zM38 85h1v1h-1zM39 28h1v1h-1zM39 77h1v1h-1zM39 82h1v1h-1zM39 73h2v1h-2zM39 71h3v1h-3zM39 75h3v1h-3zM39 32h4v1h-4zM40 25h1v1h-1zM40 78h1v2h-1zM40 30h3v1h-3zM40 80h3v1h-3zM41 24h1v1h-1zM41 29h1v1h-1zM41 45h1v1h-1zM41 76h1v1h-1zM41 27h2v1h-2zM41 28h3v1h-3zM42 39h1v1h-1zM42 63h1v1h-1zM42 79h1v1h-1zM43 46h1v1h-1zM44 29h1v2h-1zM44 80h1v1h-1zM44 32h6v1h-6zM45 28h1v1h-1zM45 53h1v1h-1zM45 72h1v1h-1zM45 77h1v1h-1zM45 76h2v1h-2zM46 30h1v2h-1zM46 51h1v1h-1zM46 55h1v1h-1zM46 75h1v1h-1zM46 70h2v1h-2zM47 28h1v1h-1zM47 71h1v1h-1zM47 74h1v1h-1zM47 77h1v1h-1zM47 78h2v1h-2zM47 29h3v1h-3zM48 79h1v1h-1zM49 30h1v1h-1zM49 58h1v1h-1zM49 68h1v1h-1zM49 75h1v1h-1zM49 70h2v1h-2zM50 67h1v1h-1zM50 31h2v1h-2zM50 33h2v1h-2zM51 69h1v1h-1zM51 72h1v1h-1zM51 73h2v1h-2zM51 34h6v1h-6zM52 35h1v1h-1zM52 58h1v1h-1zM52 70h1v1h-1zM52 66h2v1h-2zM53 32h1v2h-1zM53 67h1v3h-1zM53 74h2v1h-2zM54 31h1v1h-1zM54 35h1v1h-1zM54 70h1v1h-1zM54 72h4v1h-4zM55 66h1v1h-1zM55 69h1v1h-1zM55 64h2v1h-2zM55 75h2v1h-2zM56 35h1v1h-1zM56 39h1v1h-1zM56 67h1v1h-1zM56 73h1v1h-1zM56 31h2v1h-2zM56 38h3v1h-3zM57 24h1v1h-1zM57 70h1v1h-1zM57 74h1v1h-1zM57 36h2v1h-2zM57 63h2v1h-2zM58 25h1v1h-1zM58 32h1v1h-1zM58 42h1v1h-1zM58 77h1v1h-1zM59 26h1v2h-1zM59 29h1v1h-1zM59 33h1v1h-1zM59 37h1v1h-1zM59 59h1v1h-1zM59 35h2v1h-2zM60 25h1v1h-1zM60 28h1v1h-1zM60 36h2v1h-2zM61 27h1v1h-1zM61 46h1v1h-1zM61 58h1v1h-1zM61 62h1v1h-1zM61 37h3v1h-3zM62 33h1v1h-1zM62 48h1v2h-1zM62 60h1v1h-1zM63 51h1v1h-1zM63 53h2v1h-2zM64 47h1v1h-1zM64 49h1v1h-1zM64 52h1v1h-1zM64 55h1v1h-1zM64 60h1v1h-1zM64 50h2v1h-2zM64 54h2v1h-2zM65 58h1v1h-1zM65 64h1v1h-1zM66 45h1v1h-1zM66 47h1v1h-1zM66 63h1v1h-1zM66 65h1v1h-1zM66 49h3v1h-3zM67 48h1v1h-1zM67 53h2v1h-2zM70 31h1v1h-1zM70 50h1v1h-1zM71 32h1v1h-1zM71 45h1v1h-1zM72 43h1v2h-1z"/>
<path fill="#0054fc" d="M5 55h1v1h-1zM8 60h1v1h-1zM8 54h2v1h-2zM8 56h2v1h-2zM9 57h1v1h-1zM10 53h1v1h-1zM11 21h1v2h-1zM11 52h1v1h-1zM11 54h1v1h-1zM11 56h1v1h-1zM11 58h1v1h-1zM12 25h1v1h-1zM12 62h1v1h-1zM12 61h2v1h-2zM13 63h1v1h-1zM13 58h3v1h-3zM14 30h1v1h-1zM14 57h1v1h-1zM14 62h1v1h-1zM15 21h1v1h-1zM15 24h1v1h-1zM15 54h1v1h-1zM15 26h2v1h-2zM15 56h2v1h-2zM16 29h1v1h-1zM16 57h1v1h-1zM16 63h1v1h-1zM16 65h1v1h-1zM16 68h1v1h-1zM16 60h2v2h-2zM17 62h1v1h-1zM18 31h1v1h-1zM18 67h1v2h-1zM18 70h3v1h-3zM19 43h1v1h-1zM19 61h1v1h-1zM19 65h1v1h-1zM19 64h2v1h-2zM19 58h4v1h-4zM19 71h4v1h-4zM20 68h1v1h-1zM20 73h1v1h-1zM21 36h1v1h-1zM21 50h1v1h-1zM21 52h1v1h-1zM21 61h1v2h-1zM22 39h1v1h-1zM22 67h1v1h-1zM22 41h2v1h-2zM22 64h2v1h-2zM23 34h1v1h-1zM23 42h1v2h-1zM23 50h1v2h-1zM23 57h1v1h-1zM23 60h1v1h-1zM23 72h1v1h-1zM23 59h2v1h-2zM23 61h2v1h-2zM24 40h1v1h-1zM24 63h1v1h-1zM24 74h1v1h-1zM24 48h3v1h-3zM25 26h1v1h-1zM25 45h1v1h-1zM25 50h1v1h-1zM25 53h1v1h-1zM25 60h1v1h-1zM25 76h1v1h-1zM25 79h1v1h-1zM25 57h3v1h-3zM26 24h1v1h-1zM26 46h1v1h-1zM26 77h1v1h-1zM26 58h2v1h-2zM27 63h1v1h-1zM27 78h1v1h-1zM27 60h2v1h-2zM28 59h1v1h-1zM28 75h1v1h-1zM29 32h1v2h-1zM29 61h1v1h-1zM29 74h1v1h-1zM29 79h1v1h-1zM30 62h1v1h-1zM30 64h1v1h-1zM30 71h1v3h-1zM30 34h2v1h-2zM31 65h1v1h-1zM31 31h2v1h-2zM31 33h2v1h-2zM32 35h1v1h-1zM32 63h1v1h-1zM33 32h1v1h-1zM33 34h1v1h-1zM33 64h2v2h-2zM34 40h1v2h-1zM34 57h1v1h-1zM34 63h1v1h-1zM35 87h1v1h-1zM36 33h1v1h-1zM37 77h1v1h-1zM37 84h1v1h-1zM38 81h1v1h-1zM39 53h1v1h-1zM39 65h1v1h-1zM39 76h2v1h-2zM39 33h5v1h-5zM40 27h1v1h-1zM40 29h1v1h-1zM40 84h1v1h-1zM41 78h1v1h-1zM42 31h1v1h-1zM42 34h1v1h-1zM42 76h1v1h-1zM43 30h1v1h-1zM43 32h1v1h-1zM43 38h1v1h-1zM45 30h1v1h-1zM45 63h1v1h-1zM45 75h1v1h-1zM45 29h2v1h-2zM45 33h3v1h-3zM46 28h1v1h-1zM46 34h1v1h-1zM46 64h1v1h-1zM46 68h1v2h-1zM46 73h1v1h-1zM47 42h1v1h-1zM47 67h1v1h-1zM47 30h2v2h-2zM48 28h1v1h-1zM48 34h1v1h-1zM48 66h1v1h-1zM48 71h1v1h-1zM48 73h1v1h-1zM48 75h1v2h-1zM48 69h3v1h-3zM49 33h1v1h-1zM49 35h1v1h-1zM50 34h1v1h-1zM50 36h1v1h-1zM50 68h1v1h-1zM50 73h1v1h-1zM51 35h1v1h-1zM51 67h1v1h-1zM51 71h3v1h-3zM52 65h1v1h-1zM52 72h2v1h-2zM53 35h1v2h-1zM53 70h1v1h-1zM53 64h2v1h-2zM54 51h1v1h-1zM54 57h1v1h-1zM54 68h1v1h-1zM54 73h1v1h-1zM54 38h2v1h-2zM54 67h2v1h-2zM55 35h1v1h-1zM55 76h1v1h-1zM55 63h2v1h-2zM55 37h3v1h-3zM56 33h1v1h-1zM56 65h1v1h-1zM56 68h1v1h-1zM56 77h1v1h-1zM56 40h2v1h-2zM57 39h1v1h-1zM57 41h1v1h-1zM58 62h2v1h-2zM59 25h1v1h-1zM59 36h1v1h-1zM59 44h1v1h-1zM59 60h1v1h-1zM60 45h1v1h-1zM60 58h1v1h-1zM60 61h4v1h-4zM61 48h1v1h-1zM61 60h1v1h-1zM61 56h2v1h-2zM62 36h1v1h-1zM62 47h1v1h-1zM62 55h1v1h-1zM62 57h1v1h-1zM62 50h2v1h-2zM62 58h3v1h-3zM63 62h1v1h-1zM63 48h3v1h-3zM64 57h1v1h-1zM65 47h1v1h-1zM65 63h1v1h-1zM65 55h2v1h-2zM66 53h1v1h-1zM66 56h1v1h-1zM67 31h1v1h-1zM67 50h1v1h-1zM68 51h2v1h-2z"/>
<path fill="#0069fc" d="M9 60h1v1h-1zM10 24h1v1h-1zM11 59h1v2h-1zM13 21h1v1h-1zM13 23h3v1h-3zM13 59h3v1h-3zM14 60h1v2h-1zM14 63h1v1h-1zM15 22h1v1h-1zM16 58h2v1h-2zM17 68h1v1h-1zM19 60h1v1h-1zM19 68h1v1h-1zM19 59h3v1h-3zM20 62h1v1h-1zM21 56h1v1h-1zM21 60h1v1h-1zM21 70h1v1h-1zM21 74h1v1h-1zM21 51h2v1h-2zM21 63h3v1h-3zM22 54h1v1h-1zM22 62h1v1h-1zM22 72h1v1h-1zM22 55h6v1h-6zM23 74h1v1h-1zM23 53h2v1h-2zM23 56h2v1h-2zM23 52h3v1h-3zM24 50h1v1h-1zM24 54h1v1h-1zM24 72h1v2h-1zM24 51h2v1h-2zM26 54h1v1h-1zM26 45h2v1h-2zM26 56h2v1h-2zM26 47h3v1h-3zM27 43h1v1h-1zM27 46h1v1h-1zM27 49h1v1h-1zM28 58h1v1h-1zM29 59h1v1h-1zM29 62h1v1h-1zM30 32h1v1h-1zM30 61h1v1h-1zM31 53h1v1h-1zM31 63h1v1h-1zM32 36h1v1h-1zM32 62h3v1h-3zM33 33h1v1h-1zM33 43h1v1h-1zM33 63h1v1h-1zM34 39h1v1h-1zM34 42h1v1h-1zM35 33h1v2h-1zM35 64h1v1h-1zM36 50h1v1h-1zM36 63h1v1h-1zM37 33h2v1h-2zM37 60h2v1h-2zM38 64h1v2h-1zM39 44h1v1h-1zM39 58h1v1h-1zM39 81h1v1h-1zM40 34h1v1h-1zM40 64h1v1h-1zM41 35h1v1h-1zM43 35h1v1h-1zM43 34h3v1h-3zM44 33h1v1h-1zM45 54h1v1h-1zM46 39h1v1h-1zM47 34h1v1h-1zM47 36h1v1h-1zM47 44h1v1h-1zM47 65h1v1h-1zM47 73h1v1h-1zM47 76h1v1h-1zM47 35h2v1h-2zM48 33h1v1h-1zM48 68h1v1h-1zM48 70h1v1h-1zM48 67h2v1h-2zM48 72h3v1h-3zM49 34h1v1h-1zM49 71h1v1h-1zM49 73h1v1h-1zM49 66h3v1h-3zM49 37h4v1h-4zM50 35h1v1h-1zM51 65h1v1h-1zM51 70h1v1h-1zM51 68h2v1h-2zM52 36h1v1h-1zM52 64h1v1h-1zM52 67h1v1h-1zM52 69h1v1h-1zM53 49h1v1h-1zM53 58h1v1h-1zM53 73h1v1h-1zM53 63h2v1h-2zM53 65h3v1h-3zM54 37h1v1h-1zM54 62h1v1h-1zM54 66h1v1h-1zM55 36h1v1h-1zM55 39h1v2h-1zM55 68h1v1h-1zM55 70h1v1h-1zM56 41h1v1h-1zM56 76h1v1h-1zM57 34h1v1h-1zM58 43h1v2h-1zM59 55h1v2h-1zM59 58h1v1h-1zM59 61h1v1h-1zM60 47h2v1h-2zM60 49h2v1h-2zM61 57h1v1h-1zM62 51h1v1h-1zM62 54h2v1h-2zM63 52h1v1h-1zM63 55h1v2h-1zM67 52h1v1h-1z"/>
<path fill="#007efc" d="M10 62h1v1h-1zM12 23h1v1h-1zM16 59h1v1h-1zM18 58h1v1h-1zM20 57h1v1h-1zM22 53h1v1h-1zM22 57h1v1h-1zM22 61h1v1h-1zM23 54h1v1h-1zM25 54h1v1h-1zM26 52h1v1h-1zM26 50h2v1h-2zM27 44h1v1h-1zM27 48h1v1h-1zM27 51h1v1h-1zM27 54h1v1h-1zM28 45h1v1h-1zM28 56h1v2h-1zM29 58h2v1h-2zM31 54h1v1h-1zM31 62h1v1h-1zM31 61h3v1h-3zM32 34h1v1h-1zM32 44h1v1h-1zM33 36h1v1h-1zM33 60h1v1h-1zM34 34h1v1h-1zM34 35h2v1h-2zM35 50h1v1h-1zM35 58h1v1h-1zM35 63h1v1h-1zM35 62h2v1h-2zM36 59h1v2h-1zM36 34h4v1h-4zM37 61h1v1h-1zM37 64h1v2h-1zM37 63h3v1h-3zM38 43h1v1h-1zM38 51h1v1h-1zM39 35h1v1h-1zM39 64h1v1h-1zM41 34h1v1h-1zM41 36h1v1h-1zM41 40h1v1h-1zM41 63h1v1h-1zM42 35h1v1h-1zM44 35h3v1h-3zM45 52h1v1h-1zM46 36h1v1h-1zM46 46h1v1h-1zM46 63h1v1h-1zM47 38h1v1h-1zM47 41h1v1h-1zM47 48h1v1h-1zM47 37h2v1h-2zM48 65h1v1h-1zM48 36h2v1h-2zM49 47h1v1h-1zM50 38h1v1h-1zM50 65h1v1h-1zM52 38h2v1h-2zM53 37h1v1h-1zM53 39h1v1h-1zM53 61h1v2h-1zM54 40h1v1h-1zM54 50h1v1h-1zM54 58h1v1h-1zM55 62h1v1h-1zM57 42h1v1h-1zM57 44h1v1h-1zM57 62h1v1h-1zM57 56h2v2h-2zM58 58h1v2h-1zM58 61h1v1h-1zM58 45h2v1h-2zM58 47h2v1h-2zM58 49h2v1h-2zM58 46h3v1h-3zM59 48h2v1h-2zM60 56h1v1h-1zM60 54h2v2h-2zM61 50h1v1h-1zM62 52h1v2h-1zM63 57h1v1h-1zM64 56h1v1h-1z"/>
<path fill="#0093fc" d="M26 51h1v1h-1zM26 53h3v1h-3zM27 52h1v1h-1zM28 46h1v1h-1zM28 50h1v1h-1zM28 54h1v2h-1zM28 48h2v2h-2zM28 44h4v1h-4zM29 45h1v1h-1zM29 47h1v1h-1zM29 51h1v1h-1zM29 57h1v1h-1zM30 59h1v1h-1zM31 60h2v1h-2zM32 59h4v1h-4zM33 35h1v1h-1zM34 38h1v1h-1zM34 43h1v1h-1zM34 58h1v1h-1zM34 60h2v1h-2zM34 61h3v1h-3zM36 35h3v1h-3zM37 50h1v1h-1zM37 62h2v1h-2zM38 44h1v1h-1zM38 61h1v1h-1zM39 42h1v1h-1zM40 35h1v2h-1zM40 41h1v1h-1zM40 55h1v2h-1zM40 62h1v2h-1zM42 38h1v1h-1zM42 46h1v1h-1zM42 36h4v1h-4zM44 37h1v1h-1zM45 62h2v1h-2zM46 37h1v2h-1zM47 40h1v1h-1zM47 57h1v1h-1zM47 61h1v1h-1zM47 64h1v1h-1zM47 39h2v1h-2zM48 58h1v1h-1zM48 38h2v1h-2zM49 65h1v1h-1zM50 39h1v1h-1zM51 38h1v1h-1zM51 59h1v1h-1zM51 64h1v1h-1zM52 48h1v1h-1zM52 61h1v1h-1zM53 60h2v1h-2zM53 42h4v1h-4zM54 59h1v1h-1zM54 61h1v1h-1zM54 41h2v1h-2zM55 53h1v1h-1zM55 55h1v1h-1zM55 57h1v2h-1zM55 56h2v1h-2zM56 62h1v1h-1zM56 50h2v1h-2zM57 43h1v1h-1zM57 45h1v2h-1zM57 49h1v1h-1zM57 58h1v1h-1zM57 53h2v1h-2zM57 55h2v1h-2zM58 48h1v1h-1zM58 60h1v1h-1zM59 54h1v1h-1zM59 50h2v1h-2z"/>
<path fill="#00a8fc" d="M28 51h1v1h-1zM28 52h2v1h-2zM29 46h1v1h-1zM29 50h2v1h-2zM29 53h2v2h-2zM29 56h4v1h-4zM30 45h1v1h-1zM30 49h1v1h-1zM30 51h1v1h-1zM30 55h1v1h-1zM30 47h2v1h-2zM30 57h2v1h-2zM31 46h1v1h-1zM31 52h1v1h-1zM31 58h2v1h-2zM32 51h1v1h-1zM33 57h1v1h-1zM33 44h2v1h-2zM34 37h1v1h-1zM34 50h1v1h-1zM34 36h2v1h-2zM39 36h1v1h-1zM39 52h1v1h-1zM39 59h1v1h-1zM39 62h1v1h-1zM39 61h2v1h-2zM40 45h1v1h-1zM41 62h1v1h-1zM41 37h3v1h-3zM43 62h2v1h-2zM46 50h1v1h-1zM46 56h1v1h-1zM46 61h1v1h-1zM47 45h1v1h-1zM47 62h1v1h-1zM48 40h1v1h-1zM48 47h1v1h-1zM49 39h1v1h-1zM49 41h2v1h-2zM50 47h1v1h-1zM50 59h1v2h-1zM50 40h3v1h-3zM51 42h2v1h-2zM52 39h1v1h-1zM52 60h1v1h-1zM52 62h1v2h-1zM52 41h2v1h-2zM52 59h2v1h-2zM54 49h2v1h-2zM55 50h1v2h-1zM55 59h1v1h-1zM55 61h1v1h-1zM55 43h2v2h-2zM55 46h2v1h-2zM55 52h3v1h-3zM55 54h4v1h-4zM56 45h1v1h-1zM56 53h1v1h-1zM56 55h1v1h-1zM56 58h1v1h-1zM56 47h2v2h-2zM57 61h1v1h-1zM57 51h2v1h-2zM61 51h1v1h-1z"/>
<path fill="#00bdfc" d="M30 46h1v1h-1zM30 52h1v1h-1zM30 48h2v1h-2zM31 51h1v1h-1zM31 55h1v1h-1zM31 49h2v1h-2zM31 45h3v1h-3zM31 50h3v1h-3zM32 46h1v1h-1zM32 57h1v1h-1zM33 58h1v1h-1zM35 42h1v1h-1zM36 36h3v1h-3zM39 60h1v1h-1zM40 37h1v1h-1zM40 54h1v1h-1zM40 57h1v1h-1zM40 38h2v1h-2zM44 47h2v1h-2zM44 61h2v1h-2zM46 59h4v2h-4zM47 58h1v1h-1zM47 63h1v1h-1zM48 41h1v1h-1zM48 43h1v1h-1zM48 64h1v1h-1zM48 61h2v1h-2zM49 42h1v1h-1zM50 43h5v2h-5zM51 41h1v1h-1zM51 47h1v1h-1zM51 60h1v2h-1zM51 63h1v1h-1zM53 46h2v1h-2zM53 45h3v1h-3zM53 48h3v1h-3zM54 47h2v1h-2zM55 60h1v1h-1zM56 51h1v1h-1zM56 61h1v1h-1zM56 59h2v1h-2zM58 52h1v1h-1zM59 51h1v1h-1zM59 53h1v1h-1zM61 52h1v2h-1z"/>
<path fill="#00d2fc" d="M32 48h3v1h-3zM33 46h1v1h-1zM33 47h2v1h-2zM34 49h1v1h-1zM34 45h2v1h-2zM35 37h1v1h-1zM35 46h1v1h-1zM35 43h3v2h-3zM36 47h1v1h-1zM36 49h2v1h-2zM37 48h1v1h-1zM38 42h1v1h-1zM38 50h1v1h-1zM38 45h2v1h-2zM39 37h1v1h-1zM39 51h1v1h-1zM40 58h1v3h-1zM40 53h2v1h-2zM41 39h1v1h-1zM41 46h1v1h-1zM41 61h1v1h-1zM42 54h1v1h-1zM43 47h1v1h-1zM43 61h1v1h-1zM44 53h1v2h-1zM45 55h1v1h-1zM45 59h1v2h-1zM45 49h2v1h-2zM45 57h2v1h-2zM46 58h1v1h-1zM46 47h2v1h-2zM47 46h2v1h-2zM48 42h1v1h-1zM48 45h1v1h-1zM48 62h1v1h-1zM49 43h1v2h-1zM50 42h1v1h-1zM50 61h1v1h-1zM50 45h3v2h-3zM52 47h2v1h-2zM56 60h1v1h-1zM59 52h1v1h-1zM60 53h1v1h-1z"/>
<path fill="#00e7fc" d="M35 38h1v1h-1zM35 41h1v1h-1zM35 47h1v1h-1zM35 48h2v1h-2zM36 42h2v1h-2zM36 45h2v1h-2zM36 46h5v1h-5zM37 37h2v1h-2zM37 47h6v1h-6zM38 49h7v1h-7zM38 48h9v1h-9zM39 38h1v1h-1zM39 41h1v1h-1zM39 50h1v1h-1zM40 39h1v2h-1zM40 52h1v1h-1zM41 54h1v2h-1zM41 57h1v1h-1zM41 51h2v1h-2zM41 56h5v1h-5zM42 53h1v1h-1zM42 61h1v1h-1zM42 52h2v1h-2zM43 54h1v1h-1zM43 55h2v1h-2zM43 50h3v1h-3zM44 57h1v1h-1zM44 60h1v1h-1zM45 51h1v1h-1zM45 58h1v1h-1zM48 44h1v1h-1zM48 63h1v1h-1zM49 45h1v2h-1zM49 64h1v1h-1zM50 62h1v1h-1zM57 60h1v1h-1zM60 51h1v1h-1z"/>
<path fill="#00fc15" d="M37 39h1v1h-1z"/>
<path fill="#00fc2a" d="M37 40h1v1h-1z"/>
<path fill="#00fc54" d="M36 39h1v1h-1zM38 40h1v1h-1zM42 59h1v1h-1z"/>
<path fill="#00fc69" d="M36 40h1v1h-1zM38 39h1v1h-1z"/>
<path fill="#00fc7e" d="M37 38h1v1h-1zM43 59h1v1h-1z"/>
<path fill="#00fca8" d="M37 41h1v1h-1z"/>
<path fill="#00fcbd" d="M36 38h1v1h-1z"/>
<path fill="#00fcd2" d="M38 38h1v1h-1zM39 39h1v2h-1zM41 59h1v1h-1zM42 58h2v1h-2zM42 60h2v1h-2zM49 63h1v1h-1z"/>
<path fill="#00fce7" d="M35 39h1v2h-1zM36 41h1v1h-1zM38 41h1v1h-1zM40 50h2v1h-2zM41 60h1v1h-1zM42 57h1v1h-1zM44 58h1v1h-1zM49 62h1v1h-1zM50 63h1v1h-1z"/>
<path fill="#00fcfc" d="M36 37h1v1h-1zM40 51h1v1h-1zM41 52h1v1h-1zM41 58h1v1h-1zM42 50h1v1h-1zM42 55h1v1h-1zM43 51h1v1h-1zM43 53h1v1h-1zM43 57h1v1h-1zM44 59h1v1h-1zM60 52h1v1h-1z"/>
</g>
</g></g>
<rect x="1373.2" y="654.8" width="417.4" height="415.4" fill="#000"/>
<g clip-path="url(#cd120)"><g filter="url(#softi)">
<g transform="translate(1373.2,654.8) scale(4.53696,4.51522)">
<path fill="#00002a" d="M75 21h1v1h-1z"/>
<path fill="#000054" d="M28 27h1v1h-1zM80 52h1v1h-1zM85 57h1v1h-1z"/>
</g>
</g></g>
<line x1="349" y1="1072.5" x2="492" y2="1160" stroke="#000" stroke-width="7.5" stroke-linecap="round" stroke-dasharray="0.01 15.6"/>
<line x1="736" y1="1072" x2="508" y2="1160" stroke="#000" stroke-width="7.5" stroke-linecap="round" stroke-dasharray="0.01 15.6"/>
<line x1="853" y1="1070.5" x2="697" y2="1157" stroke="#000" stroke-width="7.5" stroke-linecap="round" stroke-dasharray="0.01 15.6"/>
<line x1="1265" y1="1073" x2="699" y2="1151" stroke="#000" stroke-width="7.5" stroke-linecap="round" stroke-dasharray="0.01 15.6"/>
<line x1="1380" y1="1072.5" x2="1781" y2="1159" stroke="#000" stroke-width="7.5" stroke-linecap="round" stroke-dasharray="0.01 15.6"/>
<line x1="1792.4" y1="1074" x2="1792.4" y2="1160" stroke="#000" stroke-width="7.5" stroke-linecap="round" stroke-dasharray="0.01 15.6"/>
<rect x="494.3" y="1166.2" width="201.2" height="1528.5" fill="#85c8e8"/>
<line x1="336.5" y1="1234.5" x2="363.75" y2="1234.5" stroke="#333" stroke-width="3.5"/>
<line x1="336.5" y1="1914.5" x2="363.75" y2="1914.5" stroke="#333" stroke-width="3.5"/>
<line x1="336.5" y1="2593" x2="363.75" y2="2593" stroke="#333" stroke-width="3.5"/>
<line x1="1762.35" y1="1370.4" x2="1789.6" y2="1370.4" stroke="#333" stroke-width="3.5"/>
<line x1="1762.35" y1="1778" x2="1789.6" y2="1778" stroke="#333" stroke-width="3.5"/>
<line x1="1762.35" y1="2186" x2="1789.6" y2="2186" stroke="#333" stroke-width="3.5"/>
<line x1="1762.35" y1="2592.5" x2="1789.6" y2="2592.5" stroke="#333" stroke-width="3.5"/>
<line x1="497.6" y1="1166.2" x2="497.6" y2="1193.45" stroke="#0a3a60" stroke-width="3.5"/>
<line x1="497.6" y1="2667.45" x2="497.6" y2="2694.7" stroke="#0a3a60" stroke-width="3.5"/>
<line x1="1142.7" y1="1166.2" x2="1142.7" y2="1193.45" stroke="#333" stroke-width="3.5"/>
<line x1="1142.7" y1="2667.45" x2="1142.7" y2="2694.7" stroke="#333" stroke-width="3.5"/>
<g clip-path="url(#cplot)" fill="none" stroke-linejoin="round" stroke-linecap="butt">
<path d="M336.1 2586.9 L351.5 2583.8 L363.8 2576.2 L376.1 2570.0 L385.3 2562.3 L394.5 2560.8 L402.2 2562.9 L411.4 2574.6 L422.1 2582.3 L436.0 2585.4 L446.7 2582.3 L459.0 2576.2 L468.2 2570.0 L477.4 2566.9 L486.6 2560.8 L495.8 2558.6 L508.1 2559.3 L520.4 2557.7 L529.6 2553.1 L538.8 2540.8 L548.1 2519.3 L557.3 2491.7 L565.0 2461.0 L572.6 2430.3 L580.3 2399.6 L588.0 2371.9 L595.7 2341.2 L604.0 2310.5 L611.9 2279.8 L619.3 2252.1 L627.0 2221.4 L634.7 2190.7 L641.7 2160.0 L655.6 2120.7 L670.9 2090.0 L683.2 2059.3 L695.5 2028.6 L707.8 1991.7 L723.1 1951.8 L738.5 1911.8 L753.8 1875.0 L769.2 1838.1 L784.5 1801.3 L799.9 1764.4 L815.3 1727.6 L830.0 1693.8 L839.2 1675.4 L846.0 1660.0 L873.0 1596.1 L888.4 1565.4 L903.7 1534.7 L919.1 1504.0 L934.4 1476.3 L949.8 1451.8 L965.1 1430.3 L980.5 1418.0 L995.8 1414.9 L1011.2 1418.0 L1026.6 1430.3 L1041.9 1450.2 L1057.3 1470.2 L1072.6 1484.0 L1088.0 1493.2 L1103.3 1493.2 L1112.6 1490.2 L1124.8 1496.3 L1140.2 1504.0 L1149.4 1505.5 L1164.8 1500.9 L1180.1 1499.4 L1195.5 1502.4 L1207.8 1513.2 L1220.0 1522.4 L1235.4 1523.9 L1247.7 1525.5 L1260.0 1519.3 L1275.3 1516.3 L1290.7 1517.8 L1309.1 1520.9 L1330.0 1525.5 L1348.4 1525.5 L1366.9 1527.0 L1391.4 1525.5 L1416.0 1525.5 L1437.5 1519.3 L1459.0 1517.8 L1474.3 1522.4 L1489.7 1527.0 L1508.1 1531.6 L1526.6 1530.1 L1545.0 1527.0 L1560.3 1519.3 L1572.6 1510.1 L1591.1 1505.5 L1609.5 1502.4 L1627.9 1499.4 L1646.3 1496.3 L1661.7 1493.2 L1677.1 1485.6 L1692.4 1484.0 L1710.8 1485.6 L1729.3 1485.6 L1747.7 1482.5 L1763.0 1476.3 L1775.3 1467.1 L1783.0 1454.8 L1787.6 1442.6" stroke="#000" stroke-width="16.5"/>
<path d="M336.1 2535.3 L340.7 2537.1 L353.0 2542.4 L363.8 2540.8 L379.1 2527.0 L396.0 2513.2 L409.9 2502.4 L422.1 2500.9 L431.4 2502.4 L437.5 2519.3 L445.2 2547.0 L452.9 2574.6 L459.0 2583.8 L468.2 2584.4 L477.4 2580.1 L486.6 2576.2 L494.3 2581.4 L502.0 2582.3 L514.3 2578.3 L523.5 2582.3 L535.8 2583.2 L545.0 2577.1 L554.2 2556.2 L563.4 2528.6 L572.6 2497.8 L578.8 2467.1 L583.4 2436.4 L586.4 2405.7 L588.9 2375.0 L591.1 2344.3 L593.5 2313.6 L595.7 2282.9 L598.1 2252.1 L600.9 2221.4 L603.3 2190.7 L605.8 2160.0 L607.9 2120.7 L611.9 2059.3 L615.6 1997.8 L620.2 1951.8 L624.8 1905.7 L631.0 1844.3 L637.1 1798.2 L641.7 1752.1 L646.3 1706.1 L651.9 1660.0 L654.0 1620.7 L657.1 1574.6 L661.7 1528.6 L666.3 1497.8 L670.9 1467.1 L680.1 1436.4 L685.7 1410.3 L693.9 1410.3 L698.6 1421.1 L707.8 1451.8 L717.0 1491.7 L726.2 1528.6 L735.4 1574.6 L743.1 1620.7 L748.3 1660.0 L755.4 1690.7 L766.1 1727.6 L778.4 1761.4 L790.7 1789.0 L799.9 1807.4 L809.1 1819.7 L821.4 1822.8 L830.0 1822.2 L845.4 1823.4 L860.7 1825.8 L876.1 1830.5 L888.4 1841.2 L896.0 1856.6 L903.7 1868.8 L916.0 1876.5 L928.3 1882.7 L937.5 1896.5 L943.6 1911.8 L952.9 1922.6 L965.1 1930.3 L972.8 1942.6 L980.5 1957.9 L988.2 1970.2 L998.9 1979.4 L1008.1 1994.8 L1014.3 2013.2 L1018.9 2034.7 L1023.5 2056.2 L1028.1 2077.7 L1032.7 2099.2 L1036.4 2120.7 L1040.4 2142.2 L1043.5 2160.0 L1048.1 2190.7 L1052.7 2221.4 L1057.3 2258.3 L1061.0 2295.1 L1065.0 2332.0 L1068.9 2368.8 L1072.6 2405.7 L1076.3 2442.6 L1080.3 2479.4 L1084.3 2516.3 L1088.0 2553.1 L1092.6 2590.0 L1097.2 2626.8 L1101.8 2663.7 L1106.4 2697.5 L1111.0 2728.2" stroke="#f00" stroke-width="15.5"/>
</g>
<g clip-path="url(#cband)" fill="none" stroke-linejoin="round">
<path d="M336.1 2586.9 L351.5 2583.8 L363.8 2576.2 L376.1 2570.0 L385.3 2562.3 L394.5 2560.8 L402.2 2562.9 L411.4 2574.6 L422.1 2582.3 L436.0 2585.4 L446.7 2582.3 L459.0 2576.2 L468.2 2570.0 L477.4 2566.9 L486.6 2560.8 L495.8 2558.6 L508.1 2559.3 L520.4 2557.7 L529.6 2553.1 L538.8 2540.8 L548.1 2519.3 L557.3 2491.7 L565.0 2461.0 L572.6 2430.3 L580.3 2399.6 L588.0 2371.9 L595.7 2341.2 L604.0 2310.5 L611.9 2279.8 L619.3 2252.1 L627.0 2221.4 L634.7 2190.7 L641.7 2160.0 L655.6 2120.7 L670.9 2090.0 L683.2 2059.3 L695.5 2028.6 L707.8 1991.7 L723.1 1951.8 L738.5 1911.8 L753.8 1875.0 L769.2 1838.1 L784.5 1801.3 L799.9 1764.4 L815.3 1727.6 L830.0 1693.8 L839.2 1675.4 L846.0 1660.0 L873.0 1596.1 L888.4 1565.4 L903.7 1534.7 L919.1 1504.0 L934.4 1476.3 L949.8 1451.8 L965.1 1430.3 L980.5 1418.0 L995.8 1414.9 L1011.2 1418.0 L1026.6 1430.3 L1041.9 1450.2 L1057.3 1470.2 L1072.6 1484.0 L1088.0 1493.2 L1103.3 1493.2 L1112.6 1490.2 L1124.8 1496.3 L1140.2 1504.0 L1149.4 1505.5 L1164.8 1500.9 L1180.1 1499.4 L1195.5 1502.4 L1207.8 1513.2 L1220.0 1522.4 L1235.4 1523.9 L1247.7 1525.5 L1260.0 1519.3 L1275.3 1516.3 L1290.7 1517.8 L1309.1 1520.9 L1330.0 1525.5 L1348.4 1525.5 L1366.9 1527.0 L1391.4 1525.5 L1416.0 1525.5 L1437.5 1519.3 L1459.0 1517.8 L1474.3 1522.4 L1489.7 1527.0 L1508.1 1531.6 L1526.6 1530.1 L1545.0 1527.0 L1560.3 1519.3 L1572.6 1510.1 L1591.1 1505.5 L1609.5 1502.4 L1627.9 1499.4 L1646.3 1496.3 L1661.7 1493.2 L1677.1 1485.6 L1692.4 1484.0 L1710.8 1485.6 L1729.3 1485.6 L1747.7 1482.5 L1763.0 1476.3 L1775.3 1467.1 L1783.0 1454.8 L1787.6 1442.6" stroke="#002d52" stroke-width="16.5"/>
<path d="M336.1 2535.3 L340.7 2537.1 L353.0 2542.4 L363.8 2540.8 L379.1 2527.0 L396.0 2513.2 L409.9 2502.4 L422.1 2500.9 L431.4 2502.4 L437.5 2519.3 L445.2 2547.0 L452.9 2574.6 L459.0 2583.8 L468.2 2584.4 L477.4 2580.1 L486.6 2576.2 L494.3 2581.4 L502.0 2582.3 L514.3 2578.3 L523.5 2582.3 L535.8 2583.2 L545.0 2577.1 L554.2 2556.2 L563.4 2528.6 L572.6 2497.8 L578.8 2467.1 L583.4 2436.4 L586.4 2405.7 L588.9 2375.0 L591.1 2344.3 L593.5 2313.6 L595.7 2282.9 L598.1 2252.1 L600.9 2221.4 L603.3 2190.7 L605.8 2160.0 L607.9 2120.7 L611.9 2059.3 L615.6 1997.8 L620.2 1951.8 L624.8 1905.7 L631.0 1844.3 L637.1 1798.2 L641.7 1752.1 L646.3 1706.1 L651.9 1660.0 L654.0 1620.7 L657.1 1574.6 L661.7 1528.6 L666.3 1497.8 L670.9 1467.1 L680.1 1436.4 L685.7 1410.3 L693.9 1410.3 L698.6 1421.1 L707.8 1451.8 L717.0 1491.7 L726.2 1528.6 L735.4 1574.6 L743.1 1620.7 L748.3 1660.0 L755.4 1690.7 L766.1 1727.6 L778.4 1761.4 L790.7 1789.0 L799.9 1807.4 L809.1 1819.7 L821.4 1822.8 L830.0 1822.2 L845.4 1823.4 L860.7 1825.8 L876.1 1830.5 L888.4 1841.2 L896.0 1856.6 L903.7 1868.8 L916.0 1876.5 L928.3 1882.7 L937.5 1896.5 L943.6 1911.8 L952.9 1922.6 L965.1 1930.3 L972.8 1942.6 L980.5 1957.9 L988.2 1970.2 L998.9 1979.4 L1008.1 1994.8 L1014.3 2013.2 L1018.9 2034.7 L1023.5 2056.2 L1028.1 2077.7 L1032.7 2099.2 L1036.4 2120.7 L1040.4 2142.2 L1043.5 2160.0 L1048.1 2190.7 L1052.7 2221.4 L1057.3 2258.3 L1061.0 2295.1 L1065.0 2332.0 L1068.9 2368.8 L1072.6 2405.7 L1076.3 2442.6 L1080.3 2479.4 L1084.3 2516.3 L1088.0 2553.1 L1092.6 2590.0 L1097.2 2626.8 L1101.8 2663.7 L1106.4 2697.5 L1111.0 2728.2" stroke="#be2d4b" stroke-width="15.5"/>
</g>
<rect x="336.5" y="1166.2" width="1453.1" height="1528.5" fill="none" stroke="#000" stroke-width="12.5"/>
<rect x="494.3" y="1169.45" width="201.2" height="3" fill="#00305a"/>
<rect x="494.3" y="2688.45" width="201.2" height="3" fill="#00305a"/>
<g clip-path="url(#cplot)" fill="none" stroke-linejoin="round"><path d="M1197.0 2728.2 L1201.6 2694.4 L1207.8 2666.8 L1217.0 2642.2 L1226.2 2631.4 L1235.4 2634.5 L1244.6 2651.4 L1253.8 2669.8 L1263.0 2676.0 L1275.3 2671.4 L1287.6 2660.6 L1299.9 2648.3 L1312.2 2643.7 L1330.0 2646.8 L1342.3 2639.1 L1354.6 2614.5 L1366.9 2605.3 L1379.1 2593.0 L1391.4 2588.4 L1400.6 2599.2 L1409.9 2614.5 L1419.1 2617.6 L1431.4 2605.3 L1443.6 2602.3 L1455.9 2602.3 L1468.2 2590.0 L1477.4 2580.8 L1489.7 2580.1 L1502.0 2586.9 L1514.3 2594.6 L1529.6 2599.2 L1545.0 2608.4 L1557.3 2613.0 L1572.6 2609.9 L1588.0 2606.9 L1600.3 2596.1 L1609.5 2577.7 L1615.6 2559.3 L1621.8 2543.9 L1634.1 2534.7 L1646.3 2527.0 L1658.6 2513.2 L1667.8 2500.9 L1680.1 2497.8 L1687.8 2504.0 L1695.5 2513.2 L1707.8 2513.2 L1723.1 2511.7 L1735.4 2517.8 L1747.7 2528.6 L1760.0 2537.8 L1772.3 2547.0 L1784.5 2550.0 L1796.8 2550.0" stroke="#f00" stroke-width="15.5"/><path d="M1088.0 2553.1 L1092.6 2590.0 L1097.2 2626.8 L1101.8 2663.7 L1106.4 2697.5 L1111.0 2728.2" stroke="#f00" stroke-width="15.5"/><path d="M1747.7 1482.5 L1763.0 1476.3 L1775.3 1467.1 L1783.0 1454.8 L1787.6 1442.6" stroke="#000" stroke-width="16.5"/></g>
<text transform="translate(0,102.9)" font-size="98" stroke="#000" stroke-width="2.0" stroke-linejoin="round"><tspan x="353.0" letter-spacing="0.28">fluorescence</tspan> <tspan x="931.1" letter-spacing="0.38">image</tspan></text>
<text transform="translate(0,628.2)" font-size="98" stroke="#000" stroke-width="2.0" stroke-linejoin="round"><tspan x="352.3" letter-spacing="0.21">differential</tspan> <tspan x="829.6" letter-spacing="-0.07">image</tspan></text>
<text transform="translate(0,534.0) scale(0.916,1)" font-size="92.5" font-weight="bold" fill="#fff" stroke="#fff" stroke-width="0.6" stroke-linejoin="round"><tspan x="474.0">0</tspan> <tspan x="552.2" letter-spacing="0.87">sec</tspan></text>
<text transform="translate(0,534.0) scale(0.916,1)" font-size="92.5" font-weight="bold" fill="#fff" stroke="#fff" stroke-width="0.6" stroke-linejoin="round"><tspan x="1013.6">20</tspan> <tspan x="1145.0" letter-spacing="0.87">sec</tspan></text>
<text transform="translate(0,534.0) scale(0.916,1)" font-size="92.5" font-weight="bold" fill="#fff" stroke="#fff" stroke-width="0.6" stroke-linejoin="round" clip-path="url(#k0)"><tspan x="1562.5">120</tspan> <tspan x="1745.9" letter-spacing="0.87">sec</tspan></text>
<text transform="translate(0,1043.5) scale(0.916,1)" font-size="92.5" font-weight="bold" fill="#fff" stroke="#fff" stroke-width="0.6" stroke-linejoin="round"><tspan x="477.1">0</tspan> <tspan x="555.5" letter-spacing="1.25">sec</tspan></text>
<text transform="translate(0,1059.0) scale(0.916,1)" font-size="92.5" font-weight="bold" fill="#fff" stroke="#fff" stroke-width="0.6" stroke-linejoin="round"><tspan x="1021.7">20</tspan> <tspan x="1153.1" letter-spacing="0.21">sec</tspan></text>
<text transform="translate(0,1056.3) scale(0.916,1)" font-size="92.5" font-weight="bold" fill="#fff" stroke="#fff" stroke-width="0.6" stroke-linejoin="round" clip-path="url(#k1)"><tspan x="1550.4">120</tspan> <tspan x="1735.1" letter-spacing="0.92">sec</tspan></text>
<text transform="translate(0,1265.5)" font-size="98.2" stroke="#000" stroke-width="2.0" stroke-linejoin="round"><tspan x="378.6" letter-spacing="-0.26">acetone</tspan> <tspan x="756.4" letter-spacing="-0.57">vapor</tspan></text>
<text transform="translate(0,1381.5)" font-size="98.5" stroke="#000" stroke-width="2.0" stroke-linejoin="round" clip-path="url(#k2)"><tspan x="348.9" letter-spacing="2.50">(1</tspan> <tspan x="470.2" letter-spacing="-2.50">ppm,</tspan> <tspan x="701.6" letter-spacing="1.32">20</tspan> <tspan x="843.4" letter-spacing="0.10">sec)</tspan></text>
<text transform="translate(0,1427.0)" font-size="98.8" font-weight="bold" stroke="#000" stroke-width="0.6" stroke-linejoin="round"><tspan x="1134.9" letter-spacing="-0.06">fluorescence</tspan></text>
<text transform="translate(0,2421.0)" font-size="99.5" font-weight="bold" fill="#f00" stroke="#f00" stroke-width="0.6" stroke-linejoin="round"><tspan x="1234.8" letter-spacing="0.08">differential</tspan></text>
<g filter="url(#softt)"><text transform="translate(0,1262.7)" font-size="90.5" stroke="#111" stroke-width="0.8" stroke-linejoin="round" fill="#111" clip-path="url(#k3)"><tspan x="184.6" letter-spacing="-2.50">10</tspan></text></g>
<text transform="translate(0,1942.0)" font-size="90.5" stroke="#111" stroke-width="0.8" stroke-linejoin="round" filter="url(#softt)" fill="#111"><tspan x="230.8">5</tspan></text>
<text transform="translate(0,2622.0)" font-size="90.5" stroke="#111" stroke-width="0.8" stroke-linejoin="round" filter="url(#softt)" fill="#111"><tspan x="231.4">0</tspan></text>
<text transform="translate(0,1402.3)" font-size="90.5" stroke="#111" stroke-width="0.8" stroke-linejoin="round" filter="url(#softt)" fill="#111"><tspan x="1836.9" letter-spacing="-2.50">0.3</tspan></text>
<text transform="translate(0,1810.0)" font-size="90.5" stroke="#111" stroke-width="0.8" stroke-linejoin="round" filter="url(#softt)" fill="#111"><tspan x="1836.9" letter-spacing="-2.36">0.2</tspan></text>
<g filter="url(#softt)"><text transform="translate(0,2218.2)" font-size="90.5" stroke="#111" stroke-width="0.8" stroke-linejoin="round" fill="#111" clip-path="url(#k4)"><tspan x="1836.9">0.1</tspan></text></g>
<text transform="translate(0,2624.9)" font-size="90.5" stroke="#111" stroke-width="0.8" stroke-linejoin="round" filter="url(#softt)" fill="#111"><tspan x="1836.9">0</tspan></text>
<text transform="translate(0,2816.8)" font-size="90.5" stroke="#111" stroke-width="0.8" stroke-linejoin="round" filter="url(#softt)" fill="#111"><tspan x="473.7">0</tspan></text>
<g filter="url(#softt)"><text transform="translate(0,2816.8)" font-size="90.5" stroke="#111" stroke-width="0.8" stroke-linejoin="round" fill="#111" clip-path="url(#k5)"><tspan x="1119.0">1</tspan></text></g>
<text transform="translate(0,2816.8)" font-size="90.5" stroke="#111" stroke-width="0.8" stroke-linejoin="round" filter="url(#softt)" fill="#111"><tspan x="1763.1">2</tspan></text>
<text transform="translate(0,2923.0)" font-size="112" stroke="#000" stroke-width="2.0" stroke-linejoin="round"><tspan x="883.7" letter-spacing="-2.41">time</tspan> <tspan x="1116.1" letter-spacing="-0.83">(min)</tspan></text>
<text transform="translate(122.4,0) rotate(-90)" font-size="110.5" stroke="#000" stroke-width="2.0" stroke-linejoin="round"><tspan x="-2523.1" letter-spacing="-2.03">Δaverage</tspan> <tspan x="-2035.2" letter-spacing="-1.09">intensity</tspan> <tspan x="-1607.5" letter-spacing="0.26">(a.u.)</tspan></text>
<text transform="translate(2082.2,0) rotate(-90)" font-size="110.5" stroke="#000" stroke-width="2.0" stroke-linejoin="round"><tspan x="-2504.4" letter-spacing="-2.16">slope</tspan> <tspan x="-2218.2">of</tspan> <tspan x="-2098.3" letter-spacing="-0.99">Δave.</tspan> <tspan x="-1795.5" letter-spacing="-1.59">int.</tspan> <tspan x="-1620.9" letter-spacing="-0.28">(a.u.)</tspan></text>
</g>
</svg>
</body></html>
